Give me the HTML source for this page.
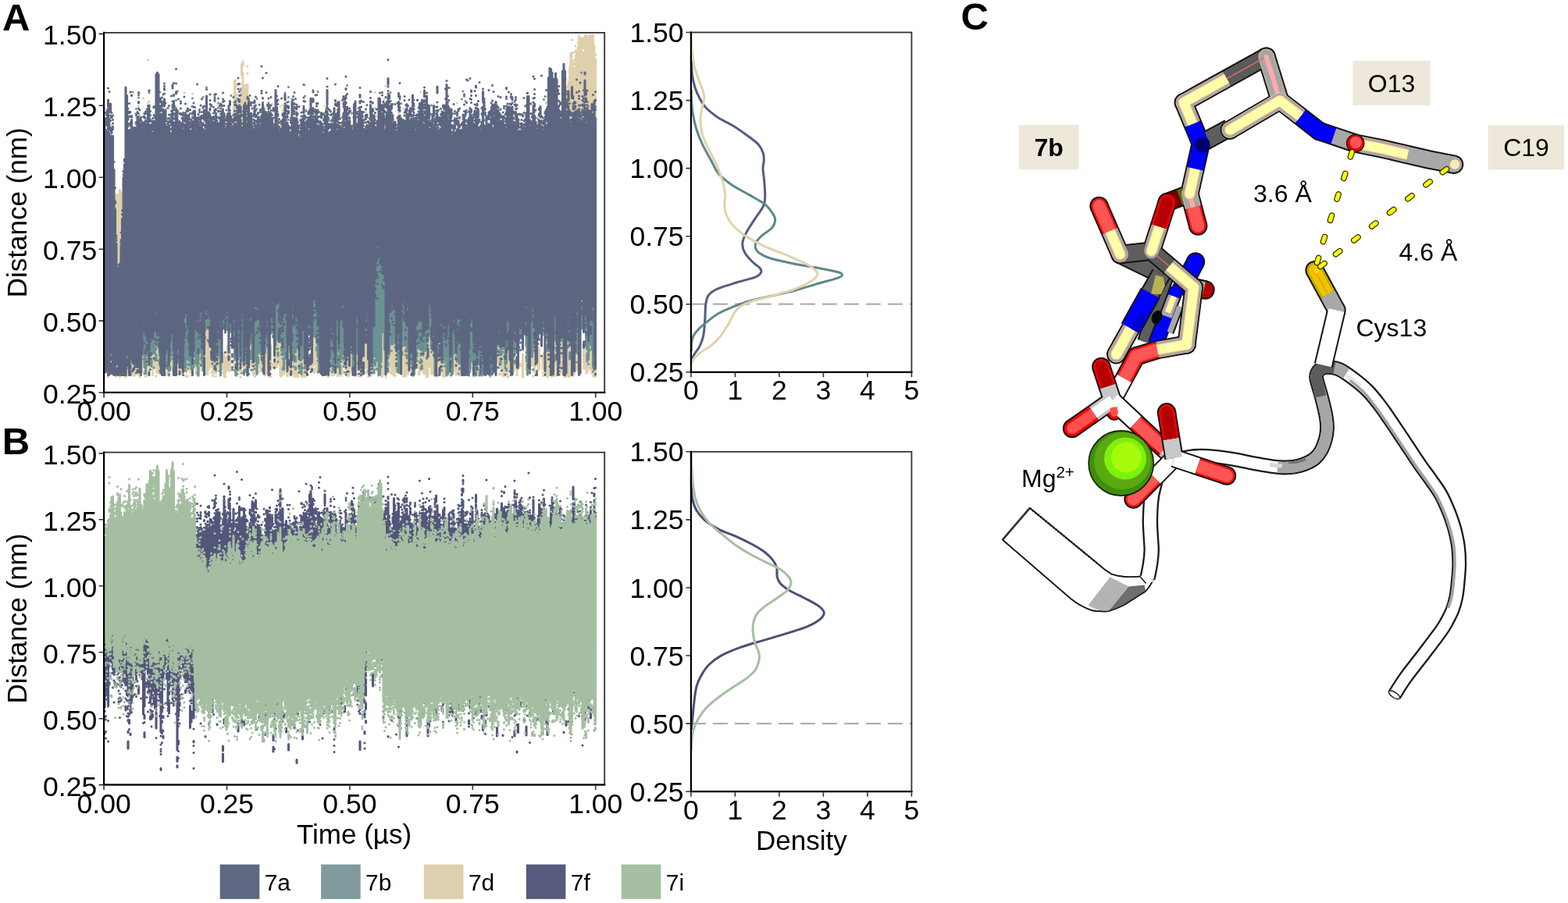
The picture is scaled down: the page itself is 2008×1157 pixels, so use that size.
<!DOCTYPE html>
<html lang="en"><head><meta charset="utf-8"><title>Figure</title>
<style>
html,body{margin:0;padding:0;background:#fff;width:2008px;height:1157px}
svg{display:block;font-family:'Liberation Sans', sans-serif;fill:#000}
</style></head><body>
<svg width="2008" height="1157" viewBox="0 0 2008 1157">
<rect width="2008" height="1157" fill="#fff"/>
<g transform="scale(0.5)" fill="none" stroke-width="6.2" stroke-linecap="round">
<path d="M268 295v0m0 607v27m0 20v0M271 280v0m0 15v0m0 626v21M274 920v32M277 292v0m0 655v14m0 5v0M280 340v0m0 615v3M283 900v40M286 321v0m0 572v53M289 322v0m0 632v0M292 928v19m0 11v2M295 504v38m0 382v25m0 5v3m0 5v0M298 498v132m0 289v45M301 503v195m0 196v64M304 499v200M307 487v199m0 258v3m0 5v3m0 5v5M310 494v145m0 316v0M319 950v3M322 922v44M325 367v0m0 538v49m0 6v2M328 307v0m0 32v0m0 539v67m0 4v0M334 340v0m0 575v18m0 5v0m0 8v0M337 888v73M340 347v0m0 547v63M343 354v0m0 573v18m0 11v0m0 7v0M346 292v0m0 23v0m0 28v0m0 554v64M349 302v0m0 40v0m0 589v15m0 4v0M352 309v0m0 29v0m0 587v19m0 8v1M355 272v0m0 44v1m0 6v0m0 20v0m0 527v91M358 239v0m0 58v0m0 7v0m0 26v0m0 619v6m0 11v0M361 927v18m0 8v3M364 867v86M367 252v0m0 80v0m0 565v42m0 13v0M370 328v0m0 6v0m0 601v1m0 16v0m0 8v0M373 905v47m0 5v0m0 8v0M376 895v48m0 6v0m0 11v0M379 154v0m0 109v0m0 25v0m0 582v72m0 10v0m0 6v0m0 4v0M382 260v0m0 35v0m0 16v0m0 595v44M385 321v0m0 6v0m0 5v0m0 6v0m0 536v52M388 891v38M391 310v0m0 565v74m0 6v0m0 6v0M394 277v0m0 39v0m0 6v0m0 572v47M397 297v0m0 23v0m0 572v46m0 6v0M400 287v0m0 583v74m0 8v0m0 12v0M403 303v0m0 549v94m0 7v2M406 288v0m0 12v0m0 536v105m0 9v2M409 871v71m0 8v1m0 5v1M421 954v0M424 875v57m0 5v5m0 18v0M427 303v0m0 7v0m0 622v11m0 12v0M430 922v35m0 4v0M433 326v0m0 584v37M436 333v0m0 564v46m0 8v0M439 868v74m0 5v1M442 866v74M445 890v47m0 7v0M451 946v5m0 10v0M454 852v90m0 5v3m0 9v0M457 284v0m0 33v0m0 13v0m0 508v106M460 321v0m0 615v19m0 4v0M463 763v191M466 317v0m0 5v0m0 615v20M469 314v0m0 634v1m0 6v0M472 238v0m0 696v7m0 4v0M475 304v0m0 628v18m0 13v0M478 294v2m0 12v0m0 8v0m0 453v178m0 6v2m0 9v1M481 306v0m0 608v35m0 15v0M484 310v0m0 40v0m0 569v22m0 5v0M487 899v46m0 9v0M490 272v0m0 33v0m0 575v73m0 9v0M493 240v0m0 63v0m0 601v33M496 296v0m0 36v0m0 572v33M499 322v0m0 555v66M502 912v46M505 909v52M508 320v0m0 8v0m0 595v34m0 6v0M511 296v0m0 20v0m0 581v44m0 5v0M514 322v0m0 458v149m0 5v0M517 870v68m0 11v1M520 876v58m0 6v7M523 902v48m0 8v0M526 840v113m0 6v0M529 816v129m0 10v0M532 287v0m0 47v0m0 501v116m0 5v3M535 298v0m0 13v0m0 4v0m0 521v105m0 6v0M538 865v66m0 7v0M541 308v0m0 570v55m0 5v4m0 12v0M544 885v56m0 7v0m0 6v0m0 8v0M547 306v0m0 535v109m0 7v0m0 7v0M550 920v31M553 305v0m0 558v93m0 8v0M556 324v0m0 8v0m0 541v69m0 7v2M559 764v166m0 6v5M562 299v0m0 14v0m0 16v0m0 568v47M565 933v9m0 5v0M568 313v0M571 798v2m0 112v35m0 8v0M574 783v17m0 104v55m0 6v0M577 914v45m0 5v2M580 775v25M583 291v0m0 481v28m0 87v62M589 893v58M592 332v0M595 313v0M598 261v0m0 14v0m0 5v0m0 6v11m0 5v28m0 463v7M601 207v126m0 577v32m0 9v0M604 206v0m0 10v4m0 4v0m0 14v91m0 584v29m0 5v6M607 243v0m0 21v66m0 585v33m0 7v0m0 8v0M610 263v0m0 12v0m0 9v33m0 588v47M613 274v0m0 7v0m0 9v0m0 14v8m0 577v61m0 8v0M616 232v0m0 11v7m0 5v0m0 6v1m0 6v3m0 11v35m0 572v62m0 15v0M619 165v28m0 22v0m0 8v4m0 6v100m0 585v19M622 158v11m0 18v0m0 4v0m0 6v4m0 6v126m0 572v22m0 13v0m0 10v0M625 222v110m0 587v22m0 6v8M628 219v0m0 20v90m0 589v23m0 9v0M631 217v0m0 9v23m0 4v103m0 559v24M634 170v0m0 18v0m0 30v18m0 5v0m0 5v3m0 12v80m0 592v4m0 5v5M637 273v0m0 7v0m0 663v0M640 860v76M643 874v66M646 871v69M649 321v0m0 599v40M652 321v0m0 580v54m0 10v0M655 346v0m0 574v36m0 5v1M658 939v16m0 5v0M661 880v58m0 5v0M664 303v0m0 9v0m0 13v0m0 531v84m0 10v4M667 303v3m0 18v0m0 524v91m0 7v2M670 300v0m0 589v53M673 901v48M679 274v0m0 611v77M682 306v0m0 558v72m0 12v0m0 8v0M685 843v100m0 5v0m0 6v0M688 321v0m0 606v36M691 922v27m0 8v3m0 5v0M694 310v0m0 483v7m0 85v61m0 12v0m0 7v0M697 267v0m0 500v33M700 282v0m0 487v31m0 132v10M703 905v29m0 5v0M706 757v180M709 767v168m0 6v0M712 285v0m0 37v0m0 454v137m0 7v0m0 8v0M715 339v0m0 436v153m0 6v0M718 274v0m0 49v0m0 541v99M721 873v91M724 270v0m0 13v0m0 615v48m0 4v6m0 4v0M727 279v0m0 609v64m0 4v2M730 885v58M733 254v0m0 14v0m0 48v0m0 450v180m0 7v0M736 905v59M739 875v72m0 11v0M742 887v55M745 935v18m0 9v0M748 773v163m0 11v0M751 278v0m0 480v201M754 290v0m0 14v0m0 586v76M757 761v190m0 12v2M760 273v0m0 9v0m0 18v0m0 29v0m0 538v83m0 4v5M763 842v115m0 5v4M766 325v0m0 567v52M769 358v0m0 545v50M772 321v0m0 595v44m0 5v0M775 912v39m0 4v1m0 7v2M778 282v0m0 45v0m0 547v86m0 4v0M781 218v0m0 109v3m0 6v0m0 590v39M784 929v30M787 350v0m0 590v1m0 16v0M793 936v5m0 6v0M796 321v0M799 909v36M802 761v39m0 118v19m0 7v3M805 301v0m0 18v0m0 5v0m0 405v206m0 13v7M808 311v0m0 536v87m0 9v0M811 870v77M814 331v0m0 577v40m0 6v1M817 938v1m0 11v0M820 351v0m0 571v20m0 8v0M823 325v0m0 608v18m0 5v3M826 939v6m0 12v0M829 303v0m0 37v0m0 539v55M832 272v0m0 17v0m0 619v34M838 310v0m0 601v50M841 952v4m0 5v4M844 935v9m0 8v0m0 7v0M847 821v124M850 908v37m0 5v0m0 12v0M853 912v35m0 6v0m0 6v0M856 896v60m0 5v0M859 921v18M862 879v68m0 5v0M865 895v68M868 892v69M871 317v0m0 12v0m0 592v28m0 6v0M874 318v0m0 25v0m0 542v72m0 5v1M877 758v184m0 5v10M880 264v0m0 614v39m0 6v2m0 4v5M883 332v0m0 558v35m0 15v0M886 871v69m0 5v1M889 280v0m0 619v64M892 294v0m0 612v58M895 305v0m0 599v51m0 5v0M898 313v2m0 526v110M901 320v0m0 558v47m0 6v0M904 300v0m0 51v0M907 278v0m0 17v0m0 40v0m0 7v0m0 550v43m0 7v2m0 9v0M910 958v0M913 337v0m0 558v41m0 4v0M916 322v0m0 556v65m0 5v0m0 10v0M919 939v2m0 8v0m0 15v0M922 309v0m0 590v42m0 11v0M925 295v0m0 633v36M928 297v0m0 582v75m0 5v0M931 336v0m0 570v25m0 9v0m0 4v0M934 300v0m0 531v111m0 13v0M937 287v0m0 561v95m0 10v2M940 769v176M943 320v0m0 589v35m0 12v1m0 8v0M949 309v0m0 618v23m0 4v0m0 9v0M952 293v0m0 6v0m0 20v0m0 605v22m0 7v0m0 7v0M955 343v0m0 428v164m0 11v0M958 334v0m0 571v35m0 10v0m0 6v0M961 237v0m0 39v0m0 24v0m0 10v0m0 26v3m0 549v53m0 5v0M964 298v0m0 600v33M967 279v0m0 634v33m0 4v2M970 250v0m0 64v0M973 287v0m0 42v0M976 918v35m0 9v0M979 844v122M982 287v0m0 20v0m0 538v101m0 7v3M985 253v0m0 627v70m0 9v0M988 220v0m0 42v0m0 48v0m0 643v13M991 275v0m0 11v0m0 21v0m0 591v57M994 285v0m0 627v24M997 898v40M1000 770v169m0 14v3M1003 297v0m0 467v183m0 9v0M1006 762v198M1009 838v124M1012 849v105m0 7v2M1015 883v64m0 5v2M1018 303v0m0 595v48M1021 289v0m0 11v0m0 600v50M1024 888v68M1027 325v0M1030 320v0m0 7v0m0 439v176M1033 280v0m0 482v202M1036 340v0m0 539v85M1039 298v0m0 46v0m0 535v67m0 6v7m0 5v0M1042 768v189M1045 875v84M1048 312v0m0 18v0m0 619v2M1051 891v55M1054 922v24M1057 273v0m0 647v14m0 14v4M1060 284v0m0 5v0m0 6v0m0 647v6m0 8v0m0 7v0M1063 920v28m0 7v0M1066 919v19M1069 875v60m0 7v0M1072 335v0m0 521v84m0 14v0m0 5v0M1075 345v0m0 4v0m0 530v75m0 5v0M1078 236v0m0 644v68M1081 333v0m0 555v48M1084 326v0m0 528v100M1087 876v82M1090 870v85M1093 868v98M1096 833v131M1099 330v0m0 423v185M1102 763v176M1105 296v1m0 586v70m0 5v0M1108 872v86M1111 863v88m0 5v0M1114 324v0m0 6v0m0 566v57m0 7v2M1117 283v0m0 680v1M1120 900v46m0 5v0m0 6v0M1123 349v0m0 504v97m0 4v0m0 5v0M1126 868v87M1129 309v0m0 565v78M1132 909v29m0 4v3m0 10v0M1135 916v39m0 5v4M1138 298v0m0 32v0m0 583v52M1141 333v0m0 568v38m0 4v0m0 11v0M1144 907v25M1147 282v0m0 35v0m0 16v0m0 618v8M1150 939v23M1153 308v3m0 601v27m0 7v2m0 6v0M1156 903v30m0 5v0m0 9v0M1159 327v0m0 575v38m0 8v0M1162 314v0m0 559v70M1165 301v0m0 5v4m0 8v0m0 23v0m0 535v68m0 5v2M1168 335v0m0 564v47m0 5v0m0 4v0m0 5v1M1171 264v0m0 24v0m0 43v0m0 571v38m0 12v2M1174 335v0m0 582v29m0 4v0M1177 307v0m0 18v0m0 601v30m0 6v0M1183 341v0m0 587v11m0 7v0M1186 894v49m0 8v0M1189 922v26M1192 312v0m0 9v0M1195 840v109M1198 952v2M1201 912v28m0 7v0m0 8v0M1204 906v38m0 5v0M1207 308v0m0 593v33m0 14v0M1210 881v61M1213 924v30m0 11v0M1216 942v2m0 6v0M1219 304v0m0 657v0M1222 921v34m0 5v1M1225 925v21m0 10v2M1228 776v164m0 6v3M1231 312v0m0 642v0M1234 275v0m0 21v0m0 475v163m0 10v4M1237 327v0m0 6v0m0 582v42m0 5v0M1240 253v4M1243 954v2M1246 906v40m0 7v5M1252 327v0m0 590v41M1255 320v0m0 638v7M1258 327v0m0 615v7m0 6v2M1261 315v0m0 593v39m0 5v0m0 5v0M1264 264v0M1267 297v0m0 471v156m0 10v0M1273 866v63m0 12v0M1276 320v0m0 544v62M1279 761v175m0 5v2m0 14v3M1282 782v161m0 8v0m0 8v0M1285 862v65m0 10v4M1288 341v0m0 506v102m0 4v4m0 5v1M1291 300v0m0 578v79m0 7v0M1294 300v0m0 578v56m0 14v0M1297 908v45m0 4v0M1300 285v0m0 7v0m0 34v0m0 446v189m0 5v0M1303 299v3m0 549v93m0 20v0M1306 916v11M1312 955v4M1315 306v0m0 15v0m0 539v93M1318 327v0m0 551v58m0 9v0M1324 929v33M1330 292v2m0 13v0m0 24v0m0 456v13M1333 323v0m0 610v0m0 5v0M1339 339v0m0 5v0m0 564v58M1342 294v0m0 476v30M1345 272v0m0 489v39M1348 318v0m0 562v68M1351 903v31M1354 313v0m0 15v3M1357 328v0m0 611v4M1360 851v74m0 11v0M1363 325v0m0 548v61m0 13v0M1366 882v55m0 10v3m0 14v0M1369 286v0m0 489v25m0 130v19m0 6v0M1372 333v0M1375 312v0m0 31v0M1378 298v0m0 13v0m0 4v1m0 20v0m0 554v58M1381 331v0m0 447v22m0 93v53M1384 313v2m0 473v12M1387 312v0M1390 325v0m0 461v14m0 117v29m0 9v0m0 8v0M1393 306v0m0 598v14m0 13v0M1399 248v0m0 13v0m0 4v0m0 41v0m0 622v28M1402 863v103M1405 330v0m0 10v0m0 545v61m0 6v0m0 8v0M1408 316v0m0 564v69m0 4v8M1411 952v3m0 6v0M1414 298v0m0 622v32m0 11v2M1417 913v34m0 8v3m0 5v0M1420 755v186m0 8v3M1423 264v0m0 25v0m0 575v82m0 13v4M1426 874v68m0 11v4M1429 302v2m0 608v20M1432 296v0m0 614v28M1435 772v183M1438 263v0m0 586v106M1441 268v0m0 23v0m0 11v0m0 443v212M1444 267v0m0 646v38m0 7v0M1447 292v0m0 6v0m0 9v2m0 4v23m0 607v23M1450 203v0m0 27v98m0 621v15M1453 223v0m0 11v88m0 530v104M1456 211v109m0 547v98M1459 172v0m0 5v14m0 5v139m0 544v85M1462 137v205m0 481v130M1465 102v0m0 33v0m0 5v0m0 6v0m0 10v188M1468 135v0m0 20v0m0 17v0m0 10v147m0 491v143M1471 154v0m0 8v3m0 9v158m0 613v13M1474 118v0m0 12v4m0 9v0m0 6v0m0 10v7m0 9v155m0 535v84M1477 131v209m0 556v52M1480 110v0m0 13v207m0 548v59m0 10v0M1483 92v231M1486 116v22m0 6v0m0 9v168m0 626v11M1489 98v36m0 9v185m0 426v46M1492 99v22m0 17v186m0 437v39M1495 118v2m0 4v0m0 10v0m0 5v190m0 550v52m0 7v0m0 4v2M1498 91v36m0 5v170m0 464v34m0 86v42m0 5v3m0 7v0M1501 91v248m0 426v177m0 6v0m0 8v0M1504 95v235m0 551v58m0 11v4M1507 95v225m0 570v55M1510 91v230m0 556v64M1513 91v243m0 533v72m0 6v0M1516 91v242m0 441v182M1519 91v11m0 4v205m0 617v31m0 5v0M1522 118v197m0 592v54M1525 140v1m0 11v162m0 607v31m0 5v1m0 7v0" stroke="#dfd0ab"/>
<path d="M268 334v0M286 299v0m0 597v0M301 906v0m0 20v0M322 922v34M325 917v8m0 19v0M328 348v0m0 550v0M331 338v0m0 17v0m0 11v0M334 343v0m0 8v0m0 564v5m0 9v0M337 834v63m0 7v0m0 20v0M340 236v0m0 637v27m0 6v5M343 362v3M346 887v53M349 279v0m0 12v0m0 53v0M352 926v0M355 250v0m0 588v55m0 7v0m0 14v2m0 4v8M358 326v0m0 7v0M364 853v30m0 20v0M367 337v0m0 485v81m0 17v0M370 291v0m0 35v0m0 487v128m0 16v0M373 303v0m0 27v0m0 515v66m0 12v34M376 280v0m0 575v46m0 9v2m0 7v0m0 6v0m0 10v0M379 308v0m0 18v0m0 525v57M382 232v0m0 5v0m0 674v2M385 829v51m0 5v2m0 5v0M388 822v88m0 10v19M391 798v86M394 796v109m0 37v0M397 298v0m0 20v0m0 13v0m0 438v137m0 12v5M400 226v0m0 41v0m0 19v0m0 496v94m0 17v2m0 14v14M403 259v0m0 567v42m0 12v5m0 39v0M406 824v18m0 6v32m0 5v4M409 275v0m0 10v0m0 561v31m0 5v30m0 8v15m0 15v0M415 335v3M418 262v0m0 34v0M421 314v0M424 281v0m0 45v0m0 514v45m0 10v0m0 13v8M427 305v0m0 19v0m0 495v119m0 5v0M430 304v0m0 7v0m0 578v39m0 8v10M433 897v53m0 8v4M436 869v34m0 21v0m0 17v0m0 5v0M439 301v0m0 505v106m0 7v0M442 804v68m0 9v0m0 13v2M445 303v0m0 11v0m0 13v0m0 584v0m0 7v24M448 272v0m0 5v0m0 20v0M451 236v0m0 21v0m0 20v0m0 4v1M454 286v0m0 564v8m0 17v0M457 790v109M463 774v160M472 807v136M475 796v145m0 8v1M478 780v137m0 4v0m0 13v0M481 827v93m0 13v0m0 11v0M484 814v111m0 11v0M487 312v0m0 553v48m0 19v1M490 837v49m0 19v0m0 8v33M493 252v0m0 41v0m0 611v45M496 291v0m0 25v0m0 6v0m0 7v0m0 559v24m0 11v13m0 4v0M499 837v73M502 803v115m0 5v0m0 5v3M505 306v0m0 14v0m0 487v131m0 18v0M508 811v121m0 9v21M511 306v2m0 491v104M514 780v121m0 17v0m0 16v3M517 317v0m0 470v89m0 19v31M520 249v0m0 28v0m0 54v0m0 453v116m0 10v5m0 9v24M526 311v0m0 16v0m0 452v67m0 19v0M529 224v0m0 563v35M532 797v44m0 30v1M535 787v55M538 323v0m0 481v67m0 8v4M541 878v0M547 301v0m0 504v42m0 11v2m0 12v32M553 843v29m0 6v0m0 12v0m0 10v0m0 11v2m0 31v5M556 331v0m0 499v49m0 4v0m0 8v0m0 16v0m0 16v0m0 7v4M559 264v0m0 12v0m0 10v0m0 30v0m0 23v0m0 449v113m0 10v0M562 813v93m0 8v0m0 16v0m0 20v0M565 804v158M571 798v45M574 784v50M577 802v16M580 282v0m0 16v3m0 28v0m0 444v61M583 295v0m0 21v0m0 454v76M589 319v0m0 483v49M592 245v0m0 576v12M595 307v0m0 4v0m0 503v26M598 793v27M601 788v129m0 5v0m0 27v0M604 899v20m0 18v25M607 915v25m0 7v0m0 12v0M610 774v137m0 4v0m0 4v2m0 11v0m0 15v0M613 257v0m0 12v0m0 528v98M616 229v0m0 46v1m0 613v15m0 10v2M619 286v0m0 504v134m0 32v0M622 781v130m0 15v0M625 917v8m0 7v2m0 15v2m0 9v0M628 273v0m0 30v0m0 533v88m0 23v0m0 5v0M631 882v44M634 921v41M637 255v0M640 293v0m0 12v0m0 490v71m0 4v0m0 12v0m0 20v0M643 292v0m0 504v84m0 19v21m0 28v0M646 312v0m0 516v51m0 5v21m0 23v0m0 20v0M649 929v0M652 331v0m0 446v130m0 10v0m0 28v0M655 341v0m0 437v148m0 9v0M658 253v0m0 26v0m0 494v185M661 322v0m0 463v109m0 7v1m0 13v16M664 300v0m0 14v0m0 15v0m0 460v116M667 283v0m0 43v0m0 468v60m0 35v0M673 801v106m0 10v0m0 9v6m0 12v8M679 829v75M682 289v0m0 32v0m0 491v61m0 7v2m0 8v0M685 268v0m0 537v44m0 8v17M688 264v0m0 58v0M694 297v0m0 10v0m0 13v0m0 473v43M697 765v89M700 763v66M703 333v0M706 773v68m0 16v28M709 324v0m0 456v40m0 14v38m0 22v0M712 314v0m0 462v74m0 10v5m0 29v0m0 9v9m0 15v0M715 325v3m0 6v0m0 435v53m0 20v0M718 310v0m0 477v83M721 790v89m0 10v9m0 9v2M724 791v119m0 9v0m0 24v3M727 304v0m0 455v137m0 11v0m0 13v0m0 5v22M730 760v131m0 4v0m0 6v18M733 772v92M736 905v27M739 223v0m0 26v0m0 12v0m0 46v0m0 17v0M742 338v0m0 476v87M748 254v0m0 527v99M751 332v4m0 436v151m0 16v0M754 288v0m0 39v0m0 6v0m0 457v106m0 15v0m0 15v0M757 333v0m0 431v139m0 11v12m0 15v5M760 794v79m0 10v0M763 292v0m0 55v0m0 441v60m0 32v0m0 5v0M766 894v3m0 42v5M769 337v0m0 492v80m0 9v5m0 27v0M772 306v0m0 43v0m0 463v110m0 10v1m0 5v6m0 5v10M775 830v88m0 25v0M778 295v0m0 32v0m0 6v0m0 501v46m0 9v0M781 246v0m0 60v0m0 620v5m0 8v5m0 9v0M784 283v2m0 630v28M787 337v0m0 609v3m0 8v0M790 813v27M793 824v8M802 763v97M805 325v0m0 437v101M808 763v90M811 265v0m0 519v94m0 13v0m0 6v0M814 235v0m0 76v2m0 495v106m0 10v0m0 28v0M817 314v0m0 12v0m0 5v0m0 470v143m0 5v5M820 329v0m0 602v1M826 294v0M829 291v0m0 16v0m0 572v3M832 894v24M835 280v0m0 6v0m0 618v51m0 4v0M838 277v0m0 634v6m0 24v0M841 293v0m0 30v0M844 309v0m0 587v45m0 8v0M847 787v40m0 5v7M850 312v0m0 477v125m0 6v0m0 7v3m0 24v0M853 795v139m0 5v11M862 781v140M865 297v0m0 498v106m0 16v24M868 282v0m0 577v39m0 12v26M871 777v150m0 10v20M874 334v0m0 9v1m0 434v117m0 4v20m0 8v0M877 314v0m0 451v128m0 15v0M880 767v117m0 10v12m0 10v6m0 17v0M883 261v0m0 69v4m0 542v31m0 47v0M886 307v0m0 540v30m0 5v0m0 18v0m0 39v0M889 219v0m0 62v0m0 624v0M898 284v0m0 543v20m0 4v0M901 290v0m0 38v0m0 550v6M904 340v0m0 535v73m0 5v4M907 306v0m0 55v0m0 521v16m0 17v0m0 11v0m0 7v2m0 8v0M910 357v0m0 599v6M913 796v105m0 5v0M916 801v83m0 47v0M919 947v0M922 309v1m0 476v119m0 14v16m0 7v0M925 260v0m0 39v0m0 632v12M928 824v62m0 12v0M934 306v0m0 528v0M937 795v72M940 296v0m0 486v85m0 11v0M943 321v0m0 562v32m0 36v0M946 303v0m0 13v0m0 642v4M949 772v165M955 780v135m0 6v0m0 8v1m0 4v0m0 4v0m0 6v0M958 333v0m0 428v150m0 12v0m0 5v4m0 17v7M961 700v194m0 6v0m0 6v8m0 9v0m0 4v9M964 663v262m0 20v1M967 618v301M970 623v339M973 631v328M976 608v319m0 11v3M979 324v0m0 322v204M982 291v0m0 390v170M985 267v0m0 30v0m0 398v201M991 882v51m0 19v0M994 272v0m0 30v0m0 592v24m0 12v0m0 6v0m0 7v9M997 290v0m0 32v0m0 435v151M1000 237v0m0 65v0m0 466v97m0 6v3m0 9v0M1003 770v111m0 18v0M1006 267v0m0 508v93m0 7v0m0 7v0M1009 778v100M1012 315v0m0 459v81m0 18v0m0 16v2M1015 885v0M1018 849v55m0 9v0m0 19v0m0 12v8M1021 785v170M1024 888v21M1027 265v0m0 51v0M1030 775v99m0 14v0m0 14v7M1033 768v101m0 4v0m0 7v5M1036 327v0m0 7v0m0 443v108M1039 269v0m0 55v0m0 25v0m0 469v67m0 12v3m0 9v0M1042 270v0m0 72v0m0 438v121m0 9v8m0 12v1M1045 773v116M1048 305v0M1051 812v85m0 17v0m0 19v0M1054 878v50m0 14v0M1057 879v83M1063 893v33m0 17v0M1066 296v0m0 34v0m0 498v97m0 11v0M1069 309v0m0 478v94m0 24v0m0 7v0m0 13v0M1072 795v67m0 17v13M1075 355v0m0 437v93m0 5v4m0 34v0M1078 344v0m0 473v69m0 9v2m0 13v1m0 10v10m0 10v4M1081 318v0m0 14v0m0 480v85m0 10v1m0 18v0m0 11v1m0 5v2M1084 854v6m0 10v6m0 9v25M1087 323v0m0 520v50M1090 784v92m0 6v13m0 4v0M1093 813v61m0 5v0m0 4v9m0 23v4M1096 327v0m0 479v33m0 15v3m0 8v0m0 7v4M1099 324v0m0 449v87M1102 317v0m0 5v0m0 462v71m0 6v0M1105 270v0m0 515v108m0 9v0M1108 845v33M1111 288v1m0 9v0m0 539v34m0 13v0m0 25v0M1114 333v0m0 497v74m0 4v54M1117 284v0M1120 811v95m0 5v5m0 9v0m0 36v1M1123 326v0m0 29v0m0 474v35m0 4v0m0 30v0m0 5v0M1126 868v4m0 14v0m0 28v0M1129 331v0m0 450v100m0 5v0m0 22v0M1132 296v0m0 30v0m0 470v119m0 14v0m0 9v0m0 11v0M1135 789v133M1138 304v0m0 34v0m0 488v95m0 8v0m0 9v0M1141 287v0m0 538v82m0 18v0M1144 799v114m0 6v0m0 13v30M1147 809v148M1150 340v0m0 456v149m0 6v0M1153 906v12m0 5v0m0 29v0M1156 901v9m0 16v0m0 6v0m0 27v3M1159 799v159M1162 805v74m0 28v0M1165 789v97m0 5v2m0 4v5M1168 891v14m0 9v5M1171 311v0m0 475v122m0 9v9M1174 334v0m0 467v122m0 5v0m0 30v0M1177 800v132m0 11v3M1180 341v0m0 470v29M1183 254v0M1186 234v0m0 103v0m0 476v16M1189 243v0m0 4v0m0 80v0M1192 259v0m0 29v3M1195 282v0m0 30v0m0 9v0m0 465v60m0 11v8m0 9v0m0 14v0M1198 340v0M1201 886v76M1204 796v149m0 7v0M1207 803v124M1210 333v0m0 469v85m0 8v0M1213 869v61M1216 868v80M1219 296v0m0 15v2m0 494v155M1222 905v22m0 9v0m0 10v0M1225 311v0m0 572v48m0 17v0M1228 312v0m0 23v0m0 452v146m0 22v0m0 6v1M1231 880v74M1234 784v178M1237 321v0m0 561v39m0 24v0M1240 330v0M1243 331v0M1246 302v0m0 604v38m0 5v0M1252 328v0M1255 880v82M1258 780v181M1264 299v0m0 621v34M1267 783v115m0 4v0M1270 312v0M1273 327v0m0 13v0m0 491v41m0 14v0m0 9v1M1276 823v54M1279 309v0m0 490v89m0 11v0m0 7v0m0 28v0M1282 797v113m0 15v9M1285 323v0m0 481v85m0 12v0m0 7v0M1288 818v35m0 10v1m0 30v0m0 8v0M1291 300v0m0 577v8m0 29v0M1294 327v0m0 538v69m0 6v0m0 4v0M1297 800v131m0 14v4M1300 792v83m0 4v0M1303 313v0m0 9v0m0 455v80m0 12v0m0 6v3M1315 780v87m0 11v0m0 12v0m0 21v3M1318 833v54m0 8v0m0 4v0m0 6v0m0 19v6M1321 298v0m0 537v24M1324 307v3M1330 787v59M1333 834v18M1336 826v25M1339 295v0m0 40v0M1342 331v3m0 436v68M1345 272v0m0 49v0m0 449v85M1348 305v0m0 471v111m0 16v0m0 11v0m0 5v0m0 6v0M1351 311v0m0 15v0m0 453v130m0 16v1m0 7v27M1354 945v0M1357 951v1M1360 773v84m0 7v0m0 10v39M1363 769v110m0 7v28M1366 780v108m0 59v0M1369 281v0m0 6v0m0 488v60M1378 305v0m0 508v6M1381 778v55M1384 297v0m0 491v61M1390 318v0m0 468v71M1393 255v0m0 561v20M1396 247v0m0 56v0M1399 842v7M1402 815v54m0 4v0m0 10v16M1405 282v0m0 17v0m0 586v1m0 13v0M1408 306v0m0 574v19M1420 765v106m0 20v0m0 19v0m0 9v7M1423 267v0m0 7v0m0 21v0m0 475v100m0 45v0M1426 876v0m0 12v1m0 11v0M1429 916v0M1432 926v7m0 18v0M1435 295v0m0 16v0m0 475v87m0 10v0M1438 827v28m0 18v0M1441 301v0m0 456v99M1447 286v0m0 27v0m0 7v0M1450 314v0M1453 813v45m0 28v0m0 5v0M1456 314v0m0 501v58m0 16v0M1459 801v84m0 18v17M1462 294v0m0 509v26m0 28v0M1468 766v60m0 6v19m0 10v20M1471 325v0M1474 277v0m0 588v1m0 12v13M1477 315v0m0 477v113m0 23v0M1480 299v0m0 478v107m0 19v3M1483 290v0M1489 186v0m0 590v66M1492 270v0m0 41v0m0 467v47M1495 274v0M1498 776v61M1501 780v87m0 6v0m0 4v11M1504 790v105m0 11v20M1507 272v0m0 10v0m0 522v117m0 12v0M1510 290v0m0 519v74m0 13v2M1513 295v0m0 5v0m0 513v60M1516 784v112M1519 292v0m0 7v0m0 6v18m0 431v187m0 11v0M1522 309v25M1525 308v21" stroke="#6b9292"/>
<path d="M268 308v634m0 12v0M271 289v0m0 14v0m0 8v0m0 22v615m0 5v0M274 285v0m0 8v3m0 7v3m0 9v6m0 18v587m0 24v0M277 226v0m0 30v17m0 6v3m0 8v10m0 9v7m0 8v7m0 6v616m0 5v3M280 235v0m0 39v0m0 11v2m0 16v3m0 7v0m0 5v3m0 5v6m0 10v618M283 266v20m0 10v0m0 13v0m0 18v2m0 6v0m0 15v556m0 7v0m0 7v0m0 11v0m0 6v0m0 4v13M286 289v0m0 12v0m0 30v4m0 5v1m0 7v554m0 11v5m0 4v0m0 11v8m0 5v0m0 11v0M289 296v0m0 11v0m0 9v0m0 9v1m0 5v0m0 18v609M292 415v0m0 20v499m0 6v21M295 481v0m0 35v5m0 15v396m0 5v0m0 9v7M298 604v0m0 6v0m0 6v0m0 8v310m0 9v18M301 679v0m0 13v210M304 686v275M307 676v277M310 596v0m0 19v0m0 4v3m0 6v0m0 5v328M313 539v0m0 10v1m0 11v400M316 439v1m0 8v0m0 7v506M319 408v6m0 7v540M322 224v737M325 245v666m0 10v17M328 278v0m0 25v3m0 12v0m0 6v0m0 10v20m0 9v540M331 265v0m0 21v4m0 8v0m0 19v0m0 17v0m0 8v0m0 8v11m0 7v593M334 236v0m0 51v0m0 12v0m0 15v0m0 6v2m0 11v0m0 4v17m0 4v4m0 4v555m0 14v9m0 8v9M337 244v1m0 52v3m0 7v45m0 4v484m0 6v3m0 5v0m0 9v0m0 4v0m0 5v0m0 5v12m0 18v8M340 331v0m0 5v2m0 5v0m0 5v565m0 5v12m0 17v4M343 327v21m0 18v567m0 10v4M346 327v566m0 47v0M349 295v0m0 18v0m0 5v0m0 10v0m0 17v0m0 9v583m0 19v0M352 287v1m0 12v0m0 4v1m0 4v24m0 4v604m0 8v4M355 237v0m0 6v0m0 18v3m0 14v0m0 13v0m0 8v0m0 8v14m0 4v5m0 13v507m0 8v0m0 20v5m0 4v12M358 282v0m0 23v0m0 11v2m0 4v633M361 301v0m0 6v3m0 9v0m0 6v0m0 8v2m0 5v616m0 5v0M364 313v10m0 7v2m0 4v1m0 8v514m0 6v44M367 299v0m0 22v12m0 8v487m0 13v7m0 34v0M370 292v0m0 7v3m0 11v3m0 10v10m0 9v474m0 17v0m0 13v0m0 30v0M373 286v1m0 4v0m0 18v2m0 6v3m0 4v0m0 9v526m0 37v10M376 323v0m0 4v10m0 7v0m0 4v515m0 7v0m0 14v6m0 37v0M379 271v0m0 6v54m0 9v517m0 18v0m0 9v0m0 6v7M382 232v0m0 38v33m0 8v0m0 8v616m0 19v7M385 285v0m0 10v0m0 12v4m0 11v0m0 7v538m0 6v2m0 35v0m0 9v0m0 28v0M388 319v15m0 7v494m0 6v0m0 24v0m0 41v0M391 303v0m0 7v7m0 7v0m0 16v2m0 10v452m0 4v0m0 5v7m0 10v0m0 7v31M394 273v2m0 20v0m0 15v24m0 6v466m0 4v0m0 7v3m0 6v26m0 66v0M397 302v0m0 13v0m0 10v0m0 7v2m0 5v446m0 9v0m0 4v0m0 10v6m0 13v0m0 42v0M400 190v598m0 24v0m0 4v31m0 34v0M403 186v673m0 13v0M406 191v641m0 8v0m0 8v0m0 4v0m0 20v0m0 15v0M409 236v0m0 16v2m0 5v1m0 13v3m0 7v3m0 8v558m0 7v0m0 10v0m0 10v22M412 252v0m0 6v4m0 9v3m0 4v0m0 6v0m0 8v0m0 9v655M415 250v0m0 17v2m0 4v0m0 9v0m0 14v2m0 9v3m0 5v0m0 6v17m0 5v618M418 242v0m0 19v1m0 18v51m0 4v626M421 214v0m0 7v0m0 6v3m0 10v0m0 14v18m0 14v0m0 6v0m0 9v9m0 4v3m0 5v639M424 264v0m0 20v17m0 6v4m0 8v0m0 5v6m0 4v570m0 34v0M427 326v1m0 16v482m0 5v3m0 8v7m0 8v8M430 277v0m0 36v5m0 6v571m0 34v0m0 8v0M433 271v0m0 23v0m0 9v0m0 10v0m0 8v5m0 6v596m0 6v0M436 307v6m0 17v0m0 11v534m0 22v0M439 246v0m0 38v0m0 8v8m0 9v0m0 7v5m0 9v1m0 10v471m0 11v2M442 218v4m0 4v0m0 34v0m0 9v2m0 5v0m0 7v0m0 5v0m0 5v3m0 5v4m0 6v543M445 213v0m0 30v2m0 14v16m0 6v0m0 11v0m0 22v0m0 8v574m0 5v0m0 6v0m0 5v0m0 6v0m0 26v17M448 282v0m0 9v0m0 13v1m0 9v0m0 4v9m0 7v627M451 177v0m0 37v0m0 22v4m0 42v2m0 5v672M454 234v0m0 49v8m0 6v2m0 5v552m0 4v33m0 12v0m0 6v7m0 5v0m0 6v0M457 254v0m0 63v0m0 8v0m0 6v3m0 9v453m0 6v3m0 7v0m0 21v22m0 5v0M460 291v0m0 20v2m0 9v620m0 10v7M463 260v0m0 5v0m0 13v0m0 13v2m0 23v441M466 294v0m0 9v0m0 12v2m0 4v6m0 4v612M469 289v0m0 6v0m0 6v0m0 5v4m0 7v2m0 13v622m0 7v0M472 248v0m0 47v0m0 8v4m0 17v2m0 6v481m0 17v36m0 10v0M475 266v0m0 23v0m0 4v0m0 6v0m0 11v2m0 7v483m0 43v3M478 284v0m0 13v1m0 5v2m0 7v1m0 6v0m0 7v449m0 9v3m0 7v0m0 8v0M481 278v0m0 4v3m0 10v3m0 8v2m0 6v519m0 7v0m0 22v0m0 6v0M484 296v0m0 5v1m0 11v0m0 18v1m0 11v4m0 5v475m0 13v2m0 8v0m0 5v4m0 10v8m0 15v0M487 281v1m0 9v0m0 15v0m0 12v0m0 5v4m0 8v577M490 307v0m0 7v0m0 9v2m0 10v508m0 14v0m0 8v0m0 30v1M493 273v0m0 16v0m0 11v0m0 11v602m0 5v13m0 19v11M496 264v0m0 10v0m0 11v6m0 12v0m0 9v9m0 7v0m0 4v567m0 14v0M499 275v0m0 9v39m0 6v514M502 301v0m0 10v0m0 14v0m0 11v473M505 216v0m0 87v24m0 4v488m0 7v23M508 293v0m0 8v4m0 7v5m0 8v0m0 10v485m0 11v1m0 9v0m0 5v3m0 18v0m0 28v11M511 281v0m0 6v0m0 32v0m0 5v481m0 10v0m0 11v28m0 8v0M514 270v0m0 29v8m0 5v1m0 13v0m0 5v467M517 254v0m0 33v0m0 9v0m0 7v0m0 15v4m0 5v466m0 16v0m0 6v0m0 6v56m0 8v6M520 274v0m0 27v1m0 13v6m0 10v0m0 4v455m0 4v11m0 13v3m0 6v46m0 22v0M523 272v0m0 10v25m0 13v1m0 12v575m0 9v44M526 289v0m0 9v0m0 5v3m0 18v0m0 16v445m0 24v0m0 8v0M529 229v0m0 17v547m0 17v0m0 6v0M532 290v0m0 10v0m0 13v0m0 5v485m0 10v0m0 26v0M535 288v9m0 7v0m0 5v7m0 9v2m0 4v462m0 5v0m0 11v0m0 67v0M538 242v0m0 15v0m0 10v0m0 11v4m0 11v1m0 4v8m0 12v4m0 5v483m0 7v0m0 20v51M541 269v3m0 28v3m0 8v3m0 6v569m0 12v5m0 6v1m0 6v0M544 306v0m0 5v0m0 4v0m0 4v604m0 9v0M547 274v0m0 16v0m0 9v3m0 13v497m0 6v7m0 41v0M550 242v1m0 6v0m0 5v0m0 5v0m0 22v4m0 16v0m0 4v1m0 6v614m0 11v9M553 241v0m0 39v1m0 9v0m0 4v576m0 5v0m0 21v0M556 300v0m0 9v0m0 7v11m0 6v514m0 9v3m0 5v3m0 7v3m0 9v17m0 6v0m0 9v4m0 10v0M559 252v0m0 32v0m0 18v0m0 14v3m0 5v0m0 6v0m0 13v429m0 7v0m0 9v48M562 271v0m0 31v1m0 15v4m0 7v2m0 4v486m0 6v0m0 5v0m0 8v27M565 266v0m0 12v0m0 7v0m0 7v0m0 8v510m0 6v0m0 38v0m0 5v2M568 269v3m0 14v0m0 6v0m0 5v0m0 14v0m0 6v5m0 8v598M571 238v0m0 16v0m0 7v0m0 19v5m0 6v0m0 7v3m0 5v505m0 29v0M574 259v0m0 12v0m0 20v498m0 27v0m0 16v0M577 331v478m0 4v0m0 9v0m0 5v20m0 5v0m0 51v0M580 306v3m0 8v0m0 7v0m0 7v466m0 9v0m0 14v0M583 292v18m0 7v460M586 271v8m0 5v0m0 6v613m0 10v9M589 259v10m0 14v0m0 7v0m0 5v0m0 4v0m0 5v7m0 5v0m0 8v495M592 299v0m0 4v2m0 5v0m0 7v2m0 11v497m0 41v0m0 7v0m0 10v0M595 311v0m0 12v2m0 9v557m0 17v1m0 5v0m0 11v3m0 13v0m0 6v0M598 249v0m0 46v0m0 11v0m0 4v0m0 4v0m0 10v495m0 10v7m0 8v0m0 20v26M601 262v0m0 7v0m0 15v0m0 8v0m0 9v7m0 11v475m0 36v0m0 12v0M604 260v0m0 8v0m0 25v3m0 8v5m0 8v588m0 7v0m0 23v0m0 7v0M607 272v4m0 8v0m0 4v0m0 13v7m0 15v600m0 7v15M610 200v0m0 15v1m0 12v0m0 25v3m0 19v3m0 5v0m0 5v1m0 6v2m0 5v485m0 8v0m0 7v0m0 9v4m0 4v1m0 7v1m0 14v0M613 215v0m0 20v0m0 10v0m0 11v5m0 11v14m0 10v530m0 6v6m0 21v0m0 11v0m0 5v0M616 244v0m0 30v14m0 7v4m0 7v589m0 4v13m0 9v0m0 5v0m0 5v3m0 5v5M619 294v3m0 20v0m0 10v471m0 27v0M622 317v0m0 9v461m0 9v6m0 6v0m0 6v0m0 27v0M625 270v655m0 6v0m0 4v0m0 20v0M628 264v578m0 36v0m0 22v0M631 322v0m0 7v3m0 7v3m0 5v541m0 21v0m0 22v0M634 249v0m0 4v0m0 18v9m0 6v0m0 7v0m0 8v7m0 7v4m0 5v603m0 13v21M637 253v0m0 7v681m0 17v0M640 245v0m0 70v498m0 11v15m0 5v4m0 7v7M643 262v3m0 5v0m0 20v0m0 6v506m0 9v0m0 23v17M646 278v0m0 46v2m0 6v505m0 30v2m0 7v0M649 263v0m0 30v0m0 5v0m0 8v0m0 11v0m0 14v595m0 12v0M652 258v5m0 8v6m0 5v11m0 15v3m0 4v1m0 7v1m0 10v447m0 23v10m0 43v0M655 248v0m0 22v0m0 13v0m0 11v0m0 4v2m0 21v4m0 4v455m0 10v27M658 298v0m0 11v0m0 5v0m0 7v0m0 5v1m0 5v0m0 12v432m0 8v0m0 15v0m0 7v0m0 7v3m0 36v0M661 289v3m0 9v488m0 8v4m0 40v0M664 268v0m0 41v1m0 18v490m0 28v0M667 281v1m0 5v0m0 19v0m0 6v0m0 8v2m0 6v504m0 8v0m0 26v0m0 12v0M670 170v0m0 63v0m0 6v0m0 41v0m0 16v605m0 6v2m0 7v0m0 6v0M673 200v0m0 51v1m0 11v0m0 4v14m0 5v5m0 4v0m0 5v3m0 5v502m0 14v5m0 29v3m0 20v2m0 5v0m0 17v2M676 279v0m0 5v10m0 5v0m0 4v10m0 6v639M679 286v10m0 9v0m0 8v0m0 4v519m0 9v11m0 8v0m0 12v2M682 187v0m0 50v0m0 51v0m0 5v525m0 11v0m0 11v10m0 7v0M685 270v0m0 24v517m0 10v0m0 63v0M688 252v0m0 16v2m0 5v4m0 7v0m0 5v6m0 6v0m0 5v653M691 270v0m0 6v0m0 13v0m0 9v0m0 6v0m0 4v2m0 6v605m0 11v0m0 7v7m0 11v3M694 249v0m0 21v0m0 13v0m0 7v4m0 8v3m0 10v2m0 9v477m0 41v0M697 295v0m0 10v466m0 7v2m0 5v0m0 10v0m0 6v11m0 18v1M700 277v0m0 4v3m0 18v0m0 18v0m0 5v4m0 4v430m0 8v0m0 10v25m0 12v4m0 22v3m0 13v4M703 318v0m0 16v577m0 10v5m0 16v1M706 231v532m0 17v0M709 246v0m0 12v3m0 13v20m0 8v0m0 5v0m0 11v3m0 5v452M712 221v0m0 35v0m0 11v0m0 25v0m0 5v0m0 14v0m0 11v452m0 23v0M715 305v0m0 10v0m0 14v0m0 12v427m0 25v0m0 5v0m0 5v5m0 6v8m0 21v33M718 336v0m0 5v452m0 6v7m0 21v0m0 22v0m0 6v0m0 16v0M721 252v0m0 59v2m0 5v0m0 11v483m0 7v2m0 9v0m0 10v1M724 292v4m0 10v0m0 5v486m0 5v11m0 9v0m0 16v11m0 19v0m0 7v0m0 6v0m0 4v4M727 289v7m0 4v0m0 7v454m0 16v0m0 8v0m0 5v0m0 5v0m0 34v3M730 239v0m0 5v12m0 9v0m0 5v35m0 5v492M733 273v2m0 7v0m0 25v0m0 10v462m0 37v0M736 262v0m0 9v3m0 12v0m0 6v0m0 6v3m0 13v637M739 273v4m0 8v5m0 33v560m0 40v13M742 326v1m0 12v481m0 52v0M745 302v0m0 6v0m0 5v1m0 15v0m0 11v601m0 10v10M748 260v519m0 8v0m0 7v11m0 15v8m0 7v0m0 19v18m0 19v0m0 19v12M751 247v0m0 9v0m0 10v0m0 14v0m0 6v0m0 19v26m0 6v427M754 237v0m0 28v2m0 7v0m0 11v0m0 7v0m0 10v20m0 9v0m0 5v0m0 6v490M757 253v0m0 25v0m0 25v7m0 12v0m0 5v2m0 6v0m0 5v428M760 268v0m0 6v5m0 9v0m0 4v4m0 8v18m0 6v0m0 6v0m0 6v460m0 5v0m0 5v1m0 16v0m0 11v3m0 17v2m0 15v0M763 313v0m0 12v16m0 11v457m0 4v6m0 14v0m0 5v0m0 10v0m0 13v0m0 27v3M766 273v0m0 48v0m0 32v547m0 5v11m0 4v0m0 17v0m0 18v0M769 308v0m0 20v0m0 8v1m0 4v2m0 5v0m0 9v478m0 7v5m0 5v0M772 288v0m0 10v0m0 14v506m0 26v0m0 7v33M775 305v0m0 5v2m0 9v1m0 4v1m0 4v0m0 10v505M778 217v0m0 33v0m0 9v0m0 13v0m0 4v13m0 8v9m0 6v532M781 260v0m0 36v0m0 21v5m0 5v605M784 301v0m0 12v0m0 22v0m0 6v580m0 34v0M787 309v639m0 11v2M790 287v5m0 9v9m0 4v1m0 24v4m0 6v474m0 4v2m0 14v4m0 7v3m0 16v0m0 7v0m0 4v3m0 7v3m0 19v22m0 7v0M793 282v0m0 8v0m0 11v3m0 13v10m0 7v1m0 7v488m0 15v8m0 14v0m0 5v1m0 13v2m0 6v0m0 16v0M796 252v630m0 27v24m0 20v0M799 282v0m0 8v0m0 8v0m0 8v0m0 6v9m0 8v600m0 17v4M802 232v0m0 4v0m0 17v8m0 16v9m0 6v0m0 8v0m0 6v2m0 11v448m0 32v0m0 21v0M805 298v0m0 11v13m0 7v409m0 12v0m0 5v2m0 6v0m0 28v0m0 10v0m0 14v0M808 244v0m0 37v0m0 4v4m0 8v1m0 4v2m0 6v455m0 10v0m0 14v1M811 243v0m0 23v0m0 6v0m0 13v8m0 11v2m0 6v2m0 12v10m0 4v452m0 5v0m0 18v0m0 47v0M814 265v0m0 17v0m0 4v2m0 11v2m0 7v5m0 8v3m0 7v504m0 13v0m0 10v0m0 12v7M817 287v0m0 12v0m0 26v482m0 7v12m0 5v0M820 311v0m0 7v1m0 5v0m0 7v0m0 4v3m0 5v587m0 8v0m0 7v8M823 289v13m0 12v643M826 324v11m0 11v0m0 4v0m0 7v604M829 293v0m0 13v2m0 10v0m0 24v3m0 7v539m0 4v6m0 5v0m0 20v35M832 297v18m0 10v0m0 6v569m0 7v54M835 285v0m0 4v0m0 7v0m0 11v648M838 201v0m0 21v0m0 9v37m0 6v3m0 8v632m0 14v0m0 5v0m0 9v3m0 8v3M841 279v0m0 23v2m0 17v0m0 9v0m0 9v622M844 282v0m0 36v0m0 8v1m0 14v578m0 13v8M847 286v0m0 9v0m0 23v0m0 5v0m0 14v0m0 5v5m0 8v438m0 10v8m0 11v0m0 26v17M850 293v0m0 14v1m0 10v0m0 6v495m0 5v0m0 5v4m0 7v0m0 8v0m0 12v8m0 24v1m0 44v0M853 291v0m0 9v1m0 18v0m0 8v490m0 12v20m0 26v0M856 277v48m0 5v572m0 17v1m0 20v0M859 216v0m0 41v2m0 7v3m0 29v0m0 6v13m0 4v0m0 5v0m0 5v600m0 6v18M862 268v3m0 21v5m0 6v3m0 5v1m0 7v0m0 5v3m0 16v440m0 5v12m0 13v0M865 263v0m0 18v0m0 6v3m0 6v3m0 6v0m0 6v0m0 8v0m0 6v3m0 6v467m0 5v6m0 5v0m0 49v0M868 261v44m0 9v0m0 8v12m0 4v527m0 6v3m0 5v3m0 9v0m0 30v0M871 304v0m0 11v0m0 8v0m0 13v484M874 328v0m0 5v451m0 13v0m0 6v0m0 8v0M877 257v0m0 43v0m0 13v3m0 6v0m0 6v0m0 6v425m0 8v13m0 10v4m0 7v17M880 247v7m0 10v0m0 4v0m0 6v0m0 16v5m0 9v10m0 4v5m0 7v2m0 6v435m0 23v42M883 255v0m0 6v0m0 8v30m0 14v6m0 12v0m0 5v547m0 6v1m0 10v8m0 4v0m0 17v4M886 196v0m0 31v2m0 16v0m0 5v2m0 10v3m0 12v4m0 6v0m0 5v7m0 4v3m0 9v1m0 5v532m0 5v0m0 5v4m0 5v62m0 8v0m0 18v0M889 241v0m0 33v3m0 5v0m0 7v5m0 5v5m0 4v9m0 7v581m0 16v0m0 32v0M892 291v2m0 9v0m0 14v4m0 7v585m0 40v0M895 278v0m0 6v4m0 13v2m0 6v601m0 4v23M898 325v512m0 5v0m0 16v0m0 8v0m0 12v7M901 323v0m0 10v553m0 7v5m0 6v0M904 336v1m0 4v4m0 7v549m0 42v18M907 267v640m0 13v0m0 21v10M910 260v701M913 287v0m0 40v0m0 5v12m0 4v454m0 12v0m0 17v0m0 7v0M916 292v0m0 8v0m0 17v9m0 9v0m0 8v464m0 5v0M919 277v0m0 8v1m0 6v22m0 7v0m0 4v620m0 13v0M922 225v0m0 18v6m0 10v5m0 11v2m0 5v19m0 7v2m0 5v485m0 12v4M925 258v0m0 16v0m0 12v0m0 14v0m0 5v629m0 7v1m0 7v0m0 4v0m0 7v1M928 287v2m0 6v5m0 11v519m0 5v0m0 6v2m0 6v2m0 24v6m0 33v0M931 261v0m0 26v0m0 20v2m0 6v0m0 7v0m0 8v0m0 9v573m0 17v29M934 331v3m0 5v501m0 11v1m0 4v0m0 11v8M937 280v0m0 15v4m0 6v0m0 8v1m0 11v0m0 11v0m0 8v458m0 7v0m0 7v0m0 34v0m0 4v0m0 8v16M940 269v0m0 25v0m0 6v0m0 21v454m0 9v4m0 4v0m0 36v12M943 311v2m0 11v0m0 11v585M946 315v0m0 8v636M949 235v0m0 16v0m0 9v2m0 7v23m0 5v0m0 6v0m0 4v0m0 13v2m0 10v446m0 16v2M952 262v0m0 28v14m0 4v0m0 4v4m0 4v3m0 5v0m0 6v596m0 8v0m0 8v0m0 9v0M955 264v0m0 15v6m0 28v0m0 5v459m0 7v0M958 295v9m0 4v3m0 5v4m0 8v4m0 5v499M961 289v0m0 18v0m0 9v0m0 9v381m0 5v3m0 9v0m0 17v1m0 14v8M964 280v0m0 34v0m0 15v340m0 28v6M967 310v0m0 7v7m0 7v2m0 7v284m0 14v0m0 4v1m0 5v3m0 5v0m0 6v0m0 17v0m0 28v0m0 5v0m0 16v0m0 37v0M970 252v377m0 11v0m0 17v0M973 238v0m0 15v407m0 9v0m0 5v0m0 22v0M976 283v0m0 7v3m0 6v1m0 4v302m0 15v0m0 17v20m0 6v15M979 237v0m0 7v0m0 25v10m0 11v0m0 7v0m0 4v0m0 11v0m0 5v352m0 9v0m0 12v0m0 7v4m0 30v0M982 260v2m0 12v0m0 5v14m0 5v1m0 5v4m0 5v1m0 4v1m0 4v4m0 6v368m0 17v0m0 18v2M985 267v7m0 10v0m0 19v8m0 4v0m0 19v372m0 7v0m0 26v0M988 249v0m0 19v0m0 20v0m0 28v0m0 5v1m0 7v630M991 261v16m0 13v598m0 8v0m0 9v2m0 10v0m0 28v0M994 153v0m0 48v15m0 6v0m0 11v0m0 7v0m0 6v0m0 5v22m0 4v0m0 6v619M997 243v9m0 11v0m0 8v12m0 9v26m0 5v8m0 6v426m0 6v0m0 19v6m0 35v0m0 5v0m0 6v6m0 8v0M1000 259v0m0 15v1m0 6v2m0 4v0m0 4v11m0 5v482m0 6v4m0 58v0M1003 267v11m0 11v0m0 7v0m0 5v6m0 7v466m0 36v0M1006 295v0m0 5v0m0 5v3m0 14v0m0 4v0m0 7v430m0 12v2m0 9v0m0 7v0m0 32v0M1009 313v471m0 4v2m0 43v0M1012 267v0m0 46v3m0 6v4m0 5v0m0 6v2m0 4v0m0 6v431m0 9v0m0 16v0M1015 320v0m0 9v0m0 7v0m0 8v0m0 6v539m0 5v5m0 11v0m0 10v0m0 11v0m0 6v1M1018 264v0m0 38v0m0 25v2m0 7v519m0 16v0m0 16v0m0 6v0M1021 239v3m0 5v0m0 14v14m0 6v1m0 16v493m0 4v0m0 10v0M1024 213v0m0 34v3m0 4v0m0 12v0m0 9v1m0 6v3m0 11v16m0 4v578m0 12v0M1027 303v655M1030 308v1m0 7v1m0 9v6m0 4v0m0 6v428m0 19v3m0 11v0m0 8v0M1033 307v42m0 5v405m0 7v0m0 12v0M1036 247v0m0 10v0m0 31v0m0 8v0m0 17v0m0 10v0m0 13v5m0 5v0m0 5v432m0 12v0m0 12v13M1039 281v0m0 5v3m0 21v22m0 5v3m0 6v478m0 21v0m0 20v0m0 4v0M1042 267v0m0 4v0m0 6v7m0 7v1m0 4v38m0 6v0m0 4v434m0 8v0m0 12v36M1045 271v0m0 25v2m0 5v0m0 5v0m0 5v13m0 8v3m0 6v436m0 8v0m0 11v20m0 16v0M1048 256v0m0 28v0m0 6v1m0 5v2m0 11v3m0 5v14m0 4v614M1051 277v21m0 11v0m0 5v0m0 22v0m0 7v475m0 12v0m0 15v5m0 6v0m0 39v0M1054 294v0m0 10v2m0 4v594m0 16v0m0 37v4M1057 244v21m0 5v3m0 4v3m0 5v0m0 13v0m0 12v577m0 5v2m0 7v0m0 40v2m0 13v3M1060 256v0m0 10v0m0 4v1m0 8v1m0 9v0m0 6v0m0 8v1m0 5v1m0 5v636m0 5v4M1063 303v0m0 8v0m0 7v7m0 10v9m0 4v555m0 4v34M1066 296v0m0 6v0m0 5v18m0 4v0m0 15v0m0 5v485m0 13v21m0 13v0m0 26v0m0 27v8M1069 256v1m0 36v0m0 10v0m0 9v3m0 7v0m0 5v14m0 5v452m0 10v0m0 13v0m0 7v0m0 31v5M1072 276v0m0 10v0m0 8v7m0 10v490m0 5v0m0 5v3m0 4v2m0 31v0m0 28v0M1075 265v14m0 7v4m0 6v0m0 9v3m0 7v1m0 4v0m0 6v0m0 5v22m0 6v439m0 6v0m0 17v0m0 25v0M1078 264v559m0 24v2m0 15v8m0 34v0M1081 256v562M1084 296v4m0 18v2m0 7v0m0 6v527m0 14v0m0 32v0M1087 224v0m0 8v16m0 9v4m0 6v2m0 5v4m0 7v1m0 5v0m0 8v0m0 6v6m0 12v526m0 8v0M1090 291v0m0 7v19m0 4v469M1093 238v0m0 8v583m0 7v8m0 17v0m0 11v1M1096 269v0m0 12v22m0 12v0m0 4v4m0 8v510m0 15v1m0 11v0m0 17v0m0 8v21M1099 271v33m0 6v5m0 6v0m0 9v0m0 6v423M1102 292v0m0 22v0m0 6v0m0 10v448M1105 308v0m0 7v0m0 5v0m0 4v467m0 6v0m0 6v0m0 9v0m0 27v30M1108 293v19m0 6v0m0 5v528m0 15v8m0 8v14M1111 271v24m0 34v1m0 5v508m0 13v1m0 12v29m0 13v0M1114 291v0m0 14v0m0 5v17m0 7v509m0 6v38m0 14v9m0 6v0M1117 274v0m0 18v0m0 8v0m0 10v4m0 5v2m0 10v2m0 5v0m0 4v619M1120 222v16m0 24v0m0 12v0m0 9v4m0 6v13m0 4v0m0 11v0m0 6v4m0 5v0m0 4v477m0 5v2m0 12v24m0 9v13M1123 282v0m0 28v1m0 8v0m0 21v1m0 6v4m0 5v479m0 10v1m0 17v0m0 44v4m0 11v0M1126 301v9m0 5v4m0 13v5m0 4v535m0 9v27m0 8v2m0 21v18M1129 279v0m0 14v0m0 21v7m0 9v6m0 6v478m0 22v32m0 16v3m0 46v2M1132 286v0m0 4v537m0 10v91M1135 270v5m0 13v0m0 6v18m0 11v1m0 5v485m0 16v0m0 21v0M1138 270v4m0 4v3m0 7v547m0 11v2m0 13v0M1141 228v0m0 25v0m0 17v0m0 7v3m0 16v0m0 17v12m0 7v502m0 8v0m0 7v0m0 4v1m0 11v0m0 5v0m0 12v0M1144 207v0m0 10v38m0 4v546m0 5v5m0 4v35m0 4v2m0 25v0M1147 246v0m0 17v0m0 7v0m0 10v2m0 4v2m0 15v0m0 5v0m0 16v506m0 37v0M1150 225v0m0 32v0m0 18v19m0 6v0m0 9v19m0 8v2m0 5v459m0 6v2m0 5v0m0 7v9m0 47v0M1153 282v27m0 4v0m0 4v0m0 7v588m0 13v16m0 5v0m0 6v0M1156 280v21m0 7v2m0 11v0m0 5v2m0 9v0m0 11v0m0 7v552m0 6v0m0 14v0M1159 291v0m0 34v0m0 15v2m0 5v0m0 5v0m0 5v448m0 5v0m0 20v17M1162 267v0m0 42v0m0 12v11m0 5v3m0 7v1m0 7v456m0 5v0m0 8v16m0 4v0M1165 285v0m0 6v0m0 13v5m0 6v0m0 8v7m0 9v0m0 5v474m0 33v3M1168 308v0m0 4v3m0 4v0m0 21v563m0 18v0m0 15v1M1171 288v0m0 4v0m0 4v0m0 7v0m0 6v0m0 9v0m0 14v460m0 7v0m0 38v0m0 12v24m0 9v0M1174 280v4m0 27v5m0 7v0m0 6v3m0 6v478m0 21v2m0 17v6M1177 278v0m0 23v1m0 18v5m0 11v476m0 18v0m0 9v39M1180 333v10m0 5v469m0 8v4m0 18v0m0 48v0M1183 316v4m0 16v0m0 7v618M1186 294v0m0 5v0m0 6v0m0 7v3m0 9v12m0 4v497m0 5v26m0 21v0m0 15v9m0 12v0m0 6v0m0 25v5M1189 242v0m0 26v0m0 17v0m0 14v629m0 6v27M1192 285v0m0 8v3m0 27v0m0 5v633M1195 204v0m0 59v0m0 25v0m0 20v0m0 13v1m0 8v462m0 21v0m0 5v0m0 13v0m0 5v0M1198 206v0m0 108v0m0 7v0m0 4v1m0 8v627M1201 286v0m0 17v592m0 17v0M1204 201v0m0 52v0m0 24v2m0 6v517m0 6v0m0 4v0m0 7v0m0 5v3M1207 232v3m0 10v0m0 10v0m0 8v0m0 18v6m0 8v514m0 32v6M1210 306v13m0 11v489M1213 293v0m0 6v3m0 15v23m0 10v528m0 8v0m0 9v0m0 6v0m0 28v0m0 4v2m0 6v20M1216 233v0m0 35v0m0 16v11m0 14v0m0 15v2m0 8v540m0 17v0m0 6v1m0 4v0m0 24v3m0 6v0m0 24v0M1219 220v4m0 21v0m0 31v2m0 12v9m0 5v0m0 8v10m0 5v486m0 6v0m0 42v28M1222 266v4m0 8v1m0 6v2m0 10v614m0 9v8m0 5v0m0 9v3M1225 259v0m0 21v0m0 5v11m0 4v0m0 7v0m0 6v2m0 11v563m0 5v0M1228 211v0m0 96v0m0 22v0m0 5v448m0 21v0M1231 323v2m0 11v1m0 11v538m0 7v5m0 9v0m0 8v0m0 6v21m0 8v0m0 7v0M1234 277v0m0 14v1m0 20v494m0 15v0m0 7v0m0 23v14M1237 228v0m0 7v22m0 5v0m0 12v1m0 6v25m0 4v11m0 6v4m0 8v549m0 6v10m0 5v0m0 6v1m0 13v1M1240 253v0m0 6v17m0 4v2m0 10v0m0 16v0m0 14v3m0 4v630M1243 280v0m0 8v0m0 6v0m0 30v3m0 8v626M1246 298v637m0 12v5M1249 327v0m0 4v627M1252 231v0m0 57v17m0 13v632m0 9v0M1255 286v0m0 35v0m0 4v561m0 4v16m0 6v3m0 9v7m0 17v0m0 6v0M1258 264v0m0 12v0m0 6v15m0 7v482m0 9v9m0 7v1m0 7v3m0 20v0m0 6v0m0 14v10M1261 219v0m0 39v0m0 11v49m0 9v3m0 9v592m0 13v0m0 14v0M1264 235v0m0 35v4m0 7v0m0 19v1m0 11v4m0 17v618M1267 268v2m0 6v0m0 5v1m0 5v6m0 8v0m0 4v451m0 9v0m0 33v0m0 14v0M1270 261v700M1273 271v0m0 26v4m0 9v0m0 5v0m0 7v0m0 7v508m0 7v32M1276 247v0m0 28v1m0 6v549m0 6v11m0 13v0m0 14v0m0 6v0m0 20v0m0 9v0m0 32v0M1279 290v4m0 5v4m0 10v0m0 6v3m0 5v440m0 7v2m0 5v46m0 4v0m0 25v22M1282 249v0m0 31v0m0 14v4m0 12v491m0 6v58m0 6v12m0 5v0m0 31v0M1285 300v1m0 20v3m0 4v482m0 13v5m0 6v1m0 13v39m0 33v0m0 29v0M1288 288v0m0 10v568m0 6v0M1291 272v0m0 5v0m0 22v0m0 12v0m0 8v5m0 5v3m0 4v552M1294 293v0m0 11v0m0 24v7m0 5v531m0 7v4m0 29v8m0 41v0M1297 225v2m0 21v0m0 5v0m0 19v0m0 8v0m0 7v7m0 9v11m0 5v3m0 8v7m0 5v484m0 14v0m0 6v0m0 14v7m0 25v11M1300 266v0m0 9v519m0 7v0m0 9v10m0 36v15M1303 236v0m0 37v9m0 15v0m0 5v518m0 31v0m0 8v36M1306 266v0m0 9v20m0 8v0m0 10v3m0 6v600m0 29v0M1309 241v0m0 6v3m0 18v0m0 13v11m0 7v662M1312 249v7m0 8v0m0 10v24m0 5v657M1315 286v2m0 14v1m0 11v0m0 7v466m0 9v10m0 6v4m0 27v0m0 11v0M1318 260v0m0 8v0m0 23v0m0 22v3m0 5v518m0 8v0m0 12v11m0 23v0m0 16v0M1321 249v0m0 6v0m0 13v0m0 4v0m0 8v0m0 7v7m0 4v1m0 6v0m0 9v0m0 9v518m0 4v4m0 13v13M1324 269v0m0 9v0m0 14v29m0 9v574m0 11v26M1327 305v23m0 11v600m0 4v0M1330 292v0m0 44v0m0 10v450m0 16v25m0 34v0m0 19v0M1333 294v0m0 23v0m0 8v1m0 9v10m0 8v487m0 17v3m0 4v2m0 12v0m0 19v0M1336 293v0m0 14v0m0 9v9m0 4v0m0 11v0m0 4v488m0 9v0M1339 298v0m0 21v0m0 8v0m0 6v562M1342 251v0m0 38v0m0 21v0m0 9v2m0 6v5m0 7v493M1345 306v0m0 12v2m0 11v436m0 7v0m0 7v0m0 17v0m0 9v2m0 5v9m0 12v9m0 6v6M1348 270v1m0 18v14m0 8v3m0 11v459m0 7v20m0 24v0m0 12v0m0 9v3M1351 238v1m0 8v533m0 33v37M1354 247v693M1357 308v2m0 5v3m0 10v2m0 8v608m0 10v0M1360 266v0m0 25v0m0 22v0m0 5v0m0 6v1m0 7v453m0 4v34M1363 298v3m0 10v11m0 5v4m0 7v437m0 29v0M1366 196v0m0 56v0m0 10v0m0 9v517m0 13v0m0 17v3m0 16v0M1369 202v0m0 27v0m0 12v0m0 10v0m0 15v7m0 10v0m0 13v504m0 9v30m0 12v15m0 10v2m0 12v0m0 8v0M1372 282v0m0 20v0m0 11v610m0 5v6m0 27v0M1375 322v0m0 10v0m0 8v589m0 22v0m0 5v5M1378 321v0m0 5v0m0 6v487m0 7v44m0 11v0M1381 278v3m0 10v5m0 12v476m0 5v0m0 9v56m0 16v0M1384 273v20m0 7v0m0 13v0m0 8v0m0 5v468M1387 194v0m0 104v1m0 10v0m0 6v0m0 9v0m0 6v556m0 26v0M1390 302v0m0 24v1m0 8v457m0 18v0m0 6v4M1393 310v8m0 8v3m0 5v488m0 8v0m0 6v0m0 11v0M1396 287v0m0 4v0m0 8v0m0 7v1m0 7v637m0 8v2M1399 231v0m0 50v28m0 13v0m0 5v521m0 5v0M1402 274v15m0 21v1m0 9v501m0 7v0m0 36v0M1405 199v692m0 17v2m0 10v1M1408 175v712m0 52v0M1411 177v784M1414 186v774M1417 202v757M1420 210v564m0 7v0m0 7v10m0 55v0M1423 188v588m0 10v23M1426 203v679m0 11v5m0 9v14M1429 230v4m0 7v0m0 17v0m0 15v8m0 5v8m0 6v618m0 7v0m0 5v0m0 5v0m0 6v20M1432 221v0m0 19v0m0 19v0m0 12v2m0 9v31m0 7v611m0 9v2m0 18v0M1435 263v4m0 19v1m0 11v0m0 7v499m0 4v0m0 14v12m0 17v0M1438 265v1m0 20v0m0 6v5m0 9v560m0 26v0m0 13v0m0 38v0M1441 182v569m0 8v0m0 7v24m0 25v1M1444 164v755m0 5v37M1447 182v767m0 8v4M1450 234v0m0 39v0m0 16v667M1453 241v0m0 14v0m0 5v0m0 5v11m0 9v0m0 5v0m0 4v5m0 5v1m0 4v0m0 7v503m0 8v5m0 9v18M1456 234v23m0 14v0m0 5v8m0 4v1m0 6v3m0 5v5m0 5v508m0 18v3m0 20v9M1459 265v0m0 19v11m0 13v1m0 9v489m0 11v15m0 10v0m0 10v0m0 6v0m0 14v0m0 11v0M1462 288v0m0 8v0m0 11v0m0 8v0m0 7v0m0 14v473m0 8v0m0 18v26m0 5v6M1465 223v28m0 39v0m0 16v6m0 6v2m0 7v3m0 4v627M1468 247v0m0 5v0m0 14v0m0 6v2m0 5v1m0 11v18m0 5v456m0 9v0m0 7v10m0 12v0m0 7v0m0 9v0m0 8v0M1471 261v0m0 5v0m0 10v3m0 9v0m0 10v5m0 5v5m0 8v630M1474 263v0m0 9v0m0 14v586m0 11v0m0 4v12M1477 204v0m0 33v0m0 47v0m0 9v2m0 6v2m0 4v15m0 7v469m0 11v0m0 8v13m0 6v1m0 12v0M1480 283v11m0 10v0m0 8v3m0 9v459M1483 234v0m0 12v0m0 7v0m0 17v0m0 9v10m0 5v1m0 4v0m0 9v0m0 9v644M1486 212v0m0 58v0m0 22v0m0 6v2m0 6v0m0 6v643M1489 288v0m0 10v0m0 13v3m0 7v439m0 4v1m0 10v7m0 13v0M1492 247v0m0 10v0m0 11v2m0 11v2m0 11v0m0 10v0m0 8v455m0 32v0m0 5v0M1495 231v0m0 21v0m0 8v0m0 8v0m0 18v4m0 4v1m0 10v4m0 5v4m0 5v528m0 25v0m0 5v10M1498 186v4m0 16v34m0 4v1m0 8v0m0 7v2m0 7v0m0 5v5m0 5v2m0 8v494m0 11v0m0 5v0m0 4v0m0 14v0m0 11v0m0 5v0m0 37v1m0 7v0M1501 237v5m0 10v8m0 28v22m0 9v0m0 5v0m0 4v0m0 4v439m0 9v9m0 5v13m0 45v0M1504 232v0m0 29v0m0 8v0m0 8v3m0 4v6m0 9v7m0 10v503m0 5v0m0 9v0m0 23v0M1507 284v2m0 6v13m0 5v500m0 9v54M1510 284v3m0 4v15m0 4v505m0 8v0m0 15v0M1513 287v0m0 13v2m0 10v4m0 12v491m0 18v18M1516 267v16m0 9v22m0 7v461m0 17v0M1519 243v0m0 49v4m0 8v0m0 11v447m0 10v4m0 10v0m0 14v0m0 7v14M1522 259v44m0 7v4m0 5v4m0 5v585m0 9v0m0 8v0m0 4v0m0 11v1M1525 235v0m0 21v2m0 16v0m0 7v0m0 22v7m0 4v1m0 5v625m0 13v2" stroke="#5d6681"/>
<path d="M268 1424v388m0 10v1m0 15v0m0 42v0M271 1425v301m0 7v0m0 6v19m0 6v18m0 53v0m0 9v0m0 31v0m0 17v0M274 1440v269m0 59v0m0 24v0M277 1444v366m0 37v0m0 53v0M280 1386v269m0 8v34m0 6v0m0 35v0m0 11v5M283 1443v239m0 26v0m0 24v0M286 1440v257m0 28v0M289 1441v275m0 8v0m0 38v0M292 1452v267m0 7v3m0 15v0m0 56v0M295 1455v266m0 28v0m0 5v0M298 1446v263m0 51v0M301 1437v273m0 8v0m0 10v0m0 25v1M304 1436v279m0 9v0m0 12v2m0 32v0m0 21v0m0 7v1M307 1431v274m0 7v0m0 5v4m0 15v0m0 8v0m0 12v0m0 22v0m0 10v0m0 10v0m0 41v0M310 1440v265m0 6v0m0 5v0m0 29v2m0 13v0m0 32v3M313 1430v292m0 33v0M316 1439v305M319 1441v289m0 12v0m0 7v0M322 1447v284m0 8v1m0 5v11m0 14v0m0 20v0m0 20v10M325 1449v263m0 15v7m0 19v0m0 20v8m0 14v0m0 40v0M328 1441v331m0 5v1m0 6v0m0 11v0m0 15v0m0 4v3m0 11v0m0 9v0m0 8v3m0 26v3m0 23v18M331 1441v305m0 8v28m0 13v0m0 6v0m0 8v0m0 23v0m0 13v9m0 15v0M334 1439v347m0 6v1m0 13v0m0 5v16m0 53v3M337 1439v352m0 4v6m0 24v0M340 1454v290m0 8v14m0 20v0M343 1465v225m0 7v0m0 48v0m0 36v0M346 1466v240m0 42v0m0 31v0M349 1453v256m0 7v17m0 4v4m0 17v0m0 23v4M352 1452v251m0 43v0M355 1454v257m0 48v18M358 1446v273m0 11v0M361 1444v278m0 68v0M364 1440v289m0 6v0m0 5v0M367 1458v372m0 23v0M370 1453v357m0 22v9m0 10v0m0 26v12M373 1461v236M376 1369v345m0 35v5m0 6v0m0 27v0M379 1443v284m0 16v0m0 6v4m0 19v3m0 49v0M382 1415v363m0 23v0M385 1420v331m0 28v0m0 7v13m0 20v0m0 17v7M388 1436v284m0 31v21m0 4v0m0 7v0m0 6v0m0 15v6m0 12v9m0 8v3m0 20v0M391 1435v334m0 12v1m0 22v0m0 19v0m0 8v6M394 1440v316m0 15v0m0 16v13M397 1429v327m0 5v0m0 6v13m0 10v25M400 1439v372m0 7v0m0 7v41m0 25v0M403 1442v320m0 5v0m0 12v0M406 1432v322m0 17v0m0 24v0M409 1434v335m0 9v9m0 48v0M412 1428v448m0 10v0m0 22v0m0 12v0m0 6v0m0 7v0m0 36v4M415 1457v367m0 24v3m0 20v8m0 24v0M418 1458v281m0 4v1m0 69v0m0 22v4m0 34v0m0 13v5M421 1469v256m0 41v0M424 1438v269m0 17v0m0 78v0M427 1444v258m0 17v0m0 5v15M430 1438v369m0 8v0m0 6v0m0 14v0M433 1421v343m0 9v6m0 16v0m0 6v27M436 1385v334m0 8v0m0 6v0m0 16v0M439 1444v289m0 6v0m0 17v0m0 14v0m0 31v0M442 1443v304m0 13v0m0 7v12m0 10v3M445 1446v319m0 32v0m0 6v5M448 1410v337m0 27v4m0 9v0M451 1444v349m0 36v1M454 1434v488m0 18v11m0 11v4M457 1430v406m0 8v0m0 17v0m0 37v9m0 18v0m0 18v0M460 1435v303m0 29v1m0 13v0m0 5v0m0 6v0m0 8v8m0 11v0m0 35v0M463 1425v273m0 24v0m0 11v0M466 1402v295m0 4v0m0 12v0m0 66v0m0 10v0M469 1461v221m0 6v0m0 16v5m0 21v1M472 1457v244m0 7v12m0 9v2m0 5v0M475 1457v284m0 5v2m0 21v6M478 1440v289m0 7v2m0 26v0m0 7v0M481 1446v302m0 9v0m0 6v0M484 1431v286m0 37v0m0 6v0m0 10v2M487 1435v290m0 6v0m0 7v4m0 19v2m0 13v0m0 20v0m0 13v56M490 1435v313m0 6v13m0 27v1m0 7v0m0 21v27M493 1438v295m0 5v5m0 10v19M496 1445v395m0 28v0m0 31v3m0 9v0m0 18v0m0 40v0M499 1431v290M502 1388v0m0 6v246m0 166v13M505 1291v0m0 23v0m0 15v0m0 7v0m0 15v2m0 8v0m0 10v232M508 1320v0m0 39v0m0 7v7m0 9v2m0 5v234M511 1328v0m0 25v0m0 4v0m0 11v7m0 7v0m0 5v225m0 156v1M514 1296v0m0 17v0m0 6v0m0 4v0m0 6v0m0 15v0m0 7v239m0 264v0M517 1355v1m0 5v0m0 6v0m0 9v4m0 5v209m0 52v13M520 1366v0m0 6v0m0 11v248M523 1333v2m0 17v0m0 9v3m0 7v15m0 8v266m0 89v0M526 1311v4m0 8v0m0 19v0m0 12v0m0 9v3m0 4v1m0 4v1m0 4v0m0 5v0m0 4v246m0 252v1M529 1318v0m0 7v0m0 22v5m0 7v0m0 6v281m0 122v0M532 1299v0m0 17v0m0 20v1m0 7v2m0 10v5m0 8v221m0 174v0M535 1297v4m0 11v10m0 24v0m0 7v4m0 5v1m0 4v4m0 4v237m0 243v0M538 1330v0m0 5v0m0 6v3m0 7v0m0 6v7m0 7v256M541 1332v4m0 8v0m0 7v1m0 8v228M544 1282v0m0 55v28m0 5v13m0 4v176m0 161v0m0 70v31M547 1302v0m0 26v0m0 12v0m0 18v5m0 6v4m0 5v228m0 225v0M550 1218v0m0 64v17m0 16v0m0 9v4m0 4v0m0 6v0m0 8v283M553 1270v0m0 7v0m0 12v0m0 19v0m0 10v0m0 6v282M556 1307v311m0 238v1M559 1305v0m0 13v287M562 1313v25m0 7v0m0 5v287M565 1328v0m0 18v0m0 14v0m0 9v352M568 1371v12m0 11v327M571 1316v2m0 13v0m0 5v0m0 5v2m0 4v19m0 9v260m0 277v12m0 8v20M574 1240v0m0 32v3m0 5v355m0 208v11M577 1299v0m0 10v0m0 6v298m0 157v1M580 1317v0m0 6v1m0 8v0m0 5v0m0 5v1m0 9v3m0 4v0m0 5v252M583 1313v0m0 30v19m0 5v245M586 1247v5m0 27v23m0 16v0m0 10v0m0 4v320M589 1260v0m0 7v0m0 10v4m0 10v0m0 5v0m0 5v5m0 6v331m0 117v30M592 1342v0m0 5v9m0 10v255M595 1333v0m0 10v0m0 4v3m0 8v5m0 8v4m0 5v0m0 6v206m0 214v0M598 1304v27m0 4v20m0 11v0m0 6v234M601 1363v236M604 1316v0m0 18v0m0 8v2m0 5v0m0 11v305M607 1209v0m0 81v0m0 41v0m0 6v0m0 15v314m0 25v45M610 1314v0m0 12v306m0 221v21M613 1275v0m0 5v0m0 18v29m0 5v291M616 1342v0m0 7v2m0 8v2m0 6v0m0 6v4m0 5v257m0 181v0M619 1229v0m0 73v5m0 20v44m0 5v6m0 5v167m0 214v11m0 44v36M622 1325v0m0 9v0m0 6v32m0 5v4m0 5v233m0 206v0M625 1303v28m0 4v287m0 227v9M628 1307v0m0 14v3m0 7v0m0 6v5m0 5v242M631 1331v0m0 4v1m0 14v3m0 17v223m0 90v0m0 107v2M634 1335v0m0 18v6m0 10v193m0 243v0M637 1360v4m0 7v1m0 6v1m0 11v214M640 1269v0m0 37v0m0 5v6m0 23v291m0 80v15m0 38v0m0 25v0M643 1315v7m0 8v4m0 13v297m0 74v11M646 1285v30m0 9v16m0 7v319m0 114v13m0 56v3M649 1276v0m0 13v42m0 5v1m0 5v21m0 10v361M652 1321v0m0 12v325m0 145v0m0 32v0M655 1265v0m0 17v20m0 10v2m0 13v3m0 4v0m0 16v23m0 6v245M658 1304v0m0 40v0m0 11v0m0 8v0m0 8v0m0 10v0m0 10v6m0 4v4m0 4v191m0 269v0M661 1320v5m0 11v0m0 11v256M664 1324v2m0 20v0m0 6v0m0 19v3m0 7v237m0 219v3M667 1353v16m0 8v0m0 5v234m0 212v0M670 1345v0m0 28v0m0 9v1m0 10v201m0 269v1M673 1372v0m0 8v4m0 8v203M676 1304v0m0 14v0m0 69v0m0 6v189M679 1330v0m0 4v0m0 13v0m0 11v0m0 6v0m0 8v0m0 14v247m0 167v18m0 12v3m0 49v1M682 1308v8m0 13v0m0 5v3m0 6v306m0 104v0M685 1308v333m0 181v0M688 1334v0m0 5v0m0 6v0m0 6v305M691 1300v2m0 8v0m0 8v269m0 201v0M694 1333v0m0 5v0m0 11v256M697 1255v0m0 65v0m0 5v11m0 4v0m0 5v3m0 11v208M700 1343v0m0 17v0m0 8v228m0 287v14m0 17v12M703 1351v0m0 12v0m0 4v220m0 239v10m0 7v0m0 76v0M706 1305v0m0 7v0m0 6v22m0 10v0m0 8v234m0 274v1M709 1296v0m0 8v4m0 13v4m0 7v4m0 7v1m0 7v0m0 8v228m0 216v3M712 1283v0m0 35v0m0 7v19m0 4v2m0 4v4m0 16v229M715 1292v1m0 20v4m0 16v7m0 6v8m0 9v3m0 6v2m0 4v257m0 173v0m0 5v0m0 10v16M718 1254v372m0 202v6M721 1307v0m0 5v0m0 10v2m0 5v27m0 4v20m0 5v226M724 1278v0m0 25v47m0 5v13m0 5v1m0 5v220m0 226v0m0 14v1m0 9v0M727 1373v189m0 268v9M730 1344v2m0 8v16m0 9v195m0 83v3M733 1335v8m0 6v0m0 6v19m0 4v214m0 274v10M736 1294v0m0 53v5m0 8v244M739 1305v0m0 21v0m0 22v0m0 6v0m0 8v0m0 6v217m0 322v15M742 1294v0m0 40v0m0 16v15m0 6v0m0 12v210M745 1343v1m0 7v0m0 7v0m0 5v12m0 4v207m0 244v3M748 1355v17m0 7v318M751 1340v4m0 19v0m0 4v7m0 7v331m0 137v7M754 1323v0m0 5v0m0 11v0m0 8v0m0 5v0m0 8v0m0 10v0m0 5v266m0 207v0m0 10v8M757 1331v0m0 5v0m0 5v8m0 11v3m0 7v0m0 5v228M760 1327v0m0 11v2m0 10v7m0 12v233m0 224v0m0 121v8M763 1362v0m0 13v217m0 146v30m0 59v3m0 42v0M766 1259v0m0 81v0m0 18v0m0 9v7m0 5v241M769 1321v0m0 29v10m0 7v6m0 5v253m0 107v0M772 1289v2m0 31v17m0 13v0m0 6v0m0 7v282M775 1300v0m0 29v10m0 5v0m0 7v1m0 11v291m0 207v33M778 1293v0m0 21v4m0 5v15m0 6v4m0 5v25m0 8v15m0 6v206m0 173v11M781 1298v0m0 9v0m0 16v2m0 13v9m0 5v9m0 5v232m0 60v0m0 49v9M784 1240v0m0 46v0m0 29v7m0 6v27m0 10v221M787 1291v1m0 18v1m0 15v0m0 5v4m0 5v7m0 5v234M790 1306v0m0 11v0m0 21v22m0 5v0m0 8v236m0 147v0M793 1267v19m0 8v3m0 4v3m0 4v2m0 6v310m0 224v0M796 1244v0m0 15v17m0 9v367M799 1248v0m0 5v0m0 26v30m0 6v2m0 4v395M802 1278v0m0 12v3m0 12v3m0 5v19m0 4v283M805 1283v0m0 25v0m0 16v6m0 7v0m0 15v243M808 1303v13m0 15v1m0 11v0m0 5v0m0 8v220M811 1311v0m0 5v0m0 12v0m0 17v0m0 9v220M814 1304v0m0 17v8m0 6v0m0 5v4m0 6v244M817 1236v0m0 14v0m0 63v47m0 5v237M820 1223v0m0 103v13m0 4v0m0 5v262m0 247v0M823 1314v0m0 14v258M826 1314v0m0 16v6m0 6v2m0 6v296m0 246v0M829 1308v0m0 8v4m0 17v0m0 10v228m0 207v2m0 36v8M832 1258v0m0 9v23m0 5v0m0 8v0m0 10v0m0 6v0m0 4v5m0 5v2m0 10v20m0 7v250M835 1323v0m0 11v4m0 7v13m0 7v0m0 6v7m0 5v214M838 1303v12m0 15v0m0 6v16m0 6v25m0 4v233M841 1313v0m0 8v0m0 12v0m0 20v4m0 5v0m0 9v225M844 1336v0m0 13v0m0 7v16m0 6v243m0 178v26M847 1279v0m0 6v0m0 11v0m0 16v26m0 4v0m0 8v1m0 10v256M850 1317v0m0 18v2m0 18v309m0 160v0M853 1325v0m0 8v1m0 8v0m0 11v0m0 10v236m0 185v19M856 1279v0m0 20v0m0 12v33m0 9v0m0 9v5m0 5v220m0 275v4m0 24v0m0 16v0m0 16v0M859 1319v5m0 6v0m0 6v15m0 6v218M862 1331v3m0 23v3m0 10v232M865 1364v0m0 10v0m0 5v0m0 6v0m0 4v223m0 146v17M868 1375v0m0 7v0m0 6v235M871 1308v0m0 7v0m0 9v0m0 10v1m0 5v0m0 6v16m0 5v256M874 1315v0m0 13v0m0 19v11m0 6v9m0 4v236m0 149v0m0 10v31M877 1344v0m0 18v0m0 6v0m0 9v0m0 9v246M880 1353v8m0 8v1m0 11v6m0 8v189M883 1311v0m0 46v3m0 7v4m0 8v200m0 231v14M886 1276v0m0 6v0m0 25v0m0 8v271m0 107v1m0 71v2M889 1264v0m0 69v1m0 4v0m0 5v4m0 8v369M892 1333v0m0 26v0m0 5v0m0 7v304m0 24v0M895 1318v0m0 5v0m0 6v2m0 5v0m0 18v5m0 6v4m0 5v7m0 7v292m0 17v7M898 1332v0m0 16v0m0 10v3m0 4v0m0 7v0m0 8v0m0 6v0m0 11v289M901 1284v21m0 11v2m0 10v4m0 6v7m0 4v20m0 11v265M904 1250v0m0 14v0m0 28v2m0 7v52m0 5v3m0 5v235m0 179v0M907 1277v0m0 29v25m0 7v3m0 5v0m0 6v0m0 4v178m0 186v6m0 10v0M910 1334v3m0 11v0m0 5v0m0 8v5m0 5v202m0 6v37m0 16v0M913 1323v0m0 14v0m0 14v7m0 6v333m0 20v9m0 14v0M916 1351v0m0 9v18m0 13v384m0 5v0m0 15v0m0 11v0M919 1295v3m0 17v0m0 5v0m0 17v419m0 67v0M922 1324v12m0 4v0m0 4v2m0 5v0m0 8v421m0 16v0m0 23v0m0 9v1m0 71v21M925 1301v0m0 8v0m0 27v0m0 8v0m0 5v18m0 7v411M928 1277v10m0 10v0m0 15v44m0 7v412m0 6v0m0 51v0M931 1262v0m0 7v0m0 6v0m0 7v11m0 6v0m0 5v1m0 8v0m0 6v22m0 5v387m0 6v0m0 12v0m0 39v3m0 7v0M934 1256v0m0 24v42m0 5v0m0 11v3m0 9v5m0 5v420m0 15v3m0 24v0m0 6v5m0 5v0m0 37v5m0 24v0m0 14v0M937 1304v29m0 8v0m0 10v1m0 5v322m0 10v27m0 8v0m0 5v3m0 9v11m0 6v24m0 20v15m0 30v5M940 1292v0m0 23v0m0 13v0m0 6v0m0 5v2m0 4v0m0 9v277m0 15v0m0 21v0m0 30v0M943 1349v7m0 17v249m0 8v0M946 1284v0m0 17v0m0 8v0m0 24v2m0 6v5m0 8v243M949 1275v8m0 21v6m0 7v3m0 6v10m0 5v0m0 4v2m0 4v293M952 1312v0m0 14v0m0 4v2m0 8v13m0 5v262m0 15v0m0 40v9m0 43v0M955 1326v23m0 12v276m0 13v12m0 63v33M958 1336v9m0 15v0m0 6v0m0 10v0m0 5v241M961 1274v41m0 4v45m0 6v286M964 1312v3m0 5v0m0 9v1m0 4v17m0 5v287M967 1316v11m0 6v7m0 5v3m0 10v8m0 7v0m0 4v188m0 110v0m0 6v14M970 1241v0m0 59v0m0 10v2m0 7v22m0 7v0m0 9v4m0 7v217m0 106v0M973 1325v3m0 7v32m0 5v0m0 4v206M976 1272v0m0 37v0m0 13v0m0 10v306M979 1321v0m0 5v18m0 6v0m0 6v238m0 76v21m0 39v3M982 1272v0m0 58v0m0 15v255m0 223v0m0 15v0M985 1311v19m0 9v4m0 13v233m0 211v0m0 5v0M988 1283v0m0 10v0m0 8v6m0 7v4m0 11v1m0 7v319M991 1309v0m0 28v4m0 17v0m0 6v261M994 1222v0m0 16v0m0 15v0m0 20v5m0 8v356m0 245v1M997 1322v0m0 5v0m0 8v267M1000 1343v0m0 15v5m0 7v249M1003 1267v0m0 86v0m0 11v0m0 5v260m0 217v0M1006 1317v0m0 8v15m0 16v0m0 5v260M1009 1277v78m0 11v187M1012 1268v0m0 27v2m0 7v0m0 8v0m0 4v314M1015 1347v0m0 8v206m0 181v5m0 135v0M1018 1277v0m0 13v0m0 20v276m0 167v28m0 20v0M1021 1280v0m0 10v38m0 5v1m0 6v2m0 5v1m0 5v239m0 233v13m0 22v0m0 54v0M1024 1340v0m0 5v5m0 8v350m0 85v60M1027 1299v0m0 25v0m0 12v3m0 5v0m0 8v0m0 8v293m0 115v0m0 5v16M1030 1293v0m0 13v0m0 8v0m0 12v0m0 5v275m0 200v0M1033 1280v3m0 30v2m0 6v6m0 6v10m0 5v234M1036 1276v12m0 8v6m0 10v30m0 7v230M1039 1270v0m0 37v26m0 10v5m0 6v5m0 5v228m0 170v0M1042 1262v0m0 15v0m0 4v0m0 5v0m0 8v1m0 9v311m0 198v1m0 10v34m0 5v23M1045 1334v1m0 10v0m0 4v8m0 5v4m0 7v245m0 203v0m0 34v0M1048 1297v0m0 25v319m0 190v0M1051 1288v0m0 4v0m0 10v3m0 5v7m0 15v0m0 9v3m0 5v1m0 6v261M1054 1347v5m0 5v230M1057 1319v0m0 23v0m0 10v215M1060 1340v0m0 7v0m0 9v196M1063 1289v0m0 5v0m0 4v0m0 16v20m0 6v0m0 10v1m0 5v0m0 6v232M1066 1315v0m0 8v16m0 5v0m0 10v3m0 10v300M1069 1321v0m0 29v331m0 159v1M1072 1332v0m0 5v0m0 22v0m0 4v0m0 6v0m0 10v2m0 6v0m0 7v235M1075 1232v0m0 51v0m0 30v2m0 7v29m0 7v268m0 161v0M1078 1299v0m0 16v0m0 22v12m0 8v292M1081 1264v0m0 43v0m0 8v3m0 6v16m0 7v305m0 160v22M1084 1278v0m0 11v0m0 7v11m0 7v0m0 8v13m0 7v366M1087 1304v0m0 13v14m0 6v1m0 5v0m0 4v328m0 127v0m0 17v0M1090 1287v0m0 18v1m0 8v0m0 5v36m0 5v276m0 148v2M1093 1277v0m0 33v4m0 11v7m0 6v4m0 18v242M1096 1349v5m0 9v4m0 5v249m0 224v41M1099 1227v0m0 56v0m0 17v11m0 11v0m0 5v0m0 8v0m0 6v17m0 4v304m0 185v10M1102 1260v0m0 37v2m0 5v387m0 126v2m0 11v0m0 18v0M1105 1306v0m0 5v0m0 17v3m0 5v1m0 9v9m0 4v241m0 177v0M1108 1324v0m0 12v0m0 6v30m0 5v232M1111 1326v1m0 8v3m0 9v250M1114 1278v2m0 6v0m0 5v1m0 6v0m0 12v5m0 4v17m0 5v202M1117 1270v16m0 13v0m0 24v201m0 157v0m0 135v17m0 8v0M1120 1295v22m0 6v12m0 10v199m0 130v13m0 103v0m0 25v0M1123 1318v4m0 9v0m0 6v14m0 8v9m0 8v175M1126 1319v2m0 10v6m0 6v9m0 6v181M1129 1327v0m0 17v0m0 6v2m0 9v0m0 5v194M1132 1325v0m0 21v0m0 7v0m0 4v207m0 246v11M1135 1307v23m0 15v0m0 7v10m0 9v225m0 200v9m0 45v6M1138 1278v0m0 9v0m0 14v8m0 6v5m0 9v27m0 5v246M1141 1327v0m0 15v1m0 5v1m0 10v322m0 74v7M1144 1357v0m0 6v0m0 5v233m0 130v2M1147 1367v2m0 8v223M1150 1317v16m0 5v35m0 4v235m0 221v0m0 15v0M1153 1313v0m0 18v0m0 23v9m0 5v0m0 12v236m0 160v0m0 27v0m0 10v12M1156 1326v0m0 5v0m0 11v0m0 18v0m0 10v5m0 6v181M1159 1309v8m0 21v35m0 8v202m0 222v29M1162 1308v0m0 9v10m0 7v3m0 4v6m0 9v0m0 6v223m0 209v10M1165 1341v1m0 12v1m0 6v236m0 209v0M1168 1356v0m0 4v229m0 247v10M1171 1330v3m0 5v0m0 24v224m0 227v0M1174 1294v0m0 9v1m0 10v0m0 15v3m0 5v9m0 6v0m0 4v4m0 4v242m0 191v21M1177 1297v0m0 15v7m0 12v1m0 5v281M1180 1296v0m0 18v0m0 7v0m0 8v302M1183 1253v0m0 4v0m0 9v3m0 11v0m0 7v3m0 5v0m0 9v308M1186 1219v0m0 11v4m0 6v0m0 12v9m0 22v4m0 5v5m0 4v0m0 8v3m0 5v312m0 95v7m0 79v0m0 5v6M1189 1348v3m0 18v0m0 5v5m0 4v221m0 130v9M1192 1314v0m0 7v0m0 13v0m0 9v1m0 5v0m0 7v262m0 162v4M1195 1312v0m0 5v0m0 18v0m0 9v9m0 5v0m0 5v0m0 5v5m0 5v250M1198 1312v0m0 32v0m0 8v268M1201 1281v0m0 56v1m0 5v1m0 12v1m0 12v328m0 131v0m0 18v9m0 7v0M1204 1316v0m0 13v0m0 6v0m0 9v12m0 4v245m0 181v28M1207 1298v0m0 10v0m0 11v0m0 20v0m0 7v1m0 5v286M1210 1276v0m0 25v2m0 7v282m0 206v6M1213 1356v211m0 273v0M1216 1337v0m0 11v0m0 12v199m0 219v18M1219 1268v19m0 6v6m0 6v5m0 9v0m0 6v0m0 7v254m0 231v12M1222 1309v21m0 5v9m0 4v4m0 7v268m0 189v7M1225 1329v0m0 21v2m0 5v0m0 9v262M1228 1364v268m0 170v1M1231 1337v0m0 20v5m0 6v244m0 156v25m0 20v11M1234 1307v0m0 7v0m0 4v9m0 8v0m0 10v3m0 6v1m0 5v1m0 5v256m0 212v7M1237 1340v0m0 8v7m0 7v6m0 8v221m0 97v19m0 145v13M1240 1294v2m0 23v10m0 5v269m0 230v0m0 15v0M1243 1305v0m0 10v0m0 7v0m0 11v18m0 5v263m0 228v7m0 7v0m0 20v0M1246 1230v0m0 70v2m0 14v320m0 191v6M1249 1317v0m0 5v2m0 5v5m0 11v322M1252 1322v20m0 8v3m0 7v6m0 6v0m0 7v269m0 161v2M1255 1347v0m0 20v2m0 6v2m0 5v13m0 8v265m0 110v3M1258 1336v0m0 21v0m0 10v0m0 5v0m0 6v267m0 80v51M1261 1371v0m0 6v239M1264 1315v1m0 38v246m0 45v10m0 124v12M1267 1319v5m0 4v0m0 9v6m0 4v2m0 4v6m0 6v13m0 7v215M1270 1318v0m0 8v1m0 20v3m0 4v0m0 5v4m0 4v2m0 6v225M1273 1304v33m0 4v3m0 6v10m0 5v0m0 5v210m0 285v21M1276 1338v0m0 8v6m0 4v277m0 45v2M1279 1328v0m0 17v0m0 10v0m0 5v285M1282 1309v0m0 9v0m0 7v2m0 6v0m0 6v0m0 6v2m0 5v0m0 5v294m0 117v11M1285 1259v0m0 12v0m0 19v19m0 9v0m0 6v7m0 7v0m0 4v255M1288 1302v11m0 7v8m0 4v249m0 124v1m0 178v1M1291 1261v2m0 42v12m0 10v263m0 173v6m0 38v21M1294 1247v0m0 51v3m0 12v280M1297 1323v3m0 8v269m0 195v19M1300 1299v2m0 8v9m0 5v0m0 5v5m0 4v287M1303 1292v0m0 6v0m0 10v2m0 9v6m0 9v361M1306 1320v5m0 20v10m0 6v389M1309 1331v0m0 19v0m0 8v0m0 16v260M1312 1294v0m0 50v269m0 276v0M1315 1318v254m0 156v0m0 83v0M1318 1232v0m0 25v0m0 5v4m0 6v3m0 8v0m0 9v295m0 209v4m0 34v0m0 39v13M1321 1285v20m0 7v5m0 4v8m0 7v259m0 193v16m0 26v0M1324 1266v1m0 7v0m0 24v0m0 12v1m0 7v3m0 4v4m0 9v253m0 78v0m0 120v0m0 68v1m0 68v2M1327 1308v0m0 7v0m0 17v2m0 4v0m0 5v0m0 10v6m0 4v1m0 6v204m0 154v39m0 89v21M1330 1287v1m0 7v0m0 6v0m0 12v272m0 205v0M1333 1281v0m0 5v0m0 7v1m0 7v8m0 6v3m0 7v0m0 13v279m0 182v10M1336 1276v0m0 20v1m0 7v17m0 7v8m0 5v265M1339 1301v0m0 7v0m0 10v0m0 6v286M1342 1322v0m0 29v9m0 11v239m0 193v0m0 42v0M1345 1302v1m0 9v50m0 5v11m0 4v225m0 166v0M1348 1323v1m0 4v14m0 5v0m0 10v10m0 9v5m0 4v211m0 106v0m0 107v1m0 7v0m0 45v22M1351 1311v31m0 6v2m0 8v221m0 151v0m0 104v0M1354 1212v0m0 67v0m0 43v0m0 10v1m0 7v2m0 7v282M1357 1275v0m0 33v0m0 6v0m0 7v10m0 7v310m0 154v3m0 22v0m0 76v0M1360 1322v0m0 7v0m0 12v320m0 142v0M1363 1321v14m0 8v328M1366 1274v0m0 7v454M1369 1327v0m0 6v0m0 7v2m0 8v7m0 4v269m0 179v0M1372 1347v25m0 4v212m0 217v5M1375 1344v0m0 20v0m0 4v0m0 5v0m0 11v2m0 9v313m0 134v3M1378 1322v0m0 8v9m0 5v6m0 10v1m0 4v3m0 6v188m0 244v0M1381 1282v0m0 10v33m0 9v4m0 13v4m0 6v223M1384 1301v0m0 4v17m0 8v10m0 5v4m0 5v241m0 164v0m0 69v0M1387 1288v0m0 17v3m0 19v12m0 7v254M1390 1268v0m0 45v1m0 7v11m0 7v18m0 4v213m0 236v0m0 67v3M1393 1256v0m0 22v10m0 5v3m0 6v34m0 4v288M1396 1293v0m0 24v20m0 6v3m0 5v4m0 11v278m0 132v20M1399 1344v0m0 4v5m0 12v0m0 5v293m0 160v0m0 15v12M1402 1340v3m0 15v0m0 5v5m0 17v221m0 182v0m0 26v0m0 20v49M1405 1354v0m0 26v7m0 6v280m0 152v1M1408 1296v0m0 40v3m0 7v0m0 18v9m0 9v290M1411 1302v0m0 6v25m0 10v1m0 6v0m0 5v4m0 8v249M1414 1275v0m0 5v3m0 4v1m0 5v4m0 5v293m0 17v37m0 41v6M1417 1284v0m0 6v0m0 10v2m0 9v0m0 14v3m0 7v254m0 233v1M1420 1324v0m0 9v2m0 6v246M1423 1304v3m0 7v0m0 11v0m0 5v2m0 10v0m0 6v263M1426 1309v0m0 10v18m0 8v4m0 7v260M1429 1324v0m0 22v1m0 5v11m0 5v0m0 6v279m0 50v15M1432 1315v0m0 15v1m0 8v6m0 8v196M1435 1284v0m0 18v12m0 7v0m0 18v33m0 8v185M1438 1305v0m0 16v0m0 9v0m0 13v2m0 9v232M1441 1341v0m0 6v3m0 6v0m0 7v0m0 7v8m0 5v241m0 202v8M1444 1321v0m0 12v0m0 15v0m0 5v8m0 15v0m0 5v356m0 139v1M1447 1324v0m0 16v0m0 9v22m0 10v199M1450 1345v0m0 9v4m0 5v2m0 6v225m0 252v11M1453 1353v0m0 11v0m0 6v0m0 4v220M1456 1337v0m0 11v0m0 4v10m0 11v202m0 190v1m0 51v0m0 32v0M1459 1351v0m0 14v14m0 7v202M1462 1313v0m0 15v3m0 17v4m0 4v0m0 5v1m0 9v0m0 9v223m0 190v0m0 49v2M1465 1311v1m0 20v4m0 4v0m0 14v3m0 6v274m0 212v1M1468 1248v31m0 11v27m0 6v0m0 6v273M1471 1279v0m0 9v16m0 6v0m0 5v265m0 137v6m0 51v0M1474 1322v0m0 12v0m0 5v2m0 14v13m0 6v7m0 6v202m0 193v0M1477 1329v0m0 19v0m0 28v0m0 8v6m0 4v246m0 140v0M1480 1311v0m0 58v2m0 6v3m0 10v1m0 15v229m0 110v7M1483 1296v0m0 29v11m0 6v0m0 7v0m0 6v0m0 13v0m0 7v238m0 222v0M1486 1286v0m0 24v0m0 10v7m0 7v1m0 5v274M1489 1323v0m0 8v328m0 167v0M1492 1332v0m0 41v3m0 6v0m0 6v270m0 176v3m0 73v0M1495 1361v13m0 8v291m0 164v0M1498 1324v0m0 10v0m0 25v1m0 11v208m0 214v37m0 10v7M1501 1294v0m0 24v0m0 15v4m0 5v1m0 8v3m0 6v0m0 5v7m0 8v187M1504 1313v0m0 10v0m0 6v5m0 6v1m0 9v246M1507 1327v10m0 5v0m0 5v10m0 6v243m0 185v7m0 10v7M1510 1320v48m0 8v229M1513 1287v0m0 13v312m0 150v0m0 52v26M1516 1263v0m0 76v0m0 20v5m0 7v3m0 6v293M1519 1323v0m0 14v2m0 25v0m0 6v189M1522 1251v0m0 14v6m0 11v0m0 5v0m0 8v0m0 4v75m0 5v203M1525 1227v0m0 23v0m0 64v3m0 4v18m0 6v320m0 44v16" stroke="#53567a"/>
<path d="M268 1362v4m0 16v0m0 8v247m0 8v2m0 9v3m0 12v2m0 10v0m0 15v1M271 1344v2m0 7v3m0 5v0m0 14v249m0 5v0m0 7v6m0 5v0m0 13v0m0 9v0m0 36v0m0 41v0M274 1358v0m0 5v299m0 36v0m0 22v0M277 1333v6m0 6v1m0 5v267m0 8v5m0 13v12m0 8v1m0 4v0m0 6v5m0 58v0M280 1223v0m0 15v0m0 67v6m0 19v0m0 12v282m0 6v15m0 5v0m0 10v2m0 37v2M283 1288v0m0 10v0m0 8v1m0 13v4m0 5v8m0 4v274m0 6v13m0 12v0m0 6v14m0 9v1m0 10v0m0 23v0m0 15v0m0 8v0m0 5v0m0 46v0M286 1274v63m0 6v282m0 8v0m0 7v0m0 13v2m0 85v0m0 42v4M289 1272v39m0 9v10m0 9v278m0 18v0m0 13v0m0 6v0m0 38v0M292 1295v0m0 9v0m0 9v5m0 7v0m0 4v0m0 5v303m0 4v9m0 10v8m0 6v5m0 17v13m0 42v0m0 8v0M295 1293v0m0 39v0m0 7v325m0 6v27m0 11v0m0 131v0M298 1300v15m0 4v0m0 8v0m0 5v0m0 5v330m0 4v4m0 4v3m0 5v19m0 6v0m0 5v2m0 10v0m0 25v0m0 7v0M301 1247v0m0 17v0m0 4v0m0 18v0m0 5v10m0 4v0m0 11v3m0 4v5m0 5v298m0 5v32m0 7v42m0 19v1m0 4v0M304 1270v0m0 6v7m0 6v0m0 4v28m0 5v0m0 4v335m0 4v3m0 4v0m0 6v0m0 18v0m0 5v0m0 16v0m0 56v0m0 27v0m0 10v0M307 1267v22m0 4v347m0 9v4m0 12v2m0 5v15m0 18v0m0 14v2m0 27v0m0 5v0m0 6v0m0 33v0M310 1253v0m0 42v1m0 18v1m0 5v330m0 5v7m0 6v16m0 5v0m0 8v0m0 16v0m0 7v0m0 11v0m0 11v0m0 10v0m0 59v4M313 1293v4m0 30v305m0 16v3m0 5v0m0 4v2m0 26v0m0 16v0m0 13v0m0 7v0M316 1288v0m0 37v0m0 10v298m0 7v0m0 10v6m0 4v0m0 5v0m0 18v0m0 16v0m0 35v0m0 31v0m0 22v0m0 22v0m0 21v0M319 1271v0m0 14v0m0 12v3m0 13v308m0 14v33m0 5v0m0 11v0m0 10v3m0 4v0m0 6v0m0 7v0m0 15v3m0 67v0M322 1301v4m0 16v3m0 6v5m0 5v286m0 7v0m0 8v0m0 16v0m0 5v0m0 4v3m0 14v0m0 6v0M325 1259v0m0 26v0m0 10v349m0 11v0M328 1256v0m0 30v3m0 4v0m0 6v0m0 10v4m0 5v3m0 8v0m0 5v348m0 6v0m0 5v0m0 14v0m0 9v3m0 5v0m0 49v1m0 25v0M331 1228v0m0 15v57m0 7v8m0 5v337m0 8v0m0 6v3m0 37v0m0 5v1m0 4v0m0 12v0m0 8v0m0 7v0m0 8v1m0 11v0m0 5v0m0 11v1m0 20v0m0 8v2M334 1281v0m0 15v359m0 8v1m0 7v0m0 7v3m0 6v10m0 13v0m0 63v0m0 4v0M337 1320v3m0 25v302m0 5v0m0 8v2m0 12v6m0 57v2M340 1254v0m0 11v0m0 30v0m0 12v0m0 6v1m0 7v17m0 5v2m0 5v351m0 11v0m0 8v7m0 5v1m0 13v4m0 19v0m0 9v0m0 22v0m0 16v0M343 1261v0m0 10v0m0 10v0m0 8v5m0 9v0m0 10v0m0 5v7m0 4v347m0 8v0m0 5v4m0 7v5m0 5v10m0 4v4m0 15v2m0 4v0m0 14v0M346 1252v0m0 16v1m0 13v5m0 5v0m0 7v0m0 7v0m0 5v7m0 7v300m0 7v7m0 5v4m0 7v7m0 22v0m0 6v4m0 8v0m0 8v0m0 37v0M349 1249v0m0 13v1m0 7v0m0 24v0m0 14v0m0 5v4m0 5v12m0 5v304m0 5v0m0 4v0m0 6v0m0 10v4m0 8v0m0 101v0M352 1268v0m0 13v0m0 6v0m0 14v9m0 6v341m0 4v0m0 9v0m0 5v0m0 19v2m0 12v0m0 4v0m0 5v2m0 9v0m0 34v0M355 1228v0m0 62v369m0 15v0m0 6v0m0 5v0m0 6v0m0 5v0m0 18v0m0 10v0m0 32v0M358 1252v387m0 5v43m0 11v2m0 12v0m0 6v0m0 17v0M361 1293v8m0 11v334m0 9v4m0 5v9m0 6v0m0 6v3m0 7v3m0 15v3m0 13v0M364 1298v0m0 6v15m0 6v3m0 5v366m0 14v0M367 1311v0m0 10v3m0 18v301m0 7v0m0 32v0m0 32v0M370 1266v5m0 11v346m0 13v2m0 6v0m0 23v0m0 50v0M373 1272v4m0 7v0m0 5v328m0 14v1m0 5v0m0 13v0m0 39v0M376 1241v58m0 4v6m0 5v301m0 4v4m0 4v8m0 16v0m0 47v2m0 9v0m0 30v0M379 1290v3m0 10v2m0 9v6m0 6v307m0 7v0m0 10v1m0 13v4m0 15v2M382 1233v0m0 6v396m0 8v0m0 6v0m0 4v0m0 26v0m0 50v0m0 12v0m0 37v0M385 1206v460m0 6v0m0 13v19m0 6v1m0 53v0m0 64v0M388 1213v440m0 9v1m0 4v5m0 7v2m0 12v3m0 5v0m0 38v0m0 9v1m0 61v0M391 1212v0m0 46v0m0 20v0m0 7v15m0 5v12m0 6v1m0 6v352m0 8v0m0 21v0m0 21v0m0 6v0M394 1205v0m0 18v19m0 5v1m0 7v0m0 4v0m0 11v3m0 8v4m0 5v21m0 4v5m0 6v331m0 8v2m0 11v3m0 12v2m0 21v0m0 5v0m0 11v0M397 1254v1m0 9v0m0 20v0m0 4v2m0 8v0m0 9v0m0 6v348m0 10v9m0 4v5m0 18v1m0 13v1m0 23v3m0 70v0M400 1206v460m0 5v2m0 7v17m0 10v2m0 8v1m0 7v14m0 12v0m0 84v0M403 1194v503m0 8v0m0 15v0m0 5v6m0 5v0m0 14v0m0 5v7M406 1207v454m0 5v0m0 15v3m0 4v0m0 7v0m0 10v3m0 18v0m0 30v0m0 51v0M409 1307v2m0 5v2m0 12v320m0 4v4m0 4v4m0 13v1m0 54v0M412 1287v16m0 14v343m0 7v7m0 7v1m0 13v17m0 10v1m0 18v0m0 9v0m0 9v0m0 9v0m0 37v0M415 1266v0m0 16v0m0 7v0m0 9v8m0 4v7m0 9v346m0 6v0m0 4v0m0 13v3m0 4v3m0 5v1M418 1256v0m0 6v0m0 10v3m0 5v25m0 4v340m0 13v4m0 6v3m0 8v0m0 5v8m0 5v0m0 43v0M421 1275v9m0 26v332m0 8v0m0 5v5m0 5v0m0 7v0m0 44v3m0 21v0m0 13v0m0 52v0M424 1240v398m0 7v12m0 5v0m0 5v0m0 5v4m0 32v0m0 15v0m0 34v0M427 1205v429m0 13v2m0 5v28m0 13v0m0 10v0M430 1219v415m0 22v1m0 5v9m0 6v1m0 10v0m0 13v0m0 19v0M433 1251v381m0 7v1m0 6v0m0 5v0m0 14v0m0 6v0m0 76v0M436 1219v0m0 34v0m0 38v0m0 5v22m0 7v319m0 9v1m0 7v3m0 7v3m0 6v35M439 1204v456m0 5v0m0 6v0m0 5v2m0 6v5m0 7v10m0 5v0m0 8v0m0 9v0m0 12v0m0 29v0M442 1185v466m0 7v3m0 13v7m0 8v2m0 12v0m0 28v0m0 29v0m0 24v0M445 1208v440m0 13v2m0 6v0m0 5v2m0 7v0m0 8v1m0 4v0m0 10v0m0 5v4m0 6v0m0 13v1m0 37v0m0 9v0M448 1324v7m0 13v326m0 4v26m0 5v1m0 6v0m0 8v1m0 13v0m0 15v14m0 8v0m0 5v0m0 29v0m0 47v0M451 1300v0m0 9v0m0 6v380m0 5v0m0 6v0m0 5v3m0 6v3m0 15v0m0 13v3m0 31v0m0 13v0M454 1295v2m0 22v10m0 10v307m0 6v0m0 6v0m0 6v0m0 5v1m0 7v2m0 15v0m0 5v0m0 5v0m0 6v8M457 1225v0m0 40v0m0 16v4m0 6v0m0 4v8m0 7v334m0 5v3m0 8v0m0 5v0m0 4v0m0 11v3m0 13v2m0 21v0m0 13v0M460 1266v8m0 8v0m0 12v373m0 10v0m0 27v0m0 22v0m0 23v2M463 1270v4m0 26v376m0 18v0m0 5v0m0 18v1m0 22v0m0 22v0M466 1227v0m0 28v10m0 8v376m0 10v18m0 9v2m0 9v0m0 34v1m0 55v0m0 34v0M469 1189v0m0 43v0m0 14v0m0 8v0m0 5v3m0 7v1m0 5v380m0 4v18m0 13v0m0 7v0m0 25v0m0 5v0m0 30v0m0 21v0m0 11v0M472 1229v0m0 37v0m0 6v389m0 5v16m0 32v0m0 28v0m0 58v0m0 13v0M475 1284v367m0 4v0m0 11v0m0 9v3m0 27v1m0 16v0M478 1227v0m0 26v0m0 9v0m0 20v366m0 4v0m0 7v0m0 10v2m0 4v0m0 12v1m0 9v0m0 17v0M481 1280v0m0 6v0m0 7v0m0 15v2m0 8v317m0 6v0m0 9v0m0 5v0m0 6v0m0 18v3m0 15v0m0 8v0m0 5v2m0 45v0m0 15v0M484 1288v351m0 6v10m0 21v0m0 11v0m0 8v0m0 11v0m0 10v0m0 6v0m0 24v0M487 1277v0m0 12v17m0 8v327m0 4v3m0 11v9m0 6v0m0 19v0m0 33v0m0 23v0M490 1317v0m0 13v302m0 6v5m0 4v1m0 5v0m0 6v0m0 9v0m0 31v0m0 89v0M493 1272v0m0 18v2m0 7v0m0 14v0m0 16v307m0 14v12m0 26v0m0 40v0m0 53v0M496 1277v6m0 14v4m0 5v3m0 4v4m0 8v2m0 4v318m0 5v2m0 14v30m0 7v0M499 1247v0m0 21v0m0 11v0m0 7v9m0 9v4m0 11v424m0 4v0m0 12v0m0 18v0M502 1356v5m0 17v0m0 5v5m0 18v409m0 22v0M505 1391v0m0 16v2m0 6v2m0 11v363m0 18v0m0 5v10M508 1415v0m0 5v0m0 9v3m0 6v351m0 16v1m0 10v6M511 1386v0m0 9v0m0 12v0m0 8v2m0 14v0m0 6v0m0 4v312m0 8v6m0 10v4m0 19v0m0 6v0M514 1361v0m0 16v0m0 48v0m0 13v5m0 6v320m0 4v0m0 6v27M517 1411v0m0 8v6m0 8v2m0 7v354m0 13v4m0 10v0m0 38v0M520 1407v0m0 17v0m0 6v0m0 24v0m0 8v1m0 6v334m0 9v4m0 4v0m0 5v2M523 1416v0m0 9v12m0 4v379m0 6v1m0 12v3m0 5v0m0 14v0m0 11v0M526 1431v10m0 5v0m0 6v345m0 4v3m0 7v1m0 5v0M529 1459v0m0 4v321m0 11v0M532 1474v3m0 4v293m0 9v1m0 6v31m0 13v0M535 1453v5m0 10v2m0 6v328m0 9v0m0 12v14m0 12v0m0 7v3m0 8v0m0 30v0M538 1436v0m0 8v1m0 9v0m0 7v364m0 8v7m0 7v0m0 4v0m0 13v0M541 1344v0m0 74v0m0 10v4m0 10v0m0 10v373m0 11v0M544 1427v0m0 13v345m0 12v0m0 17v0M547 1426v18m0 17v0m0 4v325m0 13v0M550 1367v0m0 36v0m0 17v15m0 5v0m0 9v329m0 9v2M553 1442v350m0 7v0m0 8v0m0 4v0m0 5v0M556 1433v0m0 5v0m0 6v344m0 9v3m0 9v0m0 7v2m0 6v0m0 15v0M559 1406v0m0 14v384m0 5v0m0 8v3M562 1385v0m0 12v0m0 6v4m0 21v0m0 5v2m0 8v371m0 7v1m0 5v7m0 15v0M565 1418v0m0 10v0m0 9v3m0 11v353m0 9v7m0 4v12m0 12v0m0 18v0M568 1356v0m0 89v11m0 4v332m0 6v0m0 11v1M571 1349v0m0 61v0m0 29v2m0 9v345m0 21v0m0 47v0M574 1414v0m0 5v0m0 8v3m0 5v13m0 7v367m0 8v0M577 1400v0m0 24v0m0 5v0m0 14v372m0 5v0m0 7v1m0 10v4m0 5v13M580 1429v0m0 12v2m0 8v370m0 6v0m0 10v0m0 8v6m0 10v9M583 1418v2m0 13v0m0 5v380m0 7v8m0 4v5m0 5v3m0 7v0m0 5v0m0 18v1M586 1392v7m0 4v0m0 5v18m0 8v388m0 6v0m0 26v0m0 44v0M589 1354v0m0 9v0m0 11v0m0 16v0m0 7v42m0 7v357m0 7v0m0 6v17M592 1411v0m0 7v0m0 5v10m0 5v0m0 10v351m0 5v1M595 1407v0m0 5v0m0 15v3m0 8v0m0 5v3m0 5v350m0 22v4m0 11v3M598 1373v47m0 8v1m0 8v0m0 4v0m0 7v359m0 10v1m0 9v3m0 13v5m0 14v0M601 1415v29m0 5v353m0 6v1m0 4v8m0 10v0m0 17v2m0 37v0M604 1424v0m0 5v0m0 12v360m0 5v0m0 5v5m0 5v0m0 4v13m0 8v4m0 14v0M607 1339v0m0 56v421m0 5v7m0 5v3m0 4v0m0 8v3m0 10v0m0 5v0m0 22v0m0 7v0M610 1363v0m0 23v3m0 8v3m0 10v13m0 5v8m0 4v377m0 22v0m0 10v0m0 8v0M613 1412v9m0 5v2m0 20v352m0 9v2m0 7v0m0 4v6m0 18v0M616 1375v0m0 56v4m0 5v0m0 9v352m0 7v2m0 7v0m0 5v0m0 7v3m0 4v0m0 10v0m0 8v0M619 1424v0m0 13v0m0 7v372m0 4v6m0 5v10m0 17v0m0 6v0M622 1381v0m0 65v374m0 8v0m0 28v0M625 1438v385M628 1410v0m0 12v0m0 15v363m0 4v0m0 12v1m0 4v12m0 12v0M631 1388v0m0 10v0m0 5v4m0 9v0m0 7v4m0 6v359m0 6v4m0 23v0m0 6v0m0 24v0m0 12v0M634 1353v0m0 8v0m0 31v0m0 13v409m0 6v14m0 6v0m0 8v0m0 5v0m0 16v0M637 1383v0m0 4v0m0 12v0m0 15v17m0 8v362m0 23v5m0 11v0m0 9v0M640 1357v0m0 10v7m0 6v0m0 13v0m0 4v419m0 16v4m0 21v0m0 37v0M643 1388v13m0 7v0m0 8v12m0 5v363m0 7v31m0 4v1m0 27v0m0 23v0M646 1314v0m0 56v0m0 25v3m0 5v5m0 8v4m0 15v357m0 6v1m0 18v0m0 9v0m0 5v0m0 16v0m0 7v0m0 24v0M649 1350v22m0 20v0m0 4v6m0 10v0m0 8v0m0 9v385m0 7v31M652 1370v1m0 5v1m0 9v12m0 5v6m0 6v0m0 7v0m0 7v378m0 11v3m0 7v1m0 6v10M655 1341v3m0 13v0m0 6v0m0 5v0m0 8v0m0 11v0m0 5v5m0 6v0m0 6v423m0 5v6m0 8v0m0 4v0m0 5v11M658 1396v0m0 27v370m0 8v14m0 11v0m0 25v0M661 1425v0m0 5v4m0 5v0m0 5v344m0 5v0m0 13v0m0 4v11m0 25v0m0 18v0M664 1403v0m0 12v0m0 7v1m0 8v0m0 9v1m0 7v367m0 6v10m0 12v0m0 40v0M667 1400v4m0 24v0m0 6v381m0 5v28M670 1356v0m0 21v0m0 14v5m0 14v432m0 6v2m0 14v7M673 1338v0m0 19v0m0 36v3m0 5v6m0 6v1m0 5v0m0 5v1m0 4v387m0 6v4m0 11v4m0 4v1m0 5v0m0 8v7m0 8v0m0 5v21M676 1372v0m0 6v19m0 5v1m0 6v409m0 4v10m0 4v1m0 5v0m0 37v3m0 12v6M679 1359v0m0 22v5m0 14v0m0 8v389m0 5v2m0 7v2m0 5v1m0 19v21m0 18v0M682 1377v0m0 23v3m0 5v1m0 6v382m0 5v2m0 11v3m0 8v1m0 18v0m0 9v0m0 23v0M685 1383v0m0 9v0m0 11v11m0 6v425m0 4v0m0 5v0m0 5v0m0 5v17m0 6v0M688 1392v0m0 12v12m0 5v393m0 6v0m0 5v3m0 9v0M691 1393v0m0 6v9m0 8v387m0 12v7m0 4v0m0 7v5M694 1359v0m0 10v0m0 6v3m0 4v0m0 8v0m0 5v0m0 5v424m0 6v0m0 29v4m0 15v0M697 1395v0m0 8v11m0 7v382m0 10v16m0 7v0m0 13v6M700 1399v0m0 4v3m0 19v2m0 5v391m0 6v0m0 6v0m0 10v0m0 4v13m0 20v0M703 1400v0m0 7v16m0 6v0m0 8v387m0 9v2m0 14v0m0 7v0m0 8v0m0 4v1m0 5v0M706 1391v8m0 21v404m0 9v2m0 11v2m0 7v0m0 5v0m0 11v0m0 7v0m0 5v0m0 6v0m0 9v2M709 1398v0m0 11v383m0 5v3m0 9v0m0 4v0m0 5v0m0 5v0m0 7v5m0 12v0M712 1332v0m0 33v0m0 5v0m0 4v425m0 9v33M715 1336v0m0 49v0m0 9v0m0 6v7m0 7v410m0 11v0m0 16v1m0 7v8m0 7v0M718 1264v0m0 20v0m0 18v0m0 36v0m0 14v9m0 5v15m0 4v455m0 7v4m0 4v2m0 6v13m0 4v4m0 5v0M721 1390v32m0 5v408m0 7v9m0 6v0m0 6v3m0 8v0M724 1416v4m0 6v369m0 18v0m0 7v0m0 8v2m0 11v2M727 1381v0m0 41v366M730 1394v3m0 13v376m0 6v25m0 23v0m0 15v2m0 11v0M733 1375v5m0 11v1m0 8v395m0 7v4m0 10v0m0 11v9M736 1377v0m0 12v4m0 5v0m0 7v403m0 5v1m0 4v0m0 4v13m0 7v0m0 5v2M739 1359v0m0 7v0m0 8v455m0 14v9m0 4v6m0 13v0m0 7v0m0 4v3m0 5v0M742 1316v0m0 23v4m0 15v451m0 6v0m0 5v0m0 6v0m0 5v0m0 5v0m0 6v1m0 7v0m0 5v9m0 21v2M745 1370v0m0 5v0m0 12v1m0 6v0m0 5v421m0 12v15m0 6v4m0 4v0m0 6v1m0 21v0M748 1352v0m0 23v6m0 13v5m0 5v405m0 6v2m0 5v4m0 22v5M751 1303v0m0 73v18m0 5v1m0 5v434m0 8v0m0 5v0M754 1373v446m0 6v35m0 30v0M757 1363v0m0 19v0m0 5v419m0 4v1m0 5v0m0 7v2m0 5v0m0 9v0m0 4v4m0 20v0M760 1344v0m0 31v3m0 7v419m0 5v12m0 11v0m0 9v0m0 34v0m0 17v0M763 1375v3m0 9v0m0 6v400m0 9v23m0 10v0m0 11v0M766 1342v0m0 15v0m0 5v17m0 8v0m0 5v21m0 5v392m0 8v4m0 14v0M769 1344v0m0 40v0m0 5v0m0 8v1m0 4v405m0 6v6m0 25v0m0 8v1m0 15v0m0 7v0M772 1363v457m0 6v5m0 5v0m0 9v0m0 24v4M775 1339v0m0 4v0m0 35v4m0 5v5m0 5v5m0 4v454m0 5v4m0 7v7M778 1356v10m0 17v0m0 8v0m0 7v416m0 4v0m0 9v0m0 10v2m0 7v0m0 6v9M781 1371v0m0 10v0m0 8v6m0 8v2m0 6v401m0 7v1m0 8v0m0 20v0m0 14v1M784 1375v0m0 16v5m0 5v402m0 9v1m0 5v3m0 5v2m0 13v0m0 17v0M787 1293v0m0 76v0m0 14v0m0 9v0m0 5v4m0 4v367m0 6v1m0 6v6m0 20v0m0 18v0m0 9v0m0 11v29M790 1375v0m0 6v0m0 8v391m0 9v0m0 11v0m0 10v35M793 1364v0m0 18v4m0 6v0m0 5v0m0 6v382m0 12v0m0 28v2m0 15v0M796 1325v0m0 23v1m0 11v0m0 14v0m0 8v1m0 8v7m0 6v405m0 9v2m0 14v6m0 39v0M799 1336v0m0 23v3m0 31v0m0 8v3m0 10v390m0 7v1m0 9v6m0 29v0M802 1388v0m0 5v0m0 11v391m0 11v5m0 5v3m0 5v0m0 7v0m0 5v3M805 1349v0m0 38v2m0 22v405m0 35v0m0 14v0M808 1384v0m0 8v0m0 11v383m0 22v0m0 6v0M811 1344v0m0 37v6m0 4v2m0 4v2m0 4v393m0 5v0m0 4v0m0 8v3m0 17v4M814 1375v421m0 11v3m0 4v9m0 5v0m0 7v8m0 5v1m0 16v0M817 1350v0m0 4v0m0 8v0m0 16v0m0 10v421m0 21v0m0 13v0m0 5v0m0 6v0m0 12v0m0 30v0M820 1369v3m0 8v0m0 5v2m0 6v3m0 4v409m0 5v9m0 6v10m0 7v5M823 1343v0m0 32v4m0 6v2m0 6v3m0 4v0m0 4v0m0 10v400m0 11v0M826 1356v15m0 16v5m0 25v370m0 5v2m0 6v17m0 6v0m0 8v0m0 4v0M829 1353v0m0 10v2m0 11v0m0 14v4m0 4v378m0 15v15m0 9v3m0 7v0m0 14v0M832 1321v0m0 7v0m0 8v20m0 15v0m0 7v8m0 5v392m0 6v0m0 13v3M835 1324v0m0 13v4m0 6v18m0 8v5m0 8v441m0 8v0M838 1314v26m0 12v0m0 35v0m0 10v412m0 8v1m0 11v0m0 12v0m0 10v0m0 7v0m0 8v0M841 1372v14m0 17v396m0 6v0m0 8v3m0 8v0m0 6v0m0 5v0m0 7v4m0 6v0m0 7v0M844 1350v0m0 20v0m0 19v2m0 7v0m0 11v363m0 5v0m0 4v27m0 7v0m0 8v5m0 10v0m0 10v0m0 14v0m0 15v0M847 1373v6m0 12v0m0 7v376m0 10v0m0 7v0m0 9v0m0 18v0m0 5v4M850 1342v3m0 10v25m0 5v384m0 9v4m0 5v0m0 5v1m0 5v0m0 7v0m0 14v0m0 18v0M853 1273v0m0 75v0m0 6v3m0 6v0m0 7v3m0 4v383m0 7v6m0 12v0m0 11v2m0 5v0m0 9v0M856 1312v1m0 11v6m0 8v22m0 7v2m0 6v478m0 9v0m0 11v4M859 1365v0m0 15v5m0 5v458m0 6v2m0 5v2m0 14v0m0 7v4M862 1340v0m0 31v416m0 11v0m0 4v2m0 8v0M865 1341v0m0 6v3m0 8v4m0 8v4m0 7v6m0 6v0m0 5v380m0 7v2m0 8v8m0 13v0m0 24v0M868 1301v0m0 12v0m0 22v0m0 9v26m0 5v7m0 5v434m0 6v2m0 31v0M871 1368v4m0 6v0m0 7v6m0 6v387m0 9v0m0 5v1m0 12v0m0 12v4m0 14v0m0 12v0M874 1376v0m0 19v391m0 10v0m0 13v9m0 11v0m0 5v0M877 1369v0m0 11v0m0 10v0m0 6v368m0 6v0m0 13v3m0 7v2m0 18v0m0 12v2M880 1362v0m0 26v372m0 8v0m0 7v1m0 11v7m0 6v3m0 9v0m0 6v0M883 1363v18m0 11v357m0 9v1m0 36v0M886 1393v0m0 9v337m0 12v3m0 4v2m0 8v13m0 8v0M889 1328v0m0 15v400m0 6v0m0 5v7m0 7v0m0 8v26m0 6v0M892 1300v0m0 27v0m0 4v0m0 15v9m0 14v0m0 6v6m0 6v356m0 4v7m0 5v4m0 5v0m0 4v0m0 11v2m0 13v0m0 10v0m0 16v9M895 1290v0m0 4v6m0 5v0m0 17v0m0 4v0m0 7v0m0 22v5m0 5v0m0 6v370m0 5v2m0 7v37m0 14v3m0 21v0m0 16v0M898 1321v0m0 23v0m0 22v3m0 5v5m0 6v3m0 5v341m0 9v7m0 6v0m0 15v0m0 24v10M901 1299v0m0 61v15m0 8v385m0 14v0m0 28v0M904 1313v1m0 29v409m0 16v0m0 10v0M907 1351v16m0 7v375m0 15v9M910 1329v0m0 19v0m0 21v0m0 18v362m0 14v4m0 5v22M913 1376v0m0 6v0m0 8v366m0 20v0m0 6v0M916 1312v0m0 12v1m0 5v0m0 5v0m0 6v0m0 5v398m0 6v5m0 31v0M919 1275v4m0 7v8m0 9v443m0 9v0m0 7v0m0 7v3m0 5v5m0 10v0m0 15v0m0 6v0M922 1271v0m0 17v0m0 6v0m0 8v451m0 15v0m0 13v13m0 14v0M925 1256v0m0 14v0m0 5v506m0 14v13m0 5v0M928 1249v0m0 22v0m0 14v483m0 4v0m0 5v16m0 4v2m0 5v11m0 9v0m0 10v1m0 4v3m0 20v0m0 6v0M931 1244v0m0 34v0m0 14v3m0 5v452m0 7v14m0 10v3m0 37v0M934 1256v436m0 6v0m0 8v0m0 15v0M937 1276v2m0 5v0m0 10v3m0 5v0m0 5v362m0 8v4m0 8v4M940 1260v0m0 19v14m0 9v352m0 9v3m0 14v0m0 6v0m0 4v0m0 12v1m0 10v0M943 1256v408m0 6v0m0 6v36m0 6v0M946 1285v0m0 16v359m0 4v1m0 14v1m0 10v4m0 5v0m0 16v0M949 1279v1m0 5v0m0 16v415m0 14v1m0 11v0M952 1244v0m0 20v0m0 11v6m0 8v13m0 8v369m0 6v0m0 8v0m0 16v0m0 4v1m0 11v0M955 1260v0m0 14v27m0 4v2m0 5v376m0 12v2m0 4v0m0 6v0m0 12v0M958 1284v0m0 10v394m0 10v4m0 5v0m0 8v0m0 8v0M961 1273v4m0 6v0m0 9v395m0 12v0m0 8v0m0 13v16m0 7v0m0 12v0M964 1271v0m0 19v401m0 6v10m0 9v0m0 4v12M967 1251v0m0 19v403m0 4v1m0 6v3m0 10v4m0 10v0m0 7v0M970 1245v439m0 8v0m0 16v0m0 7v0M973 1231v492m0 13v0m0 6v0m0 7v0m0 13v0m0 6v0M976 1240v426m0 8v0m0 9v0m0 15v0m0 33v0M979 1276v0m0 29v23m0 8v341m0 4v6m0 13v1m0 9v6M982 1292v0m0 20v0m0 24v0m0 14v444m0 4v0m0 11v4m0 12v0m0 9v0m0 9v2m0 6v0M985 1340v0m0 6v27m0 7v0m0 5v434m0 11v0m0 21v0m0 22v0M988 1404v0m0 14v363m0 7v12m0 5v0m0 15v0m0 43v0M991 1370v33m0 10v362m0 25v0m0 16v0M994 1379v411m0 5v12m0 15v3m0 7v0M997 1369v1m0 24v0m0 4v8m0 4v395m0 9v4m0 18v0m0 20v0M1000 1352v4m0 23v20m0 7v397m0 6v0m0 6v2m0 7v0m0 15v0m0 5v0m0 46v0M1003 1366v0m0 15v0m0 7v3m0 5v0m0 4v0m0 10v397m0 10v0m0 18v4M1006 1392v2m0 10v0m0 8v392m0 10v0m0 24v0m0 11v0M1009 1360v0m0 24v0m0 10v398m0 8v0m0 6v0m0 6v0m0 8v1m0 5v0m0 4v0m0 11v0M1012 1405v0m0 8v365m0 5v4m0 11v0m0 15v0M1015 1385v0m0 17v0m0 9v365m0 7v3m0 4v24M1018 1382v0m0 24v415m0 9v2m0 25v0M1021 1392v421m0 6v9M1024 1360v0m0 9v0m0 7v0m0 6v3m0 8v0m0 6v0m0 6v0m0 5v404m0 5v0m0 10v6m0 9v0m0 6v0m0 7v36M1027 1366v3m0 16v1m0 6v401m0 6v0m0 8v10m0 10v6m0 21v0m0 11v2M1030 1365v0m0 7v1m0 17v0m0 13v383m0 5v13m0 7v1m0 8v3m0 10v0M1033 1344v0m0 8v5m0 5v5m0 9v4m0 10v11m0 4v386m0 4v3m0 10v0M1036 1313v0m0 57v0m0 6v435m0 15v0M1039 1355v0m0 18v11m0 4v11m0 5v400m0 5v0m0 6v4m0 8v2m0 7v3m0 6v0m0 10v0m0 10v0M1042 1336v2m0 10v0m0 5v7m0 10v4m0 5v0m0 5v7m0 7v415m0 8v0m0 8v5m0 10v0m0 7v0m0 14v0m0 5v3M1045 1348v22m0 8v0m0 16v413m0 5v7m0 6v0m0 9v2m0 16v2m0 25v0M1048 1370v0m0 27v0m0 13v422m0 11v16M1051 1357v0m0 15v0m0 12v0m0 8v1m0 6v3m0 4v413m0 11v6m0 8v0M1054 1392v429m0 5v5m0 5v7m0 20v0M1057 1403v409m0 9v0m0 6v0m0 10v3M1060 1338v4m0 11v2m0 10v0m0 10v27m0 5v403M1063 1311v0m0 17v0m0 9v0m0 11v17m0 5v0m0 6v3m0 6v1m0 6v12m0 5v397m0 22v1m0 24v0M1066 1382v4m0 18v412m0 9v0m0 16v0M1069 1375v0m0 10v2m0 5v0m0 12v379m0 12v2m0 6v0m0 10v1m0 4v0M1072 1350v0m0 13v11m0 13v0m0 6v2m0 7v401m0 6v9m0 10v3m0 10v0m0 4v0m0 4v3m0 6v2m0 24v0M1075 1294v0m0 17v0m0 13v24m0 6v2m0 4v0m0 5v15m0 7v7m0 6v404m0 5v13m0 5v0m0 8v0m0 4v25m0 13v0M1078 1333v0m0 19v0m0 7v0m0 4v2m0 5v1m0 8v7m0 5v3m0 5v451m0 5v4M1081 1363v20m0 8v0m0 6v404m0 7v7m0 5v3M1084 1354v8m0 4v23m0 8v0m0 12v385m0 5v0m0 19v0m0 7v0m0 6v8M1087 1357v0m0 16v0m0 10v0m0 5v3m0 6v0m0 11v2m0 9v380m0 13v16m0 6v0M1090 1383v3m0 25v0m0 6v0m0 4v381m0 6v0m0 19v0m0 33v0M1093 1380v22m0 4v3m0 5v2m0 4v375m0 5v0m0 5v1m0 5v0M1096 1362v441m0 15v12m0 5v13m0 13v4m0 17v0M1099 1376v0m0 7v3m0 14v0m0 10v387m0 4v19m0 30v0M1102 1364v0m0 6v0m0 8v0m0 13v0m0 5v404m0 8v0m0 10v26m0 31v0M1105 1279v0m0 21v0m0 29v5m0 8v0m0 5v6m0 14v6m0 4v13m0 5v0m0 6v396m0 9v7m0 6v0m0 9v0m0 12v0M1108 1311v0m0 24v0m0 12v6m0 5v0m0 6v0m0 9v423m0 21v4M1111 1365v0m0 10v15m0 6v441m0 9v0M1114 1340v0m0 18v0m0 5v15m0 12v1m0 4v0m0 5v414m0 9v9m0 8v6m0 19v0m0 8v0M1117 1361v0m0 6v0m0 9v0m0 14v424m0 30v0m0 33v0M1120 1376v0m0 24v392m0 6v4m0 5v5m0 7v0m0 12v4m0 6v3m0 19v0M1123 1364v0m0 10v0m0 4v0m0 7v411m0 5v0m0 19v0m0 9v0m0 8v0m0 7v0M1126 1361v0m0 31v395m0 5v6m0 11v0M1129 1359v1m0 19v0m0 11v0m0 8v377m0 10v1M1132 1335v0m0 14v4m0 11v2m0 5v0m0 4v3m0 7v0m0 4v400m0 5v3m0 16v0m0 7v0M1135 1354v0m0 7v0m0 9v0m0 8v3m0 5v0m0 8v397m0 5v4m0 16v0m0 4v4m0 4v0m0 25v12M1138 1332v0m0 24v0m0 16v0m0 13v0m0 7v392m0 5v4m0 8v0M1141 1341v18m0 13v2m0 10v0m0 10v375m0 4v7m0 6v9M1144 1329v11m0 5v10m0 4v2m0 6v0m0 5v0m0 9v4m0 7v374m0 8v0m0 6v2m0 10v47M1147 1364v8m0 9v10m0 6v0m0 4v2m0 4v384m0 5v38m0 5v0M1150 1373v0m0 24v4m0 5v388m0 5v4m0 9v0M1153 1377v0m0 11v1m0 6v4m0 5v1m0 5v384m0 25v0M1156 1324v0m0 78v398m0 29v0m0 17v0M1159 1348v0m0 34v3m0 5v3m0 4v380m0 4v4m0 16v0m0 5v0m0 6v0m0 19v0M1162 1332v0m0 37v0m0 5v4m0 4v0m0 6v9m0 6v416m0 17v0M1165 1392v2m0 12v2m0 4v363m0 4v0m0 6v5m0 16v0m0 20v0M1168 1363v12m0 13v11m0 10v408m0 7v4m0 9v0m0 13v0m0 10v0M1171 1335v0m0 25v3m0 4v0m0 12v0m0 13v5m0 8v0m0 6v403m0 6v1m0 12v4m0 11v8m0 11v0m0 11v0M1174 1356v0m0 11v6m0 5v0m0 5v1m0 7v410m0 10v0m0 8v0m0 13v0m0 4v0M1177 1317v0m0 7v0m0 27v0m0 7v0m0 11v1m0 8v414m0 7v4m0 18v0m0 20v0M1180 1344v0m0 7v11m0 16v1m0 5v400m0 9v0m0 6v1m0 4v0m0 5v0m0 5v1m0 5v0m0 10v0m0 21v0m0 8v0M1183 1373v0m0 4v17m0 5v0m0 4v390m0 14v15m0 17v0m0 6v0M1186 1385v2m0 15v401m0 10v0m0 5v0M1189 1371v0m0 23v0m0 9v393m0 5v0m0 15v3m0 10v0m0 21v0m0 18v1M1192 1367v0m0 13v7m0 6v6m0 4v0m0 7v381m0 11v1m0 6v0M1195 1333v0m0 38v3m0 7v6m0 7v399m0 15v0M1198 1377v3m0 12v3m0 5v387m0 6v2m0 7v0m0 4v2M1201 1374v0m0 6v0m0 7v0m0 13v391M1204 1355v433m0 17v0m0 19v0M1207 1307v0m0 43v0m0 24v0m0 5v7m0 10v0m0 7v377m0 7v0m0 4v0m0 6v5m0 4v11m0 7v0m0 33v0M1210 1345v4m0 21v8m0 5v8m0 7v382m0 10v26m0 5v1m0 5v0m0 5v1m0 5v0m0 5v3m0 13v0m0 6v0M1213 1356v0m0 20v1m0 13v418m0 7v3m0 6v0m0 6v2m0 19v0m0 19v0M1216 1352v0m0 10v13m0 7v0m0 13v0m0 5v402m0 5v0m0 8v4m0 5v0M1219 1308v0m0 31v0m0 5v0m0 6v0m0 10v441m0 16v0m0 17v0M1222 1321v478m0 5v0m0 14v1m0 6v0m0 5v0m0 4v0m0 11v0M1225 1333v0m0 5v1m0 7v0m0 13v8m0 9v0m0 5v405m0 14v0m0 6v0m0 5v18M1228 1380v1m0 4v397m0 9v6m0 12v7m0 7v0m0 22v0m0 7v4m0 15v0M1231 1347v3m0 9v0m0 23v399m0 16v4M1234 1326v0m0 5v0m0 9v2m0 21v0m0 9v0m0 6v419m0 4v3m0 6v0m0 6v0M1237 1332v0m0 14v3m0 5v0m0 5v442m0 19v0m0 5v0m0 18v0m0 13v0M1240 1290v0m0 36v0m0 45v2m0 7v452m0 7v0m0 4v0m0 5v19m0 11v0M1243 1295v0m0 52v14m0 4v439m0 9v0M1246 1271v41m0 7v0m0 8v0m0 4v28m0 9v428m0 11v21m0 32v0M1249 1332v443m0 26v0m0 6v0m0 35v0M1252 1344v0m0 21v415m0 10v1m0 11v0M1255 1343v437m0 9v5m0 17v9m0 21v7M1258 1310v0m0 31v8m0 9v5m0 6v417m0 6v23m0 15v6m0 11v0m0 17v0M1261 1324v35m0 6v0m0 6v0m0 9v2m0 5v474m0 7v2m0 14v0M1264 1250v2m0 33v0m0 5v3m0 8v23m0 5v462m0 8v6m0 6v11m0 5v2m0 5v0m0 4v3m0 13v0m0 40v0M1267 1345v4m0 11v0m0 10v2m0 7v410m0 14v3m0 4v8m0 5v0m0 4v11m0 9v0m0 16v0M1270 1342v0m0 5v0m0 9v14m0 8v412m0 5v0m0 8v1m0 8v0m0 4v0m0 19v13M1273 1335v21m0 11v435m0 5v10m0 5v2m0 15v0M1276 1288v0m0 32v478m0 8v2m0 6v1m0 15v0m0 19v12m0 21v0M1279 1309v486m0 6v5m0 7v5m0 7v0m0 5v0M1282 1312v503M1285 1342v0m0 8v0m0 8v0m0 4v423m0 7v0m0 4v3m0 11v3M1288 1330v0m0 11v0m0 8v3m0 4v412m0 8v0m0 4v0m0 5v0m0 5v17m0 4v0m0 4v0m0 6v0M1291 1332v0m0 9v0m0 5v3m0 8v422m0 5v45m0 5v0m0 17v2m0 16v0M1294 1337v0m0 8v9m0 10v420m0 5v3m0 9v1m0 5v2m0 7v0m0 8v0m0 5v1m0 7v4M1297 1345v0m0 21v438m0 6v5m0 7v0m0 6v0m0 16v3m0 12v0M1300 1327v0m0 5v0m0 35v435m0 10v3m0 21v0M1303 1285v0m0 28v15m0 16v3m0 5v0m0 7v0m0 5v429m0 5v0m0 4v0m0 11v43M1306 1302v485m0 9v25m0 4v2m0 11v0m0 4v2m0 27v0m0 27v0M1309 1294v490m0 13v0m0 8v0m0 21v3M1312 1319v465m0 7v0m0 9v0m0 7v0m0 6v0m0 7v4m0 15v4M1315 1283v0m0 68v3m0 11v2m0 5v427m0 13v1m0 11v0M1318 1303v14m0 20v19m0 5v437m0 4v0m0 5v8m0 4v0m0 26v0m0 7v0m0 14v0M1321 1280v0m0 36v2m0 11v0m0 7v0m0 24v11m0 5v421m0 5v10m0 7v0m0 5v0m0 25v0m0 12v0m0 10v5M1324 1335v0m0 10v0m0 7v3m0 4v11m0 4v0m0 6v401m0 4v0m0 8v22m0 10v0m0 4v2M1327 1362v0m0 7v0m0 7v403m0 16v1m0 8v2M1330 1327v38m0 9v0m0 5v407m0 5v28m0 11v0m0 13v0M1333 1333v4m0 4v436m0 14v0M1336 1324v3m0 6v9m0 9v434m0 27v0M1339 1285v0m0 25v0m0 14v0m0 5v1m0 16v0m0 8v417m0 16v16m0 7v0M1342 1298v0m0 47v0m0 15v425m0 4v1m0 12v0m0 7v2m0 8v5m0 16v0m0 11v0M1345 1317v0m0 5v0m0 9v470m0 6v3m0 13v0m0 8v0m0 13v0m0 4v0m0 31v0M1348 1302v0m0 12v8m0 5v4m0 4v4m0 10v435m0 6v0m0 6v0m0 21v2M1351 1296v0m0 21v0m0 9v0m0 4v5m0 4v0m0 7v0m0 14v437m0 7v2M1354 1280v0m0 12v0m0 43v0m0 4v0m0 6v4m0 9v457m0 16v0M1357 1335v0m0 18v9m0 8v443m0 7v4m0 8v0m0 5v0m0 8v0M1360 1349v0m0 5v0m0 8v5m0 8v422m0 4v0m0 10v9m0 5v9m0 15v0m0 7v0m0 8v0M1363 1338v5m0 6v3m0 4v0m0 11v419m0 15v0m0 4v3m0 10v2m0 4v0m0 7v0m0 46v8M1366 1343v460m0 4v4m0 8v5m0 7v0m0 6v0m0 6v6m0 26v0M1369 1318v0m0 16v7m0 10v4m0 10v445m0 4v11m0 14v4m0 10v7m0 22v4M1372 1339v0m0 10v0m0 13v1m0 5v418m0 5v6m0 4v3m0 6v0m0 5v0m0 5v0m0 5v0m0 13v20m0 7v0M1375 1347v0m0 11v0m0 6v1m0 5v449m0 10v0m0 9v0M1378 1353v0m0 6v0m0 5v0m0 7v461M1381 1360v4m0 6v0m0 6v435m0 6v2m0 17v0m0 4v5m0 40v0M1384 1326v0m0 20v2m0 5v0m0 9v0m0 6v446m0 5v2m0 4v5m0 15v4m0 39v0M1387 1293v0m0 38v536m0 8v3m0 5v0M1390 1284v0m0 26v0m0 9v0m0 8v527m0 5v17m0 6v0m0 12v0M1393 1302v0m0 5v467m0 6v2m0 6v39m0 12v0M1396 1350v0m0 6v0m0 8v425m0 9v1m0 9v2m0 7v29m0 9v0m0 13v0M1399 1305v0m0 5v5m0 6v462m0 5v0m0 15v0m0 8v4m0 8v0M1402 1329v0m0 9v0m0 6v0m0 6v3m0 7v444m0 6v18m0 4v5m0 4v3m0 15v0m0 5v7M1405 1327v3m0 4v0m0 7v443m0 7v3m0 5v2m0 5v3m0 4v0m0 11v0m0 6v3m0 7v0m0 8v1m0 18v4m0 6v0M1408 1353v435m0 6v0m0 38v0M1411 1311v0m0 49v441m0 10v0m0 16v0M1414 1346v454m0 4v11m0 12v0m0 22v1M1417 1283v0m0 33v0m0 8v27m0 8v443m0 12v0m0 4v0m0 11v0m0 17v0M1420 1267v0m0 38v0m0 5v14m0 5v0m0 16v445m0 5v35m0 17v2m0 36v0M1423 1284v5m0 10v2m0 5v0m0 15v452m0 16v0m0 8v8m0 7v0m0 10v1M1426 1250v0m0 21v0m0 7v34m0 12v2m0 5v7m0 5v11m0 7v418m0 4v1m0 9v0m0 25v0m0 9v18M1429 1292v11m0 5v0m0 14v33m0 6v432m0 8v0m0 8v0m0 8v10m0 11v0M1432 1335v0m0 4v3m0 13v1m0 7v435m0 5v1m0 6v1m0 9v0m0 7v0m0 4v0M1435 1297v0m0 28v23m0 10v447m0 4v0m0 12v0m0 11v0m0 12v0m0 6v0M1438 1308v0m0 8v0m0 7v0m0 19v0m0 6v0m0 12v422m0 5v0m0 6v10m0 27v0m0 5v1M1441 1342v0m0 5v0m0 9v0m0 5v451m0 13v7m0 8v0m0 15v0M1444 1329v0m0 9v482m0 5v0m0 6v14M1447 1348v1m0 11v445m0 6v0m0 7v0m0 32v0M1450 1324v0m0 7v0m0 4v3m0 6v13m0 4v432m0 5v0m0 10v0M1453 1277v0m0 22v0m0 10v494M1456 1322v456m0 5v0m0 6v0m0 7v6m0 29v0m0 25v0M1459 1310v533m0 19v6m0 10v0M1462 1260v0m0 7v0m0 25v0m0 15v0m0 7v0m0 7v0m0 9v1m0 6v0m0 5v539m0 9v1m0 8v0M1465 1342v492m0 4v3m0 5v2m0 9v0m0 25v0M1468 1297v0m0 50v0m0 5v403m0 6v6m0 13v3m0 16v0m0 8v0M1471 1287v0m0 55v3m0 5v3m0 6v403m0 36v0m0 6v0m0 24v0M1474 1282v0m0 16v1m0 7v1m0 7v0m0 7v0m0 5v0m0 9v0m0 8v425m0 4v0m0 6v3m0 6v16m0 7v7m0 4v0m0 20v0M1477 1279v0m0 21v0m0 6v0m0 18v1m0 10v441m0 9v0m0 6v0m0 13v0m0 5v0m0 6v9m0 10v0M1480 1293v0m0 5v7m0 17v0m0 11v0m0 6v3m0 6v437m0 4v0m0 10v3M1483 1300v0m0 17v0m0 9v10m0 10v3m0 5v449m0 6v0m0 20v0M1486 1296v4m0 25v0m0 7v10m0 5v434m0 8v2m0 4v1m0 30v0M1489 1285v15m0 8v0m0 8v3m0 5v0m0 8v0m0 12v447m0 5v1m0 11v0m0 7v8M1492 1292v0m0 9v4m0 6v0m0 15v0m0 8v14m0 8v470m0 6v35M1495 1328v0m0 13v13m0 4v468m0 8v0m0 4v24m0 29v0M1498 1325v0m0 13v459m0 6v4m0 4v5m0 4v1m0 10v1m0 4v2m0 10v0m0 7v0m0 7v0m0 12v0m0 9v0M1501 1286v0m0 16v4m0 5v0m0 6v0m0 33v427m0 15v16m0 6v0m0 6v0m0 18v0m0 38v15M1504 1262v0m0 36v0m0 18v0m0 8v0m0 7v1m0 5v0m0 8v461m0 11v3m0 13v0m0 7v0M1507 1336v428m0 9v10m0 6v0m0 6v0m0 7v6m0 15v0m0 6v0m0 11v0m0 5v6m0 21v0M1510 1348v0m0 5v0m0 9v415m0 7v1m0 12v2M1513 1304v0m0 19v0m0 6v0m0 14v1m0 5v0m0 7v424m0 10v2m0 13v4m0 5v0m0 9v0M1516 1295v0m0 11v0m0 13v0m0 7v464m0 22v0m0 14v0M1519 1294v0m0 28v4m0 5v453m0 4v0m0 20v0m0 4v10m0 4v0M1522 1305v0m0 11v12m0 17v458m0 9v0m0 5v0m0 4v13m0 12v0m0 9v0m0 15v3M1525 1278v0m0 10v0m0 5v1m0 25v0m0 9v0m0 5v0m0 4v519m0 9v1m0 4v0" stroke="#a5bea2"/>
</g>
<rect x="133.1" y="41.9" width="641.1" height="461.0" fill="none" stroke="#333" stroke-width="1.8"/>
<path d="M133.1 41.9 V502.9 H774.2" fill="none" stroke="#000" stroke-width="2.2" stroke-linecap="square"/>
<text x="124.2" y="516.9" font-size="35.5" text-anchor="end">0.25</text>
<text x="124.2" y="425.0" font-size="35.5" text-anchor="end">0.50</text>
<text x="124.2" y="333.1" font-size="35.5" text-anchor="end">0.75</text>
<text x="124.2" y="241.1" font-size="35.5" text-anchor="end">1.00</text>
<text x="124.2" y="149.2" font-size="35.5" text-anchor="end">1.25</text>
<text x="124.2" y="57.3" font-size="35.5" text-anchor="end">1.50</text>
<text x="133.1" y="539.0" font-size="35.5" text-anchor="middle">0.00</text>
<text x="290.5" y="539.0" font-size="35.5" text-anchor="middle">0.25</text>
<text x="447.9" y="539.0" font-size="35.5" text-anchor="middle">0.50</text>
<text x="605.3" y="539.0" font-size="35.5" text-anchor="middle">0.75</text>
<text x="762.7" y="539.0" font-size="35.5" text-anchor="middle">1.00</text>
<path d="M132.1 503.0h-5.5M132.1 411.1h-5.5M132.1 319.2h-5.5M132.1 227.2h-5.5M132.1 135.3h-5.5M132.1 43.4h-5.5M133.1 503.9v5.5M290.5 503.9v5.5M447.9 503.9v5.5M605.3 503.9v5.5M762.7 503.9v5.5" stroke="#333" stroke-width="1.6" fill="none"/>
<text transform="translate(34.2 272.4) rotate(-90)" font-size="35" text-anchor="middle">Distance (nm)</text>
<rect x="133.1" y="579.6" width="641.1" height="425.9" fill="none" stroke="#333" stroke-width="1.8"/>
<path d="M133.1 579.6 V1005.5 H774.2" fill="none" stroke="#000" stroke-width="2.2" stroke-linecap="square"/>
<text x="124.2" y="1019.5" font-size="35.5" text-anchor="end">0.25</text>
<text x="124.2" y="934.6" font-size="35.5" text-anchor="end">0.50</text>
<text x="124.2" y="849.6" font-size="35.5" text-anchor="end">0.75</text>
<text x="124.2" y="764.7" font-size="35.5" text-anchor="end">1.00</text>
<text x="124.2" y="679.7" font-size="35.5" text-anchor="end">1.25</text>
<text x="124.2" y="594.8" font-size="35.5" text-anchor="end">1.50</text>
<text x="133.1" y="1041.7" font-size="35.5" text-anchor="middle">0.00</text>
<text x="290.5" y="1041.7" font-size="35.5" text-anchor="middle">0.25</text>
<text x="447.9" y="1041.7" font-size="35.5" text-anchor="middle">0.50</text>
<text x="605.3" y="1041.7" font-size="35.5" text-anchor="middle">0.75</text>
<text x="762.7" y="1041.7" font-size="35.5" text-anchor="middle">1.00</text>
<path d="M132.1 1005.6h-5.5M132.1 920.7h-5.5M132.1 835.7h-5.5M132.1 750.8h-5.5M132.1 665.8h-5.5M132.1 580.9h-5.5M133.1 1006.5v5.5M290.5 1006.5v5.5M447.9 1006.5v5.5M605.3 1006.5v5.5M762.7 1006.5v5.5" stroke="#333" stroke-width="1.6" fill="none"/>
<text transform="translate(34.2 792.5) rotate(-90)" font-size="35" text-anchor="middle">Distance (nm)</text>
<text x="875.6" y="489.3" font-size="35.5" text-anchor="end">0.25</text>
<text x="875.6" y="402.2" font-size="35.5" text-anchor="end">0.50</text>
<text x="875.6" y="315.2" font-size="35.5" text-anchor="end">0.75</text>
<text x="875.6" y="228.1" font-size="35.5" text-anchor="end">1.00</text>
<text x="875.6" y="141.1" font-size="35.5" text-anchor="end">1.25</text>
<text x="875.6" y="54.0" font-size="35.5" text-anchor="end">1.50</text>
<text x="884.9" y="511.9" font-size="35.5" text-anchor="middle">0</text>
<text x="941.4" y="511.9" font-size="35.5" text-anchor="middle">1</text>
<text x="997.9" y="511.9" font-size="35.5" text-anchor="middle">2</text>
<text x="1054.4" y="511.9" font-size="35.5" text-anchor="middle">3</text>
<text x="1110.9" y="511.9" font-size="35.5" text-anchor="middle">4</text>
<text x="1167.4" y="511.9" font-size="35.5" text-anchor="middle">5</text>
<path d="M883.9 476.8h-5.5M883.9 389.7h-5.5M883.9 302.7h-5.5M883.9 215.6h-5.5M883.9 128.6h-5.5M883.9 41.5h-5.5M884.9 477.8v5.5M941.4 477.8v5.5M997.9 477.8v5.5M1054.4 477.8v5.5M1110.9 477.8v5.5M1167.4 477.8v5.5" stroke="#333" stroke-width="1.6" fill="none"/>
<path d="M884.9 389.7H1167.4" stroke="#b0b0b0" stroke-width="2.3" stroke-dasharray="19 9" fill="none"/>
<path d="M885.3 70.0C885.3 72.0 885.4 77.7 885.6 82.0C885.8 86.3 885.8 91.0 886.5 96.0C887.2 101.0 888.3 106.8 889.9 111.8C891.5 116.8 893.6 121.5 895.9 125.8C898.2 130.1 899.8 133.6 903.8 137.8C907.8 142.0 913.8 146.8 919.8 150.8C925.8 154.8 933.1 157.7 939.8 161.8C946.5 166.0 954.5 171.7 959.8 175.7C965.1 179.7 968.8 182.4 971.7 185.7C974.6 189.0 976.1 192.4 977.2 195.7C978.3 199.0 978.3 202.4 978.3 205.7C978.3 209.0 976.9 211.3 977.0 215.7C977.1 220.1 978.2 226.0 978.7 232.0C979.2 238.0 979.9 246.6 979.7 251.9C979.5 257.2 980.0 258.9 977.7 263.9C975.4 268.9 969.4 276.2 965.8 281.9C962.1 287.6 958.3 292.9 955.8 297.9C953.3 302.9 951.1 307.5 950.8 311.8C950.5 316.1 951.6 319.8 953.8 323.8C956.0 327.8 960.6 332.5 963.8 335.8C967.0 339.1 971.4 341.3 973.2 343.5C975.0 345.7 975.6 346.9 974.7 348.8C973.8 350.7 972.9 352.6 967.7 354.8C962.6 357.0 951.8 359.3 943.8 361.8C935.8 364.3 925.8 367.1 919.8 369.7C913.8 372.3 910.5 374.4 907.8 377.7C905.1 381.0 904.6 384.4 903.8 389.7C903.0 395.0 903.3 403.0 902.8 409.7C902.3 416.4 901.9 424.2 900.8 429.9C899.6 435.6 898.0 439.5 895.9 443.8C893.8 448.1 889.7 452.6 887.9 455.8C886.1 459.0 885.7 461.8 885.3 463.0" fill="none" stroke="#555d80" stroke-width="3.0" stroke-linejoin="round"/>
<path d="M885.3 115.0C885.3 117.2 885.3 123.2 885.6 128.0C885.9 132.8 885.9 137.5 886.9 143.8C887.9 150.1 889.7 158.8 891.9 165.8C894.1 172.8 896.6 178.7 899.9 185.7C903.2 192.7 908.5 201.6 911.8 207.7C915.1 213.8 915.8 217.3 919.8 222.0C923.8 226.7 929.1 231.2 935.8 235.9C942.5 240.6 952.5 245.6 959.8 249.9C967.1 254.2 974.7 257.9 979.7 261.9C984.7 265.9 987.5 270.6 989.7 273.9C991.9 277.2 992.9 278.9 992.7 281.9C992.5 284.9 991.5 288.6 988.7 291.9C985.9 295.2 979.0 298.8 975.7 301.8C972.4 304.8 970.1 307.3 968.7 309.8C967.3 312.3 966.8 314.5 967.3 316.8C967.8 319.1 968.6 321.5 971.7 323.8C974.8 326.1 978.4 328.5 985.7 330.8C993.0 333.1 1005.1 335.6 1015.7 337.8C1026.3 340.0 1039.9 342.0 1049.6 343.8C1059.2 345.6 1068.8 347.4 1073.6 348.8C1078.4 350.2 1078.6 351.0 1078.6 352.2C1078.6 353.4 1078.4 354.0 1073.6 355.8C1068.8 357.6 1058.6 360.2 1049.6 362.8C1040.6 365.4 1029.7 369.1 1019.7 371.7C1009.7 374.3 999.7 376.4 989.7 378.7C979.7 381.0 968.1 383.4 959.8 385.7C951.5 388.0 946.5 390.0 939.8 392.7C933.1 395.4 925.8 398.2 919.8 401.7C913.8 405.2 908.1 410.2 903.8 413.7C899.5 417.2 896.5 419.7 893.9 422.5C891.2 425.3 889.2 427.9 887.9 430.5C886.6 433.1 886.3 434.6 885.9 437.8C885.5 441.1 885.4 448.0 885.3 450.0" fill="none" stroke="#5e8889" stroke-width="3.0" stroke-linejoin="round"/>
<path d="M885.3 42.0C885.3 44.2 885.4 51.0 885.6 55.0C885.8 59.0 885.8 61.2 886.3 66.0C886.8 70.8 887.6 78.2 888.9 83.9C890.2 89.6 892.1 94.6 893.9 99.9C895.7 105.2 898.6 111.5 899.9 115.8C901.2 120.1 902.0 121.8 901.8 125.8C901.6 129.8 899.7 135.1 898.9 139.8C898.1 144.5 896.9 148.8 896.9 153.8C896.9 158.8 897.8 164.7 898.9 169.7C900.0 174.7 901.6 178.7 903.8 183.7C905.9 188.7 909.1 194.3 911.8 199.7C914.5 205.1 917.5 210.3 919.8 216.0C922.1 221.7 924.3 228.2 925.8 233.9C927.3 239.6 928.5 245.6 928.8 249.9C929.1 254.2 927.6 255.9 927.8 259.9C928.0 263.9 928.1 269.2 929.8 273.9C931.5 278.6 933.8 283.2 937.8 287.9C941.8 292.5 946.8 297.1 953.8 301.8C960.8 306.5 970.4 311.5 979.7 315.8C989.0 320.1 1000.4 323.8 1009.7 327.8C1019.0 331.8 1029.6 336.5 1035.6 339.8C1041.6 343.1 1043.8 345.6 1045.6 347.8C1047.4 350.0 1047.6 350.8 1046.6 352.8C1045.6 354.8 1044.1 357.0 1039.6 359.8C1035.1 362.6 1028.0 366.6 1019.7 369.7C1011.4 372.8 999.0 376.0 989.7 378.7C980.4 381.4 970.8 383.4 963.8 385.7C956.8 388.0 951.8 390.0 947.8 392.7C943.8 395.4 942.1 398.2 939.8 401.7C937.5 405.2 935.8 410.1 933.8 413.7C931.8 417.2 929.8 420.0 927.8 423.0C925.8 426.0 924.5 428.7 921.8 431.8C919.1 434.9 915.4 438.8 911.8 441.8C908.1 444.8 903.5 447.1 899.9 449.8C896.2 452.5 892.3 455.1 889.9 457.8C887.5 460.5 886.1 464.6 885.3 466.0" fill="none" stroke="#e0d2aa" stroke-width="3.0" stroke-linejoin="round"/>
<rect x="884.9" y="41.5" width="282.5" height="435.3" fill="none" stroke="#333" stroke-width="1.8"/>
<path d="M884.9 41.5 V476.8 H1167.4" fill="none" stroke="#000" stroke-width="2.2" stroke-linecap="square"/>
<text x="875.6" y="1026.7" font-size="35.5" text-anchor="end">0.25</text>
<text x="875.6" y="939.6" font-size="35.5" text-anchor="end">0.50</text>
<text x="875.6" y="852.5" font-size="35.5" text-anchor="end">0.75</text>
<text x="875.6" y="765.5" font-size="35.5" text-anchor="end">1.00</text>
<text x="875.6" y="678.4" font-size="35.5" text-anchor="end">1.25</text>
<text x="875.6" y="591.3" font-size="35.5" text-anchor="end">1.50</text>
<text x="884.9" y="1049.7" font-size="35.5" text-anchor="middle">0</text>
<text x="941.4" y="1049.7" font-size="35.5" text-anchor="middle">1</text>
<text x="997.9" y="1049.7" font-size="35.5" text-anchor="middle">2</text>
<text x="1054.4" y="1049.7" font-size="35.5" text-anchor="middle">3</text>
<text x="1110.9" y="1049.7" font-size="35.5" text-anchor="middle">4</text>
<text x="1167.4" y="1049.7" font-size="35.5" text-anchor="middle">5</text>
<path d="M883.9 1014.2h-5.5M883.9 927.1h-5.5M883.9 840.0h-5.5M883.9 753.0h-5.5M883.9 665.9h-5.5M883.9 578.8h-5.5M884.9 1015.2v5.5M941.4 1015.2v5.5M997.9 1015.2v5.5M1054.4 1015.2v5.5M1110.9 1015.2v5.5M1167.4 1015.2v5.5" stroke="#333" stroke-width="1.6" fill="none"/>
<path d="M884.9 927.1H1167.4" stroke="#b0b0b0" stroke-width="2.3" stroke-dasharray="19 9" fill="none"/>
<path d="M885.3 612.0C885.3 614.3 885.3 621.4 885.6 626.0C885.9 630.6 885.9 635.3 886.9 639.9C887.9 644.5 889.4 649.5 891.9 653.8C894.4 658.1 897.1 661.8 901.8 665.8C906.4 669.8 912.8 674.1 919.8 677.8C926.8 681.5 936.5 684.5 943.8 687.8C951.1 691.1 957.8 694.5 963.8 697.8C969.8 701.1 975.4 704.4 979.7 707.7C984.0 711.0 987.2 714.4 989.7 717.7C992.2 721.0 993.8 724.0 994.7 727.7C995.6 731.4 994.5 736.3 995.3 739.7C996.1 743.1 997.0 745.1 999.7 748.0C1002.4 750.9 1006.7 754.0 1011.7 757.0C1016.7 760.0 1023.7 762.9 1029.7 766.0C1035.7 769.1 1043.3 772.8 1047.6 775.9C1051.8 779.0 1054.9 781.9 1055.2 784.9C1055.5 787.9 1053.2 790.9 1049.6 793.9C1046.0 796.9 1040.2 800.1 1033.6 802.9C1026.9 805.7 1018.7 808.1 1009.7 810.9C1000.7 813.7 989.7 816.9 979.7 819.9C969.7 822.9 959.1 825.6 949.8 828.9C940.5 832.2 930.8 836.1 923.8 839.9C916.8 843.7 912.1 847.5 907.8 851.8C903.5 856.1 900.5 861.1 897.9 865.8C895.2 870.5 893.4 874.1 891.9 879.8C890.4 885.5 889.7 893.1 888.9 899.8C888.1 906.4 887.5 913.8 886.9 919.7C886.3 925.6 885.6 932.5 885.3 935.0" fill="none" stroke="#4a4f78" stroke-width="3.0" stroke-linejoin="round"/>
<path d="M885.3 580.0C885.3 582.0 885.3 586.0 885.6 592.0C885.9 598.0 886.0 607.9 886.9 615.9C887.8 623.9 889.1 633.2 890.9 639.9C892.7 646.5 895.1 650.8 897.9 655.8C900.7 660.8 903.5 665.1 907.8 669.8C912.1 674.5 917.8 678.8 923.8 683.8C929.8 688.8 937.1 695.1 943.8 699.8C950.5 704.4 957.1 708.1 963.8 711.7C970.4 715.4 977.7 718.7 983.7 721.7C989.7 724.7 995.4 726.9 999.7 729.7C1004.0 732.5 1007.5 735.9 1009.7 738.7C1011.9 741.5 1013.2 743.8 1013.0 746.7C1012.8 749.6 1011.6 752.8 1008.7 756.0C1005.8 759.2 1000.5 762.5 995.7 766.0C990.9 769.5 984.0 773.6 979.7 776.9C975.4 780.2 972.2 782.4 969.7 785.9C967.2 789.4 965.7 793.9 964.8 797.9C963.9 801.9 963.9 805.6 964.2 809.9C964.5 814.2 965.5 819.6 966.8 823.9C968.0 828.2 970.8 832.2 971.7 835.9C972.6 839.5 972.8 842.1 972.1 845.8C971.4 849.4 970.1 854.1 967.7 857.8C965.3 861.5 962.4 864.1 957.8 867.8C953.1 871.5 946.1 875.5 939.8 879.8C933.5 884.1 925.8 889.1 919.8 893.8C913.8 898.4 908.1 903.1 903.8 907.7C899.5 912.4 896.5 917.0 893.9 921.7C891.2 926.4 889.2 931.0 887.9 935.7C886.6 940.4 886.3 945.3 885.9 949.7C885.5 954.1 885.4 960.0 885.3 962.0" fill="none" stroke="#a3c09f" stroke-width="3.0" stroke-linejoin="round"/>
<rect x="884.9" y="578.8" width="282.5" height="435.4" fill="none" stroke="#333" stroke-width="1.8"/>
<path d="M884.9 578.8 V1014.2 H1167.4" fill="none" stroke="#000" stroke-width="2.2" stroke-linecap="square"/>
<text x="453.6" y="1080.9" font-size="35.0" text-anchor="middle">Time (µs)</text>
<text x="1026.4" y="1088.7" font-size="35.0" text-anchor="middle">Density</text>
<text x="3.0" y="38.5" font-size="49.0" text-anchor="start" font-weight="bold">A</text>
<text x="2.7" y="581.9" font-size="49.0" text-anchor="start" font-weight="bold">B</text>
<text x="1230.5" y="38.3" font-size="49.0" text-anchor="start" font-weight="bold">C</text>
<rect x="281.7" y="1107.6" width="50.6" height="44.3" fill="#5e6883"/>
<text x="338.7" y="1141.4" font-size="30.0" text-anchor="start">7a</text>
<rect x="411.1" y="1107.6" width="50.6" height="44.3" fill="#7f9b9d"/>
<text x="468.1" y="1141.4" font-size="30.0" text-anchor="start">7b</text>
<rect x="542.9" y="1107.6" width="50.6" height="44.3" fill="#ddd0ae"/>
<text x="599.9" y="1141.4" font-size="30.0" text-anchor="start">7d</text>
<rect x="673.8" y="1107.6" width="50.6" height="44.3" fill="#565a7c"/>
<text x="730.8" y="1141.4" font-size="30.0" text-anchor="start">7f</text>
<rect x="795.8" y="1107.6" width="50.6" height="44.3" fill="#a6bea4"/>
<text x="852.8" y="1141.4" font-size="30.0" text-anchor="start">7i</text>
<rect x="1304.9" y="160.1" width="76.7" height="57.2" fill="#ede8d9"/>
<rect x="1732.5" y="78.0" width="99.1" height="57.0" fill="#ede8d9"/>
<rect x="1905.8" y="160.3" width="97.5" height="56.9" fill="#ede8d9"/>
<text x="1343.2" y="200.3" font-size="32.0" text-anchor="middle" font-weight="bold">7b</text>
<text x="1782.0" y="118.0" font-size="32.0" text-anchor="middle">O13</text>
<text x="1954.5" y="200.3" font-size="32.0" text-anchor="middle">C19</text>
<text x="1605.0" y="258.8" font-size="32.0" text-anchor="start">3.6 Å</text>
<text x="1791.5" y="334.4" font-size="32.0" text-anchor="start">4.6 Å</text>
<text x="1736.5" y="430.6" font-size="32.0" text-anchor="start">Cys13</text>
<text x="1308.0" y="623.6" font-size="32.0">Mg<tspan font-size="20.5" dy="-12">2+</tspan></text>
<g>
<path d="M1318.8 650.9L1283.9 691.7L1371.6 767.4Q1385 778 1399.4 782.4Q1409 784 1419.4 783.3Q1430 780 1439.3 775.4L1467.2 757.5Q1474 750 1477.5 741L1459.5 738.5Q1440 741 1423.3 735.5Q1414 730 1407.4 723.6Z" fill="#fff" stroke="#1a1a1a" stroke-width="1.6" stroke-linejoin="round"/>
<path d="M1421.5 739.5L1393.5 775.5Q1406 783.5 1419.4 783.3L1445.5 751.5Z" fill="#b4b4b4"/>
<path d="M1445.5 751.5L1419.4 783.3Q1430 780.5 1439.3 775.4L1467.2 757.5L1465.5 749.5Z" fill="#6e6e6e"/>
<path d="M1318.8 650.9L1283.9 691.7L1371.6 767.4Q1385 778 1399.4 782.4Q1409 784 1419.4 783.3Q1430 780 1439.3 775.4L1467.2 757.5Q1474 750 1477.5 741" fill="none" stroke="#1a1a1a" stroke-width="1.6" stroke-linejoin="round"/>
<path d="M1318.8 650.9L1407.4 723.6" fill="none" stroke="#1a1a1a" stroke-width="2.4" stroke-dasharray="3 1.2"/>
<path d="M1318.8 650.9L1283.9 691.7" fill="none" stroke="#333" stroke-width="2.6"/>
<path d="M1482.0 606.0C1481.3 608.7 1479.2 617.0 1478.0 622.0C1476.8 627.0 1475.7 631.3 1474.9 636.0C1474.2 640.7 1473.8 644.3 1473.5 650.0C1473.2 655.7 1472.8 663.3 1472.9 670.0C1473.0 676.7 1473.6 684.2 1473.9 690.0C1474.2 695.8 1474.8 699.7 1474.7 705.0C1474.6 710.3 1474.0 716.0 1473.1 722.0C1472.2 728.0 1470.1 737.8 1469.5 741.0" fill="none" stroke="#1a1a1a" stroke-width="20.5" stroke-linecap="butt" stroke-linejoin="round"/>
<path d="M1482.0 606.0C1481.3 608.7 1479.2 617.0 1478.0 622.0C1476.8 627.0 1475.7 631.3 1474.9 636.0C1474.2 640.7 1473.8 644.3 1473.5 650.0C1473.2 655.7 1472.8 663.3 1472.9 670.0C1473.0 676.7 1473.6 684.2 1473.9 690.0C1474.2 695.8 1474.8 699.7 1474.7 705.0C1474.6 710.3 1474.0 716.0 1473.1 722.0C1472.2 728.0 1470.1 737.8 1469.5 741.0" fill="none" stroke="#ffffff" stroke-width="15.9" stroke-linecap="butt" stroke-linejoin="round"/>
<path d="M1459.5 739.0L1476.5 744.5" stroke="#fff" stroke-width="3" fill="none"/>
<path d="M1407.4 723.6Q1414 730 1423.3 735.5Q1440 741 1459.8 738.6L1467.5 747.5" fill="none" stroke="#1a1a1a" stroke-width="1.5"/>
<path d="M1505.0 588.5C1509.2 587.8 1521.7 585.1 1530.0 584.5C1538.3 583.9 1546.7 584.3 1555.0 585.0C1563.3 585.7 1571.7 587.1 1580.0 588.5C1588.3 589.9 1596.7 592.0 1605.0 593.5C1613.3 595.0 1623.1 596.9 1629.8 597.8C1636.5 598.7 1640.0 599.0 1645.0 599.0C1650.0 599.0 1655.2 598.6 1659.7 597.8C1664.2 597.0 1668.0 595.7 1672.0 594.0C1676.0 592.3 1680.3 590.3 1683.6 587.5C1686.9 584.7 1689.7 581.2 1692.0 577.0C1694.3 572.8 1696.2 567.2 1697.5 562.5C1698.8 557.8 1699.3 553.5 1699.5 549.0C1699.7 544.5 1699.2 540.4 1698.5 535.7C1697.8 531.0 1696.7 526.0 1695.5 521.0C1694.3 516.0 1692.9 510.6 1691.6 505.8C1690.3 501.0 1688.6 495.9 1687.6 492.0C1686.6 488.1 1685.4 485.3 1685.6 482.5C1685.8 479.7 1687.0 476.9 1688.5 475.0C1690.0 473.1 1692.1 471.9 1694.5 471.2C1696.9 470.5 1699.5 470.2 1703.0 470.6C1706.5 471.0 1710.5 471.1 1715.5 473.5C1720.5 475.9 1727.0 480.5 1733.0 485.0C1739.0 489.5 1745.8 495.0 1751.3 500.5C1756.8 506.0 1761.3 512.0 1766.0 518.0C1770.7 524.0 1773.7 528.5 1779.2 536.5C1784.7 544.5 1792.4 556.1 1799.0 566.0C1805.6 575.9 1813.5 588.0 1819.0 596.0C1824.5 604.0 1827.7 607.8 1832.0 614.0C1836.3 620.2 1841.4 627.0 1844.9 633.0C1848.4 639.0 1850.7 644.8 1853.0 650.0C1855.3 655.2 1856.8 659.0 1858.5 664.0C1860.2 669.0 1862.0 674.0 1863.5 680.0C1865.0 686.0 1866.6 693.0 1867.5 700.0C1868.4 707.0 1868.8 714.5 1868.8 722.0C1868.8 729.5 1867.9 738.0 1867.3 745.0C1866.7 752.0 1866.2 758.0 1865.0 764.0C1863.8 770.0 1862.3 775.7 1860.3 781.0C1858.3 786.3 1855.5 791.3 1853.0 796.0C1850.5 800.7 1850.0 802.0 1845.0 809.0C1840.0 816.0 1830.5 828.4 1823.0 838.3C1815.5 848.2 1805.9 859.9 1799.7 868.6C1793.5 877.3 1787.9 886.8 1785.6 890.4" fill="none" stroke="#1a1a1a" stroke-width="18.8" stroke-linecap="butt" stroke-linejoin="round"/>
<path d="M1505.0 588.5C1509.2 587.8 1521.7 585.1 1530.0 584.5C1538.3 583.9 1546.7 584.3 1555.0 585.0C1563.3 585.7 1571.7 587.1 1580.0 588.5C1588.3 589.9 1596.7 592.0 1605.0 593.5C1613.3 595.0 1623.1 596.9 1629.8 597.8C1636.5 598.7 1640.0 599.0 1645.0 599.0C1650.0 599.0 1655.2 598.6 1659.7 597.8C1664.2 597.0 1668.0 595.7 1672.0 594.0C1676.0 592.3 1680.3 590.3 1683.6 587.5C1686.9 584.7 1689.7 581.2 1692.0 577.0C1694.3 572.8 1696.2 567.2 1697.5 562.5C1698.8 557.8 1699.3 553.5 1699.5 549.0C1699.7 544.5 1699.2 540.4 1698.5 535.7C1697.8 531.0 1696.7 526.0 1695.5 521.0C1694.3 516.0 1692.9 510.6 1691.6 505.8C1690.3 501.0 1688.6 495.9 1687.6 492.0C1686.6 488.1 1685.4 485.3 1685.6 482.5C1685.8 479.7 1687.0 476.9 1688.5 475.0C1690.0 473.1 1692.1 471.9 1694.5 471.2C1696.9 470.5 1699.5 470.2 1703.0 470.6C1706.5 471.0 1710.5 471.1 1715.5 473.5C1720.5 475.9 1727.0 480.5 1733.0 485.0C1739.0 489.5 1745.8 495.0 1751.3 500.5C1756.8 506.0 1761.3 512.0 1766.0 518.0C1770.7 524.0 1773.7 528.5 1779.2 536.5C1784.7 544.5 1792.4 556.1 1799.0 566.0C1805.6 575.9 1813.5 588.0 1819.0 596.0C1824.5 604.0 1827.7 607.8 1832.0 614.0C1836.3 620.2 1841.4 627.0 1844.9 633.0C1848.4 639.0 1850.7 644.8 1853.0 650.0C1855.3 655.2 1856.8 659.0 1858.5 664.0C1860.2 669.0 1862.0 674.0 1863.5 680.0C1865.0 686.0 1866.6 693.0 1867.5 700.0C1868.4 707.0 1868.8 714.5 1868.8 722.0C1868.8 729.5 1867.9 738.0 1867.3 745.0C1866.7 752.0 1866.2 758.0 1865.0 764.0C1863.8 770.0 1862.3 775.7 1860.3 781.0C1858.3 786.3 1855.5 791.3 1853.0 796.0C1850.5 800.7 1850.0 802.0 1845.0 809.0C1840.0 816.0 1830.5 828.4 1823.0 838.3C1815.5 848.2 1805.9 859.9 1799.7 868.6C1793.5 877.3 1787.9 886.8 1785.6 890.4" fill="none" stroke="#ffffff" stroke-width="14.2" stroke-linecap="butt" stroke-linejoin="round"/>
<path d="M1636.0 598.6C1637.5 598.7 1641.0 599.1 1645.0 599.0C1649.0 598.9 1655.2 598.6 1659.7 597.8C1664.2 597.0 1668.0 595.7 1672.0 594.0C1676.0 592.3 1680.3 590.3 1683.6 587.5C1686.9 584.7 1689.7 581.2 1692.0 577.0C1694.3 572.8 1696.2 567.2 1697.5 562.5C1698.8 557.8 1699.3 553.5 1699.5 549.0C1699.7 544.5 1699.2 540.4 1698.5 535.7C1697.8 531.0 1696.7 526.0 1695.5 521.0C1694.3 516.0 1692.9 510.6 1691.6 505.8C1690.3 501.0 1688.6 495.9 1687.6 492.0C1686.6 488.1 1685.4 485.3 1685.6 482.5C1685.8 479.7 1687.0 476.9 1688.5 475.0C1690.0 473.1 1692.1 471.9 1694.5 471.2C1696.9 470.5 1699.5 470.2 1703.0 470.6C1706.5 471.0 1712.0 472.1 1715.5 473.5C1719.0 474.9 1722.6 477.9 1724.0 478.8" fill="none" stroke="#a6a6a6" stroke-width="14.6"/>
<path d="M1691.0 508.0C1690.4 505.3 1688.5 496.2 1687.6 492.0C1686.7 487.8 1685.4 485.3 1685.6 482.5C1685.8 479.7 1687.0 476.9 1688.5 475.0C1690.0 473.1 1692.1 471.9 1694.5 471.2C1696.9 470.5 1700.6 470.5 1703.0 470.6C1705.4 470.7 1708.0 471.4 1709.0 471.6" fill="none" stroke="#5c5c5c" stroke-width="14.6"/>
<path d="M1724.0 481.5C1725.5 482.5 1730.0 485.2 1733.0 487.5C1736.0 489.8 1740.5 493.8 1742.0 495.0" fill="none" stroke="#e8e8e8" stroke-width="6"/>
<path d="M1626.0 595.2C1627.3 595.4 1631.3 596.1 1634.0 596.4C1636.7 596.7 1640.7 596.7 1642.0 596.8" fill="none" stroke="#d8d8d8" stroke-width="5"/>
<path d="M1650.0 592.8C1652.0 592.6 1658.3 592.5 1662.0 591.8C1665.7 591.1 1670.3 589.0 1672.0 588.4" fill="none" stroke="#707070" stroke-width="3"/>
<path d="M1729.0 487.5C1731.8 489.9 1740.6 496.7 1745.8 502.0C1751.0 507.3 1755.7 513.5 1760.3 519.5C1764.9 525.5 1768.0 530.0 1773.5 538.0C1779.0 546.0 1786.7 557.6 1793.3 567.5C1799.9 577.4 1807.8 589.5 1813.3 597.5C1818.8 605.5 1822.0 609.3 1826.3 615.5C1830.6 621.7 1835.8 628.6 1839.3 634.5C1842.8 640.4 1845.0 645.9 1847.3 651.0C1849.5 656.1 1851.0 660.0 1852.8 665.0C1854.5 670.0 1856.3 675.2 1857.8 681.0C1859.3 686.8 1860.9 693.2 1861.8 700.0C1862.7 706.8 1863.0 714.5 1863.0 722.0C1863.0 729.5 1862.1 738.0 1861.5 745.0C1860.9 752.0 1860.4 758.3 1859.2 764.0C1858.0 769.7 1855.3 776.5 1854.5 779.0" fill="none" stroke="#a2a2a2" stroke-width="3.6"/>
<ellipse cx="1785.6" cy="890.4" rx="8.2" ry="3.4" transform="rotate(33 1785.6 890.4)" fill="#fff" stroke="#1a1a1a" stroke-width="1.4"/>
</g>
<g fill="none" stroke-linejoin="round">
<path d="M1683.6 346.2L1711.5 397.5" stroke="#141414" stroke-width="24.4" stroke-linecap="butt"/>
<circle cx="1683.6" cy="346.2" r="12.2" fill="#141414" stroke="none"/>
<circle cx="1711.5" cy="397.5" r="12.2" fill="#141414" stroke="none"/>
<path d="M1694.8 468.0L1711.5 397.5" stroke="#141414" stroke-width="24.4" stroke-linecap="butt"/>
<path d="M1683.6 346.2L1700.3 377.0" stroke="#d0a800" stroke-width="20.4" stroke-linecap="butt"/>
<circle cx="1683.6" cy="346.2" r="10.2" fill="#d0a800" stroke="none"/>
<path d="M1700.3 377.0L1711.5 397.5" stroke="#a8a8a8" stroke-width="20.4" stroke-linecap="butt"/>
<circle cx="1711.5" cy="397.5" r="10.2" fill="#a8a8a8" stroke="none"/>
<path d="M1683.6 346.2L1700.3 377.0" stroke="#e6c800" stroke-width="14.4" stroke-linecap="butt"/>
<circle cx="1683.6" cy="346.2" r="7.2" fill="#e6c800" stroke="none"/>
<path d="M1694.8 468.0L1711.5 397.5" stroke="#ffffff" stroke-width="20.4" stroke-linecap="butt"/>
<path d="M1685.0 348.8L1699.8 376.0" stroke="#ff9a00" stroke-width="2" />
</g>
<circle cx="1685.2" cy="347.5" r="5.2" fill="#ffb000"/>
<circle cx="1686.0" cy="347.0" r="3.2" fill="#ffe000"/>
<g fill="none" stroke-linejoin="round">
<path d="M1531.0 335.5L1510.0 376.0" stroke="#141414" stroke-width="24.4" stroke-linecap="butt"/>
<circle cx="1531.0" cy="335.5" r="12.2" fill="#141414" stroke="none"/>
<path d="M1543.5 371.5L1528.0 368.0" stroke="#141414" stroke-width="24.4" stroke-linecap="butt"/>
<circle cx="1543.5" cy="371.5" r="12.2" fill="#141414" stroke="none"/>
<path d="M1434.5 326.0L1492.0 354.0" stroke="#141414" stroke-width="24.4" stroke-linecap="butt"/>
<path d="M1493.0 356.0L1466.0 438.0" stroke="#141414" stroke-width="20.0" stroke-linecap="butt"/>
<path d="M1531.0 335.5L1510.0 376.0" stroke="#0000ff" stroke-width="20.4" stroke-linecap="butt"/>
<circle cx="1531.0" cy="335.5" r="10.2" fill="#0000ff" stroke="none"/>
<path d="M1543.5 371.5L1541.6 371.1" stroke="#b40000" stroke-width="20.4" stroke-linecap="butt"/>
<circle cx="1543.5" cy="371.5" r="10.2" fill="#b40000" stroke="none"/>
<path d="M1541.6 371.1L1528.0 368.0" stroke="#a8a8a8" stroke-width="20.4" stroke-linecap="butt"/>
<path d="M1434.5 326.0L1492.0 354.0" stroke="#5e5e5e" stroke-width="20.4" stroke-linecap="butt"/>
<path d="M1493.0 356.0L1466.0 438.0" stroke="#5e5e5e" stroke-width="16.0" stroke-linecap="butt"/>
</g>
<g fill="none" stroke-linejoin="round">
<path d="M1507.0 370.0L1503.2 379.9" stroke="#141414" stroke-width="19.0" stroke-linecap="butt"/>
<path d="M1503.2 379.9L1493.5 405.5" stroke="#141414" stroke-width="19.0" stroke-linecap="butt"/>
<path d="M1493.5 405.5L1480.0 441.0" stroke="#141414" stroke-width="21.0" stroke-linecap="butt"/>
<path d="M1510.5 393.0L1498.0 426.0" stroke="#141414" stroke-width="11.0" stroke-linecap="butt"/>
<path d="M1507.0 370.0L1503.2 379.9" stroke="#0000ff" stroke-width="15.0" stroke-linecap="butt"/>
<path d="M1503.2 379.9L1495.4 400.4" stroke="#a4a4a4" stroke-width="15.0" stroke-linecap="butt"/>
<path d="M1495.4 400.4L1493.5 405.5" stroke="#a8a8a8" stroke-width="15.0" stroke-linecap="butt"/>
<path d="M1493.5 405.5L1480.0 441.0" stroke="#0000ff" stroke-width="17.0" stroke-linecap="butt"/>
<path d="M1510.5 393.0L1498.0 426.0" stroke="#a8a8a8" stroke-width="7.0" stroke-linecap="butt"/>
<path d="M1503.2 379.9L1495.4 400.4" stroke="#f4b4aa" stroke-width="9.0" stroke-linecap="butt"/>
<path d="M1503.2 379.9L1495.4 400.4" stroke="#ffffa8" stroke-width="6.6" stroke-linecap="butt"/>
</g>
<g fill="none" stroke-linejoin="round">
<path d="M1487.0 351.0L1473.2 375.7" stroke="#141414" stroke-width="26.0" stroke-linecap="butt"/>
<path d="M1473.2 375.7L1447.9 421.0" stroke="#141414" stroke-width="28.0" stroke-linecap="butt"/>
<path d="M1447.9 421.0L1429.5 454.0" stroke="#141414" stroke-width="25.0" stroke-linecap="butt"/>
<circle cx="1429.5" cy="454.0" r="12.5" fill="#141414" stroke="none"/>
<path d="M1487.0 351.0L1473.2 375.7" stroke="#5e5e5e" stroke-width="22.0" stroke-linecap="butt"/>
<path d="M1473.2 375.7L1447.9 421.0" stroke="#0000ff" stroke-width="24.0" stroke-linecap="butt"/>
<path d="M1447.9 421.0L1429.5 454.0" stroke="#d8d296" stroke-width="21.0" stroke-linecap="butt"/>
<circle cx="1429.5" cy="454.0" r="10.5" fill="#d8d296" stroke="none"/>
<path d="M1447.9 421.0L1429.5 454.0" stroke="#a4a4a4" stroke-width="19.7" stroke-linecap="butt"/>
<circle cx="1429.5" cy="454.0" r="9.8" fill="#a4a4a4" stroke="none"/>
<path d="M1447.9 421.0L1429.5 454.0" stroke="#f4b4aa" stroke-width="15.0" stroke-linecap="butt"/>
<circle cx="1429.5" cy="454.0" r="7.5" fill="#f4b4aa" stroke="none"/>
<path d="M1447.9 421.0L1429.5 454.0" stroke="#ffffa8" stroke-width="12.6" stroke-linecap="butt"/>
<circle cx="1429.5" cy="454.0" r="6.3" fill="#ffffa8" stroke="none"/>
<path d="M1480 352.5L1489.5 355L1492 366L1487 377L1474 376.5Z" fill="#b9b250" stroke="none"/>
<path d="M1465.1 400.9L1452.4 423.5" stroke="#0000d0" stroke-width="11" />
<ellipse cx="1481.5" cy="406.5" rx="6.5" ry="9" transform="rotate(25 1481.5 406.5)" fill="#080808" stroke="none"/>
</g>
<g fill="none" stroke-linejoin="round">
<path d="M1515.9 131.3L1621.6 72.7" stroke="#141414" stroke-width="24.4" stroke-linecap="butt"/>
<circle cx="1515.9" cy="131.3" r="12.2" fill="#141414" stroke="none"/>
<circle cx="1621.6" cy="72.7" r="12.2" fill="#141414" stroke="none"/>
<path d="M1621.6 72.7L1639.0 128.9" stroke="#141414" stroke-width="24.4" stroke-linecap="butt"/>
<circle cx="1621.6" cy="72.7" r="12.2" fill="#141414" stroke="none"/>
<circle cx="1639.0" cy="128.9" r="12.2" fill="#141414" stroke="none"/>
<path d="M1537.8 183.9L1574.2 164.1" stroke="#141414" stroke-width="24.4" stroke-linecap="butt"/>
<path d="M1515.9 131.3L1537.8 183.9" stroke="#141414" stroke-width="24.4" stroke-linecap="butt"/>
<circle cx="1515.9" cy="131.3" r="12.2" fill="#141414" stroke="none"/>
<circle cx="1537.8" cy="183.9" r="12.2" fill="#141414" stroke="none"/>
<path d="M1639.0 128.9L1689.4 168.0" stroke="#141414" stroke-width="24.4" stroke-linecap="butt"/>
<circle cx="1639.0" cy="128.9" r="12.2" fill="#141414" stroke="none"/>
<circle cx="1689.4" cy="168.0" r="12.2" fill="#141414" stroke="none"/>
<path d="M1575.0 166.5L1639.0 128.9" stroke="#141414" stroke-width="24.4" stroke-linecap="butt"/>
<circle cx="1575.0" cy="166.5" r="12.2" fill="#141414" stroke="none"/>
<circle cx="1639.0" cy="128.9" r="12.2" fill="#141414" stroke="none"/>
<path d="M1689.4 168.0L1735.7 183.6" stroke="#141414" stroke-width="24.4" stroke-linecap="butt"/>
<circle cx="1689.4" cy="168.0" r="12.2" fill="#141414" stroke="none"/>
<path d="M1735.7 183.6L1770.0 190.5L1800.0 197.5L1830.0 204.5L1862.1 210.7" stroke="#141414" stroke-width="24.4" stroke-linecap="round"/>
<path d="M1537.8 183.9L1523.4 248.4" stroke="#141414" stroke-width="24.4" stroke-linecap="butt"/>
<circle cx="1537.8" cy="183.9" r="12.2" fill="#141414" stroke="none"/>
<circle cx="1523.4" cy="248.4" r="12.2" fill="#141414" stroke="none"/>
<path d="M1523.4 248.4L1494.7 259.2" stroke="#141414" stroke-width="24.4" stroke-linecap="butt"/>
<circle cx="1494.7" cy="259.2" r="12.2" fill="#141414" stroke="none"/>
<path d="M1523.4 248.4L1534.2 289.5" stroke="#141414" stroke-width="24.4" stroke-linecap="butt"/>
<circle cx="1523.4" cy="248.4" r="12.2" fill="#141414" stroke="none"/>
<circle cx="1534.2" cy="289.5" r="12.2" fill="#141414" stroke="none"/>
<path d="M1494.7 259.2L1474.6 321.7" stroke="#141414" stroke-width="24.4" stroke-linecap="butt"/>
<circle cx="1494.7" cy="259.2" r="12.2" fill="#141414" stroke="none"/>
<circle cx="1474.6" cy="321.7" r="12.2" fill="#141414" stroke="none"/>
<path d="M1434.5 326.0L1474.6 321.7" stroke="#141414" stroke-width="24.4" stroke-linecap="butt"/>
<circle cx="1434.5" cy="326.0" r="12.2" fill="#141414" stroke="none"/>
<path d="M1407.5 264.0L1434.5 326.0" stroke="#141414" stroke-width="24.4" stroke-linecap="butt"/>
<circle cx="1407.5" cy="264.0" r="12.2" fill="#141414" stroke="none"/>
<circle cx="1434.5" cy="326.0" r="12.2" fill="#141414" stroke="none"/>
<path d="M1474.6 321.7L1528.8 368.3" stroke="#141414" stroke-width="24.4" stroke-linecap="butt"/>
<circle cx="1474.6" cy="321.7" r="12.2" fill="#141414" stroke="none"/>
<circle cx="1528.8" cy="368.3" r="12.2" fill="#141414" stroke="none"/>
<path d="M1528.8 368.3L1519.5 441.5" stroke="#141414" stroke-width="24.4" stroke-linecap="butt"/>
<circle cx="1528.8" cy="368.3" r="12.2" fill="#141414" stroke="none"/>
<circle cx="1519.5" cy="441.5" r="12.2" fill="#141414" stroke="none"/>
<path d="M1519.5 441.5L1482.1 448.1" stroke="#141414" stroke-width="24.4" stroke-linecap="butt"/>
<circle cx="1519.5" cy="441.5" r="12.2" fill="#141414" stroke="none"/>
<path d="M1482.1 448.1L1455.0 456.5" stroke="#141414" stroke-width="24.4" stroke-linecap="butt"/>
<circle cx="1455.0" cy="456.5" r="12.2" fill="#141414" stroke="none"/>
<path d="M1455.0 456.5L1424.5 513.0" stroke="#141414" stroke-width="24.4" stroke-linecap="butt"/>
<circle cx="1455.0" cy="456.5" r="12.2" fill="#141414" stroke="none"/>
<circle cx="1424.5" cy="513.0" r="12.2" fill="#141414" stroke="none"/>
<path d="M1515.9 131.3L1570.9 100.8" stroke="#d8d296" stroke-width="20.4" stroke-linecap="butt"/>
<circle cx="1515.9" cy="131.3" r="10.2" fill="#d8d296" stroke="none"/>
<path d="M1570.9 100.8L1621.6 72.7" stroke="#5a5a5a" stroke-width="20.4" stroke-linecap="butt"/>
<circle cx="1621.6" cy="72.7" r="10.2" fill="#5a5a5a" stroke="none"/>
<path d="M1621.6 72.7L1639.0 128.9" stroke="#d8d296" stroke-width="20.4" stroke-linecap="butt"/>
<circle cx="1621.6" cy="72.7" r="10.2" fill="#d8d296" stroke="none"/>
<circle cx="1639.0" cy="128.9" r="10.2" fill="#d8d296" stroke="none"/>
<path d="M1537.8 183.9L1574.2 164.1" stroke="#5e5e5e" stroke-width="20.4" stroke-linecap="butt"/>
<path d="M1515.9 131.3L1527.3 158.7" stroke="#d8d296" stroke-width="20.4" stroke-linecap="butt"/>
<circle cx="1515.9" cy="131.3" r="10.2" fill="#d8d296" stroke="none"/>
<path d="M1527.3 158.7L1537.8 183.9" stroke="#0000ff" stroke-width="20.4" stroke-linecap="butt"/>
<circle cx="1537.8" cy="183.9" r="10.2" fill="#0000ff" stroke="none"/>
<path d="M1639.0 128.9L1665.2 149.2" stroke="#d8d296" stroke-width="20.4" stroke-linecap="butt"/>
<circle cx="1639.0" cy="128.9" r="10.2" fill="#d8d296" stroke="none"/>
<path d="M1665.2 149.2L1689.4 168.0" stroke="#0000ff" stroke-width="20.4" stroke-linecap="butt"/>
<circle cx="1689.4" cy="168.0" r="10.2" fill="#0000ff" stroke="none"/>
<path d="M1575.0 166.5L1639.0 128.9" stroke="#d8d296" stroke-width="20.4" stroke-linecap="butt"/>
<circle cx="1575.0" cy="166.5" r="10.2" fill="#d8d296" stroke="none"/>
<circle cx="1639.0" cy="128.9" r="10.2" fill="#d8d296" stroke="none"/>
<path d="M1689.4 168.0L1707.9 174.2" stroke="#0000ff" stroke-width="20.4" stroke-linecap="butt"/>
<circle cx="1689.4" cy="168.0" r="10.2" fill="#0000ff" stroke="none"/>
<path d="M1707.9 174.2L1735.7 183.6" stroke="#a8a8a8" stroke-width="20.4" stroke-linecap="butt"/>
<path d="M1735.7 183.6L1770.0 190.5L1800.0 197.5L1803.0 198.2" stroke="#d8d296" stroke-width="20.4" stroke-linecap="butt"/>
<path d="M1537.8 183.9L1530.6 216.2" stroke="#0000ff" stroke-width="20.4" stroke-linecap="butt"/>
<circle cx="1537.8" cy="183.9" r="10.2" fill="#0000ff" stroke="none"/>
<path d="M1530.6 216.2L1523.4 248.4" stroke="#d8d296" stroke-width="20.4" stroke-linecap="butt"/>
<circle cx="1523.4" cy="248.4" r="10.2" fill="#d8d296" stroke="none"/>
<path d="M1523.4 248.4L1510.5 253.3" stroke="#666600" stroke-width="20.4" stroke-linecap="butt"/>
<path d="M1510.5 253.3L1494.7 259.2" stroke="#6e0000" stroke-width="20.4" stroke-linecap="butt"/>
<circle cx="1494.7" cy="259.2" r="10.2" fill="#6e0000" stroke="none"/>
<path d="M1523.4 248.4L1527.9 265.7" stroke="#d8d296" stroke-width="20.4" stroke-linecap="butt"/>
<circle cx="1523.4" cy="248.4" r="10.2" fill="#d8d296" stroke="none"/>
<path d="M1527.9 265.7L1534.2 289.5" stroke="#ff1010" stroke-width="20.4" stroke-linecap="butt"/>
<circle cx="1534.2" cy="289.5" r="10.2" fill="#ff1010" stroke="none"/>
<path d="M1494.7 259.2L1484.7 290.4" stroke="#ff0000" stroke-width="20.4" stroke-linecap="butt"/>
<circle cx="1494.7" cy="259.2" r="10.2" fill="#ff0000" stroke="none"/>
<path d="M1484.7 290.4L1474.6 321.7" stroke="#d8d296" stroke-width="20.4" stroke-linecap="butt"/>
<circle cx="1474.6" cy="321.7" r="10.2" fill="#d8d296" stroke="none"/>
<path d="M1434.5 326.0L1474.6 321.7" stroke="#5e5e5e" stroke-width="20.4" stroke-linecap="butt"/>
<circle cx="1434.5" cy="326.0" r="10.2" fill="#5e5e5e" stroke="none"/>
<path d="M1407.5 264.0L1421.5 296.2" stroke="#ff1010" stroke-width="20.4" stroke-linecap="butt"/>
<circle cx="1407.5" cy="264.0" r="10.2" fill="#ff1010" stroke="none"/>
<path d="M1421.5 296.2L1434.5 326.0" stroke="#d8d296" stroke-width="20.4" stroke-linecap="butt"/>
<circle cx="1434.5" cy="326.0" r="10.2" fill="#d8d296" stroke="none"/>
<path d="M1474.6 321.7L1497.4 341.3" stroke="#5a5a5a" stroke-width="20.4" stroke-linecap="butt"/>
<circle cx="1474.6" cy="321.7" r="10.2" fill="#5a5a5a" stroke="none"/>
<path d="M1497.4 341.3L1528.8 368.3" stroke="#d8d296" stroke-width="20.4" stroke-linecap="butt"/>
<circle cx="1528.8" cy="368.3" r="10.2" fill="#d8d296" stroke="none"/>
<path d="M1528.8 368.3L1519.5 441.5" stroke="#d8d296" stroke-width="20.4" stroke-linecap="butt"/>
<circle cx="1528.8" cy="368.3" r="10.2" fill="#d8d296" stroke="none"/>
<circle cx="1519.5" cy="441.5" r="10.2" fill="#d8d296" stroke="none"/>
<path d="M1519.5 441.5L1482.1 448.1" stroke="#d8d296" stroke-width="20.4" stroke-linecap="butt"/>
<circle cx="1519.5" cy="441.5" r="10.2" fill="#d8d296" stroke="none"/>
<path d="M1482.1 448.1L1455.0 456.5" stroke="#ff1010" stroke-width="20.4" stroke-linecap="butt"/>
<circle cx="1455.0" cy="456.5" r="10.2" fill="#ff1010" stroke="none"/>
<path d="M1455.0 456.5L1439.8 484.8" stroke="#ff1010" stroke-width="20.4" stroke-linecap="butt"/>
<circle cx="1455.0" cy="456.5" r="10.2" fill="#ff1010" stroke="none"/>
<path d="M1439.8 484.8L1424.5 513.0" stroke="#ffffff" stroke-width="20.4" stroke-linecap="butt"/>
<circle cx="1424.5" cy="513.0" r="10.2" fill="#ffffff" stroke="none"/>
<path d="M1515.9 131.3L1570.9 100.8" stroke="#a4a4a4" stroke-width="19.1" stroke-linecap="butt"/>
<circle cx="1515.9" cy="131.3" r="9.5" fill="#a4a4a4" stroke="none"/>
<path d="M1621.6 72.7L1639.0 128.9" stroke="#a6a6a6" stroke-width="18.8" stroke-linecap="butt"/>
<circle cx="1621.6" cy="72.7" r="9.4" fill="#a6a6a6" stroke="none"/>
<circle cx="1639.0" cy="128.9" r="9.4" fill="#a6a6a6" stroke="none"/>
<path d="M1515.9 131.3L1527.3 158.7" stroke="#a4a4a4" stroke-width="19.1" stroke-linecap="butt"/>
<circle cx="1515.9" cy="131.3" r="9.5" fill="#a4a4a4" stroke="none"/>
<path d="M1639.0 128.9L1665.2 149.2" stroke="#a4a4a4" stroke-width="19.1" stroke-linecap="butt"/>
<circle cx="1639.0" cy="128.9" r="9.5" fill="#a4a4a4" stroke="none"/>
<path d="M1575.0 166.5L1639.0 128.9" stroke="#a4a4a4" stroke-width="19.1" stroke-linecap="butt"/>
<circle cx="1575.0" cy="166.5" r="9.5" fill="#a4a4a4" stroke="none"/>
<circle cx="1639.0" cy="128.9" r="9.5" fill="#a4a4a4" stroke="none"/>
<path d="M1735.7 183.6L1770.0 190.5L1800.0 197.5L1803.0 198.2" stroke="#a4a4a4" stroke-width="19.1" stroke-linecap="butt"/>
<path d="M1530.6 216.2L1523.4 248.4" stroke="#a4a4a4" stroke-width="19.1" stroke-linecap="butt"/>
<circle cx="1523.4" cy="248.4" r="9.5" fill="#a4a4a4" stroke="none"/>
<path d="M1523.4 248.4L1527.9 265.7" stroke="#a6a6a6" stroke-width="18.8" stroke-linecap="butt"/>
<circle cx="1523.4" cy="248.4" r="9.4" fill="#a6a6a6" stroke="none"/>
<path d="M1484.7 290.4L1474.6 321.7" stroke="#a4a4a4" stroke-width="19.1" stroke-linecap="butt"/>
<circle cx="1474.6" cy="321.7" r="9.5" fill="#a4a4a4" stroke="none"/>
<path d="M1421.5 296.2L1434.5 326.0" stroke="#a4a4a4" stroke-width="19.1" stroke-linecap="butt"/>
<circle cx="1434.5" cy="326.0" r="9.5" fill="#a4a4a4" stroke="none"/>
<path d="M1497.4 341.3L1528.8 368.3" stroke="#a4a4a4" stroke-width="19.1" stroke-linecap="butt"/>
<circle cx="1528.8" cy="368.3" r="9.5" fill="#a4a4a4" stroke="none"/>
<path d="M1528.8 368.3L1519.5 441.5" stroke="#a4a4a4" stroke-width="19.1" stroke-linecap="butt"/>
<circle cx="1528.8" cy="368.3" r="9.5" fill="#a4a4a4" stroke="none"/>
<circle cx="1519.5" cy="441.5" r="9.5" fill="#a4a4a4" stroke="none"/>
<path d="M1519.5 441.5L1482.1 448.1" stroke="#a4a4a4" stroke-width="19.1" stroke-linecap="butt"/>
<circle cx="1519.5" cy="441.5" r="9.5" fill="#a4a4a4" stroke="none"/>
<path d="M1515.9 131.3L1570.9 100.8" stroke="#f4b4aa" stroke-width="14.4" stroke-linecap="butt"/>
<circle cx="1515.9" cy="131.3" r="7.2" fill="#f4b4aa" stroke="none"/>
<path d="M1570.9 100.8L1621.6 72.7" stroke="#e46a6a" stroke-width="1.5" stroke-linecap="butt"/>
<circle cx="1621.6" cy="72.7" r="0.8" fill="#e46a6a" stroke="none"/>
<path d="M1621.6 72.7L1639.0 128.9" stroke="#ffaaaa" stroke-width="6.0" stroke-linecap="butt"/>
<circle cx="1621.6" cy="72.7" r="3.0" fill="#ffaaaa" stroke="none"/>
<circle cx="1639.0" cy="128.9" r="3.0" fill="#ffaaaa" stroke="none"/>
<path d="M1515.9 131.3L1527.3 158.7" stroke="#f4b4aa" stroke-width="14.4" stroke-linecap="butt"/>
<circle cx="1515.9" cy="131.3" r="7.2" fill="#f4b4aa" stroke="none"/>
<path d="M1639.0 128.9L1665.2 149.2" stroke="#f4b4aa" stroke-width="14.4" stroke-linecap="butt"/>
<circle cx="1639.0" cy="128.9" r="7.2" fill="#f4b4aa" stroke="none"/>
<path d="M1575.0 166.5L1639.0 128.9" stroke="#f4b4aa" stroke-width="14.4" stroke-linecap="butt"/>
<circle cx="1575.0" cy="166.5" r="7.2" fill="#f4b4aa" stroke="none"/>
<circle cx="1639.0" cy="128.9" r="7.2" fill="#f4b4aa" stroke="none"/>
<path d="M1735.7 183.6L1770.0 190.5L1800.0 197.5L1803.0 198.2" stroke="#f4b4aa" stroke-width="14.4" stroke-linecap="butt"/>
<path d="M1530.6 216.2L1523.4 248.4" stroke="#f4b4aa" stroke-width="14.4" stroke-linecap="butt"/>
<circle cx="1523.4" cy="248.4" r="7.2" fill="#f4b4aa" stroke="none"/>
<path d="M1523.4 248.4L1527.9 265.7" stroke="#ffaaaa" stroke-width="6.0" stroke-linecap="butt"/>
<circle cx="1523.4" cy="248.4" r="3.0" fill="#ffaaaa" stroke="none"/>
<path d="M1527.9 265.7L1534.2 289.5" stroke="#ff5555" stroke-width="15.9" stroke-linecap="butt"/>
<circle cx="1534.2" cy="289.5" r="7.9" fill="#ff5555" stroke="none"/>
<path d="M1494.7 259.2L1484.7 290.4" stroke="#b40000" stroke-width="15.4" stroke-linecap="butt"/>
<circle cx="1494.7" cy="259.2" r="7.7" fill="#b40000" stroke="none"/>
<path d="M1484.7 290.4L1474.6 321.7" stroke="#f4b4aa" stroke-width="14.4" stroke-linecap="butt"/>
<circle cx="1474.6" cy="321.7" r="7.2" fill="#f4b4aa" stroke="none"/>
<path d="M1407.5 264.0L1421.5 296.2" stroke="#ff5555" stroke-width="15.9" stroke-linecap="butt"/>
<circle cx="1407.5" cy="264.0" r="7.9" fill="#ff5555" stroke="none"/>
<path d="M1421.5 296.2L1434.5 326.0" stroke="#f4b4aa" stroke-width="14.4" stroke-linecap="butt"/>
<circle cx="1434.5" cy="326.0" r="7.2" fill="#f4b4aa" stroke="none"/>
<path d="M1474.6 321.7L1497.4 341.3" stroke="#e46a6a" stroke-width="1.5" stroke-linecap="butt"/>
<circle cx="1474.6" cy="321.7" r="0.8" fill="#e46a6a" stroke="none"/>
<path d="M1497.4 341.3L1528.8 368.3" stroke="#f4b4aa" stroke-width="14.4" stroke-linecap="butt"/>
<circle cx="1528.8" cy="368.3" r="7.2" fill="#f4b4aa" stroke="none"/>
<path d="M1528.8 368.3L1519.5 441.5" stroke="#f4b4aa" stroke-width="14.4" stroke-linecap="butt"/>
<circle cx="1528.8" cy="368.3" r="7.2" fill="#f4b4aa" stroke="none"/>
<circle cx="1519.5" cy="441.5" r="7.2" fill="#f4b4aa" stroke="none"/>
<path d="M1519.5 441.5L1482.1 448.1" stroke="#f4b4aa" stroke-width="14.4" stroke-linecap="butt"/>
<circle cx="1519.5" cy="441.5" r="7.2" fill="#f4b4aa" stroke="none"/>
<path d="M1482.1 448.1L1455.0 456.5" stroke="#ff5555" stroke-width="15.9" stroke-linecap="butt"/>
<circle cx="1455.0" cy="456.5" r="7.9" fill="#ff5555" stroke="none"/>
<path d="M1455.0 456.5L1439.8 484.8" stroke="#ff5555" stroke-width="15.9" stroke-linecap="butt"/>
<circle cx="1455.0" cy="456.5" r="7.9" fill="#ff5555" stroke="none"/>
<path d="M1515.9 131.3L1570.9 100.8" stroke="#ffffa8" stroke-width="12.0" stroke-linecap="butt"/>
<circle cx="1515.9" cy="131.3" r="6.0" fill="#ffffa8" stroke="none"/>
<path d="M1515.9 131.3L1527.3 158.7" stroke="#ffffa8" stroke-width="12.0" stroke-linecap="butt"/>
<circle cx="1515.9" cy="131.3" r="6.0" fill="#ffffa8" stroke="none"/>
<path d="M1639.0 128.9L1665.2 149.2" stroke="#ffffa8" stroke-width="12.0" stroke-linecap="butt"/>
<circle cx="1639.0" cy="128.9" r="6.0" fill="#ffffa8" stroke="none"/>
<path d="M1575.0 166.5L1639.0 128.9" stroke="#ffffa8" stroke-width="12.0" stroke-linecap="butt"/>
<circle cx="1575.0" cy="166.5" r="6.0" fill="#ffffa8" stroke="none"/>
<circle cx="1639.0" cy="128.9" r="6.0" fill="#ffffa8" stroke="none"/>
<path d="M1735.7 183.6L1770.0 190.5L1800.0 197.5L1803.0 198.2" stroke="#ffffa8" stroke-width="12.0" stroke-linecap="butt"/>
<path d="M1530.6 216.2L1523.4 248.4" stroke="#ffffa8" stroke-width="12.0" stroke-linecap="butt"/>
<circle cx="1523.4" cy="248.4" r="6.0" fill="#ffffa8" stroke="none"/>
<path d="M1484.7 290.4L1474.6 321.7" stroke="#ffffa8" stroke-width="12.0" stroke-linecap="butt"/>
<circle cx="1474.6" cy="321.7" r="6.0" fill="#ffffa8" stroke="none"/>
<path d="M1421.5 296.2L1434.5 326.0" stroke="#ffffa8" stroke-width="12.0" stroke-linecap="butt"/>
<circle cx="1434.5" cy="326.0" r="6.0" fill="#ffffa8" stroke="none"/>
<path d="M1497.4 341.3L1528.8 368.3" stroke="#ffffa8" stroke-width="12.0" stroke-linecap="butt"/>
<circle cx="1528.8" cy="368.3" r="6.0" fill="#ffffa8" stroke="none"/>
<path d="M1528.8 368.3L1519.5 441.5" stroke="#ffffa8" stroke-width="12.0" stroke-linecap="butt"/>
<circle cx="1528.8" cy="368.3" r="6.0" fill="#ffffa8" stroke="none"/>
<circle cx="1519.5" cy="441.5" r="6.0" fill="#ffffa8" stroke="none"/>
<path d="M1519.5 441.5L1482.1 448.1" stroke="#ffffa8" stroke-width="12.0" stroke-linecap="butt"/>
<circle cx="1519.5" cy="441.5" r="6.0" fill="#ffffa8" stroke="none"/>
<path d="M1803.0 198.2L1830.0 204.5L1862.1 210.7" stroke="#a8a8a8" stroke-width="20.4" stroke-linecap="butt"/>
<circle cx="1862.1" cy="210.7" r="10.2" fill="#a8a8a8" stroke="none"/>
</g>
<g fill="none" stroke-linejoin="round">
<circle cx="1575.0" cy="166.5" r="11.6" fill="none" stroke="#1a1a1a" stroke-width="1.4" stroke-dasharray="36.4 36.5" transform="rotate(59 1575.0 166.5)"/>
<path d="M1575.0 166.5L1639.0 128.9" stroke="#d8d296" stroke-width="20.4" stroke-linecap="butt"/>
<circle cx="1575.0" cy="166.5" r="10.2" fill="#d8d296" stroke="none"/>
<circle cx="1639.0" cy="128.9" r="10.2" fill="#d8d296" stroke="none"/>
<path d="M1639.0 128.9L1664.2 148.4" stroke="#d8d296" stroke-width="20.4" stroke-linecap="butt"/>
<circle cx="1639.0" cy="128.9" r="10.2" fill="#d8d296" stroke="none"/>
<path d="M1575.0 166.5L1639.0 128.9" stroke="#a4a4a4" stroke-width="19.1" stroke-linecap="butt"/>
<circle cx="1575.0" cy="166.5" r="9.5" fill="#a4a4a4" stroke="none"/>
<circle cx="1639.0" cy="128.9" r="9.5" fill="#a4a4a4" stroke="none"/>
<path d="M1639.0 128.9L1664.2 148.4" stroke="#a4a4a4" stroke-width="19.1" stroke-linecap="butt"/>
<circle cx="1639.0" cy="128.9" r="9.5" fill="#a4a4a4" stroke="none"/>
<path d="M1575.0 166.5L1639.0 128.9" stroke="#f4b4aa" stroke-width="14.4" stroke-linecap="butt"/>
<circle cx="1575.0" cy="166.5" r="7.2" fill="#f4b4aa" stroke="none"/>
<circle cx="1639.0" cy="128.9" r="7.2" fill="#f4b4aa" stroke="none"/>
<path d="M1639.0 128.9L1664.2 148.4" stroke="#f4b4aa" stroke-width="14.4" stroke-linecap="butt"/>
<circle cx="1639.0" cy="128.9" r="7.2" fill="#f4b4aa" stroke="none"/>
<path d="M1575.0 166.5L1639.0 128.9" stroke="#ffffa8" stroke-width="12.0" stroke-linecap="butt"/>
<circle cx="1575.0" cy="166.5" r="6.0" fill="#ffffa8" stroke="none"/>
<circle cx="1639.0" cy="128.9" r="6.0" fill="#ffffa8" stroke="none"/>
<path d="M1639.0 128.9L1664.2 148.4" stroke="#ffffa8" stroke-width="12.0" stroke-linecap="butt"/>
<circle cx="1639.0" cy="128.9" r="6.0" fill="#ffffa8" stroke="none"/>
</g>
<g fill="none" stroke-linejoin="round">
<path d="M1537.8 183.9L1527.9 160.2" stroke="#0000ff" stroke-width="20.4" stroke-linecap="butt"/>
<path d="M1537.8 183.9L1530.6 216.2" stroke="#0000ff" stroke-width="20.4" stroke-linecap="butt"/>
<path d="M1494.7 259.2L1484.7 290.4" stroke="#ff0000" stroke-width="20.4" stroke-linecap="butt"/>
<path d="M1494.7 259.2L1484.7 290.4" stroke="#b40000" stroke-width="15.4" stroke-linecap="butt"/>
<circle cx="1539.8" cy="185.4" r="10" fill="#00006e" stroke="none"/>
</g>
<circle cx="1735.7" cy="183.6" r="11.2" fill="#e80000" stroke="#1a1a1a" stroke-width="1.3"/>
<circle cx="1736.3" cy="182.6" r="7.6" fill="#ff5555"/>
<circle cx="1863.1" cy="210.7" r="6.2" fill="#ffe9b0"/>
<g fill="none" stroke-linejoin="round">
<path d="M1424.5 513.0L1427.0 529.0" stroke="#141414" stroke-width="20.0" stroke-linecap="butt"/>
<circle cx="1427.0" cy="529.0" r="10.0" fill="#141414" stroke="none"/>
<path d="M1424.5 513.0L1373.0 549.0" stroke="#141414" stroke-width="24.4" stroke-linecap="butt"/>
<circle cx="1373.0" cy="549.0" r="12.2" fill="#141414" stroke="none"/>
<path d="M1424.5 513.0L1410.3 470.0" stroke="#141414" stroke-width="24.4" stroke-linecap="butt"/>
<circle cx="1410.3" cy="470.0" r="12.2" fill="#141414" stroke="none"/>
<path d="M1424.5 513.0L1503.5 587.0" stroke="#141414" stroke-width="24.4" stroke-linecap="butt"/>
<path d="M1483.0 567.8L1503.5 587.0" stroke="#141414" stroke-width="24.4" stroke-linecap="butt"/>
<path d="M1424.5 513.0L1425.9 521.8" stroke="#ffffff" stroke-width="16.0" stroke-linecap="butt"/>
<path d="M1425.9 521.8L1427.0 529.0" stroke="#ff0000" stroke-width="16.0" stroke-linecap="butt"/>
<circle cx="1427.0" cy="529.0" r="8.0" fill="#ff0000" stroke="none"/>
<path d="M1424.5 513.0L1400.8 529.6" stroke="#c4c4c4" stroke-width="20.4" stroke-linecap="butt"/>
<path d="M1400.8 529.6L1373.0 549.0" stroke="#ff0000" stroke-width="20.4" stroke-linecap="butt"/>
<circle cx="1373.0" cy="549.0" r="10.2" fill="#ff0000" stroke="none"/>
<path d="M1424.5 513.0L1418.5 494.9" stroke="#c8c8c8" stroke-width="20.4" stroke-linecap="butt"/>
<path d="M1418.5 494.9L1410.3 470.0" stroke="#ff0000" stroke-width="20.4" stroke-linecap="butt"/>
<circle cx="1410.3" cy="470.0" r="10.2" fill="#ff0000" stroke="none"/>
<path d="M1424.5 513.0L1454.5 541.1" stroke="#ffffff" stroke-width="20.4" stroke-linecap="butt"/>
<path d="M1454.5 541.1L1503.5 587.0" stroke="#ff1010" stroke-width="20.4" stroke-linecap="butt"/>
<path d="M1483.0 567.8L1491.2 575.5" stroke="#b40000" stroke-width="20.4" stroke-linecap="butt"/>
<path d="M1491.2 575.5L1503.5 587.0" stroke="#c4c4c4" stroke-width="20.4" stroke-linecap="butt"/>
<path d="M1425.9 521.8L1427.0 529.0" stroke="#ff5050" stroke-width="9.5" stroke-linecap="butt"/>
<circle cx="1427.0" cy="529.0" r="4.8" fill="#ff5050" stroke="none"/>
<path d="M1424.5 513.0L1400.8 529.6" stroke="#ffffff" stroke-width="13.4" stroke-linecap="butt"/>
<path d="M1400.8 529.6L1373.0 549.0" stroke="#ff5050" stroke-width="13.9" stroke-linecap="butt"/>
<circle cx="1373.0" cy="549.0" r="6.9" fill="#ff5050" stroke="none"/>
<path d="M1418.5 494.9L1410.3 470.0" stroke="#b40000" stroke-width="15.4" stroke-linecap="butt"/>
<circle cx="1410.3" cy="470.0" r="7.7" fill="#b40000" stroke="none"/>
<path d="M1454.5 541.1L1503.5 587.0" stroke="#ff5555" stroke-width="15.9" stroke-linecap="butt"/>
<path d="M1491.2 575.5L1503.5 587.0" stroke="#ffffff" stroke-width="13.4" stroke-linecap="butt"/>
</g>
<g fill="none" stroke-linejoin="round">
<path d="M1503.5 587.0L1451.5 639.5" stroke="#141414" stroke-width="24.4" stroke-linecap="butt"/>
<circle cx="1451.5" cy="639.5" r="12.2" fill="#141414" stroke="none"/>
<path d="M1503.5 587.0L1478.5 612.2" stroke="#ffffff" stroke-width="20.4" stroke-linecap="butt"/>
<path d="M1478.5 612.2L1451.5 639.5" stroke="#ff1010" stroke-width="20.4" stroke-linecap="butt"/>
<circle cx="1451.5" cy="639.5" r="10.2" fill="#ff1010" stroke="none"/>
<path d="M1478.5 612.2L1451.5 639.5" stroke="#ff5555" stroke-width="15.9" stroke-linecap="butt"/>
<circle cx="1451.5" cy="639.5" r="7.9" fill="#ff5555" stroke="none"/>
</g>
<circle cx="1435.7" cy="593.5" r="41.6" fill="#3f8e0c" stroke="#0f1f00" stroke-width="1.6"/>
<circle cx="1437.5" cy="590.5" r="36.5" fill="#5aa910"/>
<circle cx="1441.0" cy="587.5" r="27.0" fill="#7df00e"/>
<circle cx="1442.5" cy="586.0" r="19.5" fill="#a6fa0c"/>
<g fill="none" stroke-linejoin="round">
<path d="M1503.5 587.0L1571.0 609.5" stroke="#141414" stroke-width="24.4" stroke-linecap="butt"/>
<circle cx="1571.0" cy="609.5" r="12.2" fill="#141414" stroke="none"/>
<path d="M1503.5 587.0L1494.0 528.3" stroke="#141414" stroke-width="24.4" stroke-linecap="butt"/>
<circle cx="1494.0" cy="528.3" r="12.2" fill="#141414" stroke="none"/>
<path d="M1503.5 587.0L1533.9 597.1" stroke="#ffffff" stroke-width="20.4" stroke-linecap="butt"/>
<path d="M1533.9 597.1L1571.0 609.5" stroke="#ff1010" stroke-width="20.4" stroke-linecap="butt"/>
<circle cx="1571.0" cy="609.5" r="10.2" fill="#ff1010" stroke="none"/>
<path d="M1503.5 587.0L1499.5 562.3" stroke="#c8c8c8" stroke-width="20.4" stroke-linecap="butt"/>
<path d="M1499.5 562.3L1494.0 528.3" stroke="#ff0000" stroke-width="20.4" stroke-linecap="butt"/>
<circle cx="1494.0" cy="528.3" r="10.2" fill="#ff0000" stroke="none"/>
<path d="M1533.9 597.1L1571.0 609.5" stroke="#ff5555" stroke-width="15.9" stroke-linecap="butt"/>
<circle cx="1571.0" cy="609.5" r="7.9" fill="#ff5555" stroke="none"/>
<path d="M1499.5 562.3L1494.0 528.3" stroke="#b40000" stroke-width="15.4" stroke-linecap="butt"/>
<circle cx="1494.0" cy="528.3" r="7.7" fill="#b40000" stroke="none"/>
</g>
<path d="M1731.4 194.8L1729.4 201.0M1722.8 222.3L1720.8 228.5M1714.1 248.9L1712.1 255.1M1705.5 276.1L1703.5 282.3M1696.5 303.4L1694.5 309.6M1688.6 330.4L1686.6 336.6" stroke="#2a2a00" stroke-width="7.6" stroke-linecap="round" fill="none"/>
<path d="M1731.4 194.8L1729.4 201.0M1722.8 222.3L1720.8 228.5M1714.1 248.9L1712.1 255.1M1705.5 276.1L1703.5 282.3M1696.5 303.4L1694.5 309.6M1688.6 330.4L1686.6 336.6" stroke="#ffff00" stroke-width="5.2" stroke-linecap="round" fill="none"/>
<path d="M1852.5 216.8L1847.3 220.8M1831.2 232.8L1826.0 236.8M1808.1 250.7L1802.9 254.7M1784.8 268.6L1779.6 272.6M1761.9 285.9L1756.7 289.9M1739.0 303.9L1733.8 307.9M1715.7 321.8L1710.5 325.8M1696.1 337.4L1690.9 341.4" stroke="#2a2a00" stroke-width="7.6" stroke-linecap="round" fill="none"/>
<path d="M1852.5 216.8L1847.3 220.8M1831.2 232.8L1826.0 236.8M1808.1 250.7L1802.9 254.7M1784.8 268.6L1779.6 272.6M1761.9 285.9L1756.7 289.9M1739.0 303.9L1733.8 307.9M1715.7 321.8L1710.5 325.8M1696.1 337.4L1690.9 341.4" stroke="#ffff00" stroke-width="5.2" stroke-linecap="round" fill="none"/>
</svg>
</body></html>
